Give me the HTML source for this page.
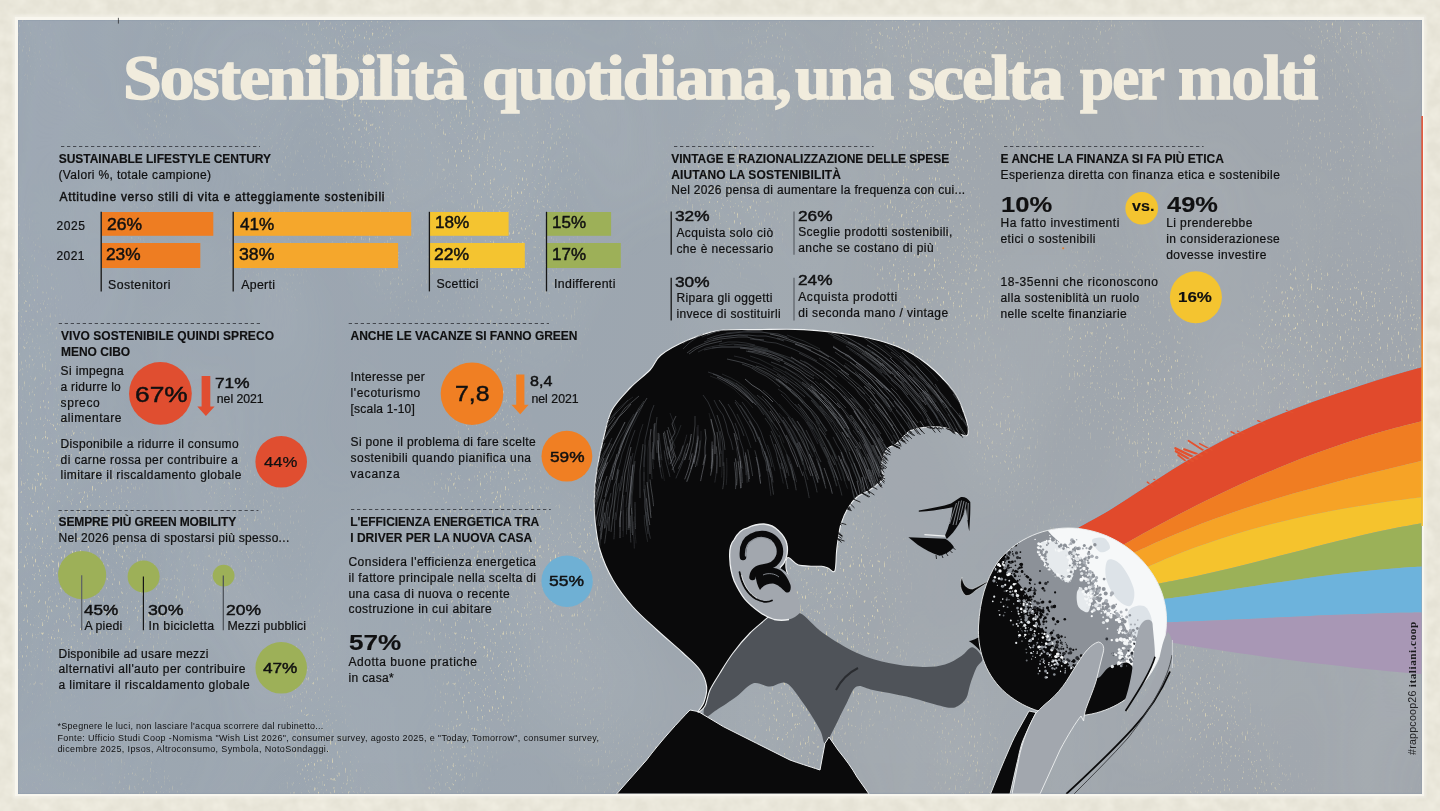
<!DOCTYPE html>
<html lang="it"><head><meta charset="utf-8"><title>Sostenibilità quotidiana, una scelta per molti</title>
<style>
html,body{margin:0;padding:0}
body{width:1440px;height:811px;overflow:hidden;background:#e5e2d5;position:relative;font-family:"Liberation Sans",sans-serif;color:#161616}
#panel{position:absolute;left:14.6px;top:16.8px;width:1409.4px;height:779.4px;background:#f8f6ee;box-shadow:0 0 3px 2px rgba(243,241,232,.8)}
#panel i{position:absolute;left:3.6px;top:3.4px;right:2.4px;bottom:2.5px;background:linear-gradient(100deg,#9aa5b1 0%,#9ca6b0 38%,#a0a7ae 62%,#a0a6ad 100%);display:block;box-shadow:inset 0 0 2px 0 #8595a8}
svg{position:absolute;left:0;top:0}
#txt{position:absolute;left:0;top:0;width:1440px;height:811px;will-change:transform}
.t{position:absolute;white-space:nowrap;line-height:1;transform-origin:0 0;color:#101011;-webkit-text-stroke:0.22px #101011}
.t.ttl{font-family:"Liberation Serif",serif;color:#f1ecdd;-webkit-text-stroke:1.4px #f1ecdd;letter-spacing:-1.8px}
.b{font-weight:700}
.m{-webkit-text-stroke:0.45px #101011}
.b{-webkit-text-stroke:0.15px #101011}
.mb{-webkit-text-stroke:0.75px #101011}
#vt{position:absolute;left:1406.6px;top:755px;transform-origin:0 0;transform:rotate(-90deg);white-space:nowrap;font-size:10.6px;line-height:1;letter-spacing:.25px;color:#1a1a1c}
#vt b{font-family:"Liberation Serif",serif;font-size:11.2px;letter-spacing:.55px}
</style></head><body>
<div id="panel"><i></i></div>
<svg width="1440" height="811" viewBox="0 0 1440 811">
<defs>
<filter id="spk" x="0" y="0" width="100%" height="100%" color-interpolation-filters="sRGB">
 <feTurbulence type="fractalNoise" baseFrequency="0.62 0.22" numOctaves="2" seed="4" result="fine"/>
 <feColorMatrix in="fine" type="matrix" values="0 0 0 0 0.91  0 0 0 0 0.87  0 0 0 0 0.72  6 0 0 0 -3.9" result="dots"/>
 <feTurbulence type="fractalNoise" baseFrequency="0.007 0.004" numOctaves="2" seed="9" result="low"/>
 <feColorMatrix in="low" type="matrix" values="0 0 0 0 1  0 0 0 0 1  0 0 0 0 1  0 5 0 0 -2.25" result="mask"/>
 <feComposite in="dots" in2="mask" operator="in" result="sp"/>
 <feColorMatrix in="low" type="matrix" values="0 0 0 0 0.93  0 0 0 0 0.93  0 0 0 0 0.90  0 0 0.24 0 -0.08" result="haze"/>
 <feMerge><feMergeNode in="haze"/><feMergeNode in="sp"/></feMerge>
</filter>
<filter id="mot" x="0" y="0" width="100%" height="100%" color-interpolation-filters="sRGB">
 <feTurbulence type="fractalNoise" baseFrequency="0.07" numOctaves="3" seed="2"/>
 <feColorMatrix type="matrix" values="0 0 0 0 0.955  0 0 0 0 0.945  0 0 0 0 0.9  0 0 1.2 0 -0.3"/>
</filter>
<clipPath id="outer"><path clip-rule="evenodd" d="M0 0H1440V811H0ZM15 17H1424V796H15Z"/></clipPath>
</defs>
<rect x="0" y="0" width="1440" height="811" filter="url(#mot)" clip-path="url(#outer)"/>
<g clip-path="url(#pclip)"><rect x="18" y="20" width="1404" height="774" filter="url(#spk)" opacity=".75"/></g>
<defs><clipPath id="pclip"><rect x="18.4" y="20.4" width="1403" height="773"/></clipPath></defs>

<defs><clipPath id="iclip"><rect x="18" y="20" width="1403.6" height="773.7"/></clipPath></defs><g clip-path="url(#iclip)">
<g id="rainbow">
<path d="M1075.0 545.0L1078.9 526.9C1084.1 524.0 1099.8 515.7 1110.2 509.4C1120.6 503.1 1131.0 495.9 1141.5 489.2C1151.9 482.5 1162.3 475.5 1172.7 469.0C1183.2 462.5 1193.6 456.2 1204.0 450.3C1214.5 444.5 1224.9 439.0 1235.3 433.8C1245.7 428.7 1256.2 424.0 1266.6 419.5C1277.0 415.1 1287.4 411.0 1297.9 407.0C1308.3 403.0 1318.7 399.3 1329.2 395.7C1339.6 392.1 1350.0 388.6 1360.4 385.2C1370.9 381.8 1381.3 378.4 1391.7 375.3C1402.1 372.2 1417.8 367.9 1423.0 366.5L1423.0 421.0C1418.5 422.2 1404.9 425.4 1395.9 427.8C1386.8 430.2 1377.8 432.8 1368.7 435.5C1359.7 438.2 1350.6 441.1 1341.6 444.2C1332.5 447.2 1323.5 450.4 1314.4 453.8C1305.4 457.1 1296.3 460.6 1287.3 464.3C1278.2 467.9 1269.2 471.7 1260.1 475.6C1251.1 479.6 1242.0 483.6 1233.0 487.8C1223.9 492.0 1214.9 496.4 1205.8 500.8C1196.8 505.3 1187.7 509.9 1178.7 514.6C1169.6 519.3 1160.6 524.1 1151.5 529.1C1142.5 534.0 1128.9 541.7 1124.4 544.3L1090.0 560.0Z" fill="#e14a2c"/>
<path d="M1090.0 560.0L1124.4 544.3C1128.9 541.7 1142.5 534.0 1151.5 529.1C1160.6 524.1 1169.6 519.3 1178.7 514.6C1187.7 509.9 1196.8 505.3 1205.8 500.8C1214.9 496.4 1223.9 492.0 1233.0 487.8C1242.0 483.6 1251.1 479.6 1260.1 475.6C1269.2 471.7 1278.2 467.9 1287.3 464.3C1296.3 460.6 1305.4 457.1 1314.4 453.8C1323.5 450.4 1332.5 447.2 1341.6 444.2C1350.6 441.1 1359.7 438.2 1368.7 435.5C1377.8 432.8 1386.8 430.2 1395.9 427.8C1404.9 425.4 1418.5 422.2 1423.0 421.0L1423.0 460.5C1418.7 461.5 1405.7 464.7 1397.1 466.8C1388.4 468.9 1379.8 471.0 1371.1 473.1C1362.5 475.3 1353.8 477.4 1345.2 479.6C1336.5 481.9 1327.9 484.1 1319.3 486.5C1310.6 488.8 1302.0 491.2 1293.3 493.6C1284.7 496.1 1276.0 498.7 1267.4 501.3C1258.7 504.0 1250.1 506.7 1241.4 509.6C1232.8 512.5 1224.2 515.5 1215.5 518.6C1206.9 521.8 1198.2 525.0 1189.6 528.4C1180.9 531.9 1172.3 535.4 1163.6 539.2C1155.0 542.9 1142.0 549.0 1137.7 550.9L1095.0 568.0Z" fill="#f07d22"/>
<path d="M1095.0 568.0L1137.7 550.9C1142.0 549.0 1155.0 542.9 1163.6 539.2C1172.3 535.4 1180.9 531.9 1189.6 528.4C1198.2 525.0 1206.9 521.8 1215.5 518.6C1224.2 515.5 1232.8 512.5 1241.4 509.6C1250.1 506.7 1258.7 504.0 1267.4 501.3C1276.0 498.7 1284.7 496.1 1293.3 493.6C1302.0 491.2 1310.6 488.8 1319.3 486.5C1327.9 484.1 1336.5 481.9 1345.2 479.6C1353.8 477.4 1362.5 475.3 1371.1 473.1C1379.8 471.0 1388.4 468.9 1397.1 466.8C1405.7 464.7 1418.7 461.5 1423.0 460.5L1423.0 497.1C1418.8 497.6 1406.2 499.1 1397.8 500.3C1389.4 501.4 1381.0 502.6 1372.6 503.9C1364.2 505.2 1355.8 506.5 1347.5 508.0C1339.1 509.4 1330.7 511.0 1322.3 512.7C1313.9 514.3 1305.5 516.1 1297.1 518.0C1288.7 519.9 1280.3 521.9 1271.9 524.0C1263.5 526.2 1255.1 528.4 1246.7 530.8C1238.3 533.3 1229.9 535.8 1221.5 538.5C1213.2 541.2 1204.8 544.1 1196.4 547.1C1188.0 550.2 1179.6 553.4 1171.2 556.7C1162.8 560.1 1150.2 565.7 1146.0 567.4L1100.0 580.0Z" fill="#f6a326"/>
<path d="M1100.0 580.0L1146.0 567.4C1150.2 565.7 1162.8 560.1 1171.2 556.7C1179.6 553.4 1188.0 550.2 1196.4 547.1C1204.8 544.1 1213.2 541.2 1221.5 538.5C1229.9 535.8 1238.3 533.3 1246.7 530.8C1255.1 528.4 1263.5 526.2 1271.9 524.0C1280.3 521.9 1288.7 519.9 1297.1 518.0C1305.5 516.1 1313.9 514.3 1322.3 512.7C1330.7 511.0 1339.1 509.4 1347.5 508.0C1355.8 506.5 1364.2 505.2 1372.6 503.9C1381.0 502.6 1389.4 501.4 1397.8 500.3C1406.2 499.1 1418.8 497.6 1423.0 497.1L1423.0 523.0C1419.0 523.7 1407.0 525.8 1399.0 527.3C1390.9 528.9 1382.9 530.6 1374.9 532.3C1366.9 534.1 1358.9 535.9 1350.9 537.9C1342.8 539.8 1334.8 541.7 1326.8 543.8C1318.8 545.8 1310.8 547.8 1302.8 549.9C1294.8 551.9 1286.7 554.0 1278.7 556.1C1270.7 558.2 1262.7 560.2 1254.7 562.3C1246.7 564.3 1238.7 566.3 1230.6 568.2C1222.6 570.1 1214.6 572.0 1206.6 573.8C1198.6 575.6 1190.6 577.3 1182.5 578.9C1174.5 580.5 1162.5 582.6 1158.5 583.4L1105.0 598.0Z" fill="#f5c32d"/>
<path d="M1105.0 598.0L1158.5 583.4C1162.5 582.6 1174.5 580.5 1182.5 578.9C1190.6 577.3 1198.6 575.6 1206.6 573.8C1214.6 572.0 1222.6 570.1 1230.6 568.2C1238.7 566.3 1246.7 564.3 1254.7 562.3C1262.7 560.2 1270.7 558.2 1278.7 556.1C1286.7 554.0 1294.8 551.9 1302.8 549.9C1310.8 547.8 1318.8 545.8 1326.8 543.8C1334.8 541.7 1342.8 539.8 1350.9 537.9C1358.9 535.9 1366.9 534.1 1374.9 532.3C1382.9 530.6 1390.9 528.9 1399.0 527.3C1407.0 525.8 1419.0 523.7 1423.0 523.0L1423.0 566.5C1419.1 566.8 1407.3 567.4 1399.4 568.0C1391.5 568.5 1383.7 569.2 1375.8 570.0C1367.9 570.7 1360.1 571.6 1352.2 572.5C1344.3 573.4 1336.5 574.3 1328.6 575.3C1320.7 576.3 1312.9 577.4 1305.0 578.5C1297.1 579.6 1289.3 580.7 1281.4 581.9C1273.5 583.0 1265.7 584.2 1257.8 585.4C1249.9 586.6 1242.1 587.8 1234.2 589.0C1226.3 590.1 1218.5 591.3 1210.6 592.5C1202.7 593.6 1194.9 594.8 1187.0 595.9C1179.1 596.9 1167.3 598.5 1163.4 599.0L1110.0 608.0Z" fill="#9bb158"/>
<path d="M1110.0 608.0L1163.4 599.0C1167.3 598.5 1179.1 596.9 1187.0 595.9C1194.9 594.8 1202.7 593.6 1210.6 592.5C1218.5 591.3 1226.3 590.1 1234.2 589.0C1242.1 587.8 1249.9 586.6 1257.8 585.4C1265.7 584.2 1273.5 583.0 1281.4 581.9C1289.3 580.7 1297.1 579.6 1305.0 578.5C1312.9 577.4 1320.7 576.3 1328.6 575.3C1336.5 574.3 1344.3 573.4 1352.2 572.5C1360.1 571.6 1367.9 570.7 1375.8 570.0C1383.7 569.2 1391.5 568.5 1399.4 568.0C1407.3 567.4 1419.1 566.8 1423.0 566.5L1423.0 612.5C1419.1 612.5 1407.5 612.7 1399.7 612.8C1392.0 613.0 1384.2 613.2 1376.5 613.4C1368.7 613.7 1361.0 613.9 1353.2 614.2C1345.5 614.5 1337.7 614.8 1329.9 615.1C1322.2 615.5 1314.4 615.8 1306.7 616.2C1298.9 616.5 1291.2 616.9 1283.4 617.3C1275.7 617.6 1267.9 618.0 1260.2 618.4C1252.4 618.7 1244.6 619.1 1236.9 619.5C1229.1 619.8 1221.4 620.2 1213.6 620.5C1205.9 620.8 1198.1 621.2 1190.4 621.4C1182.6 621.7 1171.0 622.1 1167.1 622.2L1115.0 618.0Z" fill="#6db3dc"/>
<path d="M1115.0 618.0L1167.1 622.2C1171.0 622.1 1182.6 621.7 1190.4 621.4C1198.1 621.2 1205.9 620.8 1213.6 620.5C1221.4 620.2 1229.1 619.8 1236.9 619.5C1244.6 619.1 1252.4 618.7 1260.2 618.4C1267.9 618.0 1275.7 617.6 1283.4 617.3C1291.2 616.9 1298.9 616.5 1306.7 616.2C1314.4 615.8 1322.2 615.5 1329.9 615.1C1337.7 614.8 1345.5 614.5 1353.2 614.2C1361.0 613.9 1368.7 613.7 1376.5 613.4C1384.2 613.2 1392.0 613.0 1399.7 612.8C1407.5 612.7 1419.1 612.5 1423.0 612.5L1423.0 674.2C1419.2 673.9 1407.7 672.9 1400.1 672.2C1392.4 671.5 1384.8 670.8 1377.1 670.0C1369.5 669.3 1361.9 668.5 1354.2 667.7C1346.6 666.8 1338.9 666.0 1331.3 665.1C1323.6 664.2 1316.0 663.3 1308.4 662.4C1300.7 661.4 1293.1 660.5 1285.4 659.5C1277.8 658.5 1270.2 657.4 1262.5 656.4C1254.9 655.3 1247.2 654.3 1239.6 653.2C1231.9 652.1 1224.3 650.9 1216.7 649.8C1209.0 648.7 1201.4 647.5 1193.7 646.3C1186.1 645.1 1174.6 643.2 1170.8 642.6L1120.0 632.0Z" fill="#a897b5"/>
<path d="M1189.0 463.6l-11.0 -8.6" stroke="#e4512f" stroke-width="1.6" stroke-linecap="round"/><path d="M1193.0 461.2l-17.3 -10.0" stroke="#e4512f" stroke-width="2.2" stroke-linecap="round"/><path d="M1197.0 458.8l-21.6 -10.5" stroke="#e4512f" stroke-width="2.4" stroke-linecap="round"/><path d="M1202.0 455.8l-17.9 -6.5" stroke="#e4512f" stroke-width="2.0" stroke-linecap="round"/><path d="M1207.0 452.8l-18.5 -12.0" stroke="#e4512f" stroke-width="1.8" stroke-linecap="round"/><path d="M1212.0 450.2l-12.4 -6.6" stroke="#e4512f" stroke-width="1.5" stroke-linecap="round"/><path d="M1153.0 486.2l-5.7 -4.1" stroke="#e4512f" stroke-width="1.4" stroke-linecap="round"/><path d="M1159.0 482.3l-5.2 -3.0" stroke="#e4512f" stroke-width="1.2" stroke-linecap="round"/><path d="M1239.0 436.0l-7.9 -4.2" stroke="#e4512f" stroke-width="1.6" stroke-linecap="round"/><path d="M1244.0 433.7l-6.5 -2.6" stroke="#e4512f" stroke-width="1.3" stroke-linecap="round"/><path d="M1265.0 424.1l-7.3 -3.4" stroke="#e4512f" stroke-width="1.4" stroke-linecap="round"/><path d="M1293.0 412.7l-6.6 -2.4" stroke="#e4512f" stroke-width="1.2" stroke-linecap="round"/>
<path d="M1078.9 526.9C1084.1 524.0 1099.8 515.7 1110.2 509.4C1120.6 503.1 1131.0 495.9 1141.5 489.2C1151.9 482.5 1162.3 475.5 1172.7 469.0C1183.2 462.5 1193.6 456.2 1204.0 450.3C1214.5 444.5 1224.9 439.0 1235.3 433.8C1245.7 428.7 1256.2 424.0 1266.6 419.5C1277.0 415.1 1287.4 411.0 1297.9 407.0C1308.3 403.0 1318.7 399.3 1329.2 395.7C1339.6 392.1 1350.0 388.6 1360.4 385.2C1370.9 381.8 1381.3 378.4 1391.7 375.3C1402.1 372.2 1417.8 367.9 1423.0 366.5" stroke="#7fc0e0" stroke-width="0.8" fill="none" opacity=".8"/>
</g>
<path d="M783.0 616.6C789.1 615.5 793.3 610.6 800.0 613.3C806.7 616.0 813.5 626.4 823.0 633.0C832.5 639.6 845.8 648.0 857.0 653.0C868.2 658.0 879.0 661.0 890.0 663.3C901.0 665.6 913.8 666.8 923.0 667.0C932.2 667.2 938.6 666.3 945.0 664.5C951.4 662.7 956.8 658.9 961.4 656.0C966.0 653.1 969.0 646.9 972.5 647.3C976.0 647.7 981.8 654.9 982.4 658.4C983.0 661.9 978.3 663.9 976.2 668.3C974.1 672.7 971.6 680.0 970.0 685.0C968.4 690.0 968.3 694.5 966.3 698.0C964.3 701.5 960.9 704.4 958.0 706.0C955.1 707.6 953.7 708.2 949.0 707.7C944.3 707.2 937.1 704.9 930.0 703.0C922.9 701.1 916.1 698.8 906.6 696.6C897.1 694.4 881.3 691.7 873.0 690.0C864.7 688.3 861.0 684.4 856.6 686.6C852.2 688.8 850.5 696.1 846.6 703.3C842.7 710.5 836.9 723.3 833.3 730.0C829.7 736.7 827.2 743.3 825.0 743.3C822.8 743.3 823.6 736.7 820.0 730.0C816.4 723.3 808.9 711.1 803.3 703.3C797.7 695.5 792.1 686.1 786.6 683.3C781.1 680.5 775.5 686.6 770.0 686.6C764.5 686.6 758.9 681.6 753.3 683.3C747.7 685.0 742.7 692.1 736.6 696.6C730.5 701.1 722.0 706.7 716.6 710.0C711.2 713.3 705.4 719.9 704.0 716.6C702.6 713.3 705.0 698.9 708.0 690.0C711.0 681.1 716.1 671.6 722.0 663.3C727.9 655.0 736.4 647.2 743.3 640.0C750.2 632.8 756.7 623.9 763.3 620.0C769.9 616.1 776.9 617.7 783.0 616.6Z" fill="#4f5359"/>
<path d="M836 690C842 678 850 672 858 668" stroke="#2a2c30" stroke-width="2" fill="none"/>
<path d="M698.3 711.6L690 710C680 720 660 742 646.6 760L616.6 794H869L857 777C852 768 846 760 838 750L829 737L825 743.3L820 770C808 766 798 763 790 760L756.6 743.3L723.3 726.6Z" fill="#0a0a0b" stroke="#eef0f1" stroke-width="1" stroke-linejoin="round"/>
<path d="M698.0 712.0C697.8 711.3 702.6 706.2 704.0 702.0C705.4 697.8 707.3 691.9 706.6 686.6C705.9 681.3 703.9 675.6 700.0 670.0C696.1 664.4 690.2 659.7 683.0 653.0C675.8 646.3 665.3 637.7 657.0 630.0C648.7 622.3 640.3 615.3 633.0 607.0C625.7 598.7 618.5 589.5 613.0 580.0C607.5 570.5 603.0 560.0 600.0 550.0C597.0 540.0 595.9 529.2 595.0 520.0C594.1 510.8 594.2 503.5 594.5 495.0C594.8 486.5 595.4 478.8 597.0 469.0C598.6 459.2 601.5 445.8 604.0 436.0C606.5 426.2 607.7 418.0 612.0 410.0C616.3 402.0 623.7 394.7 630.0 388.0C636.3 381.3 644.8 375.5 650.0 370.0C655.2 364.5 654.7 360.0 661.0 355.0C667.3 350.0 678.3 344.1 688.0 340.0C697.7 335.9 707.0 332.3 719.0 330.6C731.0 328.9 745.8 329.8 760.0 329.6C774.2 329.4 788.5 328.7 804.0 329.6C819.5 330.5 837.7 332.3 853.0 335.0C868.3 337.7 883.7 341.2 896.0 346.0C908.3 350.8 917.3 356.3 927.0 364.0C936.7 371.7 947.8 383.8 954.0 392.0C960.2 400.2 961.7 407.2 964.0 413.0C966.3 418.8 967.5 423.2 968.0 427.0C968.5 430.8 968.8 434.5 967.0 435.5C965.2 436.5 960.5 434.2 957.0 433.0C953.5 431.8 950.7 429.0 946.0 428.0C941.3 427.0 934.7 426.7 929.0 427.0C923.3 427.3 916.2 428.5 912.0 430.0C907.8 431.5 906.7 433.7 904.0 436.0C901.3 438.3 898.8 441.8 896.0 444.0C893.2 446.2 889.3 446.2 887.0 449.0C884.7 451.8 882.8 457.2 882.0 461.0C881.2 464.8 881.7 469.3 882.0 472.0C882.3 474.7 884.5 475.2 884.0 477.0C883.5 478.8 881.7 480.7 879.0 483.0C876.3 485.3 871.7 488.7 868.0 491.0C864.3 493.3 860.3 494.2 857.0 497.0C853.7 499.8 850.7 503.5 848.0 508.0C845.3 512.5 842.7 518.7 841.0 524.0C839.3 529.3 838.8 535.3 838.0 540.0C837.2 544.7 837.0 546.8 836.5 552.0C836.0 557.2 836.2 568.3 834.8 571.0C833.4 573.7 830.2 568.8 828.0 568.0C825.8 567.2 824.4 566.6 821.6 566.3C818.8 566.0 814.9 566.5 811.0 566.2C807.1 566.0 801.8 566.2 798.0 564.8C794.2 563.3 790.0 557.0 788.0 557.5C786.0 558.0 785.7 563.4 786.0 568.0C786.3 572.6 791.0 579.7 790.0 585.0C789.0 590.3 783.3 595.0 780.0 600.0C776.7 605.0 775.0 609.5 770.0 615.0C765.0 620.5 756.2 626.7 750.0 633.0C743.8 639.3 738.0 646.3 733.0 653.0C728.0 659.7 723.8 666.8 720.0 673.0C716.2 679.2 712.5 684.5 710.0 690.0C707.5 695.5 707.0 702.3 705.0 706.0C703.0 709.7 698.2 712.7 698.0 712.0Z" fill="#0a0a0b" stroke="#eef0f1" stroke-width="1.1" stroke-linejoin="round"/>
<defs><clipPath id="hclip"><path d="M698.0 712.0C697.8 711.3 702.6 706.2 704.0 702.0C705.4 697.8 707.3 691.9 706.6 686.6C705.9 681.3 703.9 675.6 700.0 670.0C696.1 664.4 690.2 659.7 683.0 653.0C675.8 646.3 665.3 637.7 657.0 630.0C648.7 622.3 640.3 615.3 633.0 607.0C625.7 598.7 618.5 589.5 613.0 580.0C607.5 570.5 603.0 560.0 600.0 550.0C597.0 540.0 595.9 529.2 595.0 520.0C594.1 510.8 594.2 503.5 594.5 495.0C594.8 486.5 595.4 478.8 597.0 469.0C598.6 459.2 601.5 445.8 604.0 436.0C606.5 426.2 607.7 418.0 612.0 410.0C616.3 402.0 623.7 394.7 630.0 388.0C636.3 381.3 644.8 375.5 650.0 370.0C655.2 364.5 654.7 360.0 661.0 355.0C667.3 350.0 678.3 344.1 688.0 340.0C697.7 335.9 707.0 332.3 719.0 330.6C731.0 328.9 745.8 329.8 760.0 329.6C774.2 329.4 788.5 328.7 804.0 329.6C819.5 330.5 837.7 332.3 853.0 335.0C868.3 337.7 883.7 341.2 896.0 346.0C908.3 350.8 917.3 356.3 927.0 364.0C936.7 371.7 947.8 383.8 954.0 392.0C960.2 400.2 961.7 407.2 964.0 413.0C966.3 418.8 967.5 423.2 968.0 427.0C968.5 430.8 968.8 434.5 967.0 435.5C965.2 436.5 960.5 434.2 957.0 433.0C953.5 431.8 950.7 429.0 946.0 428.0C941.3 427.0 934.7 426.7 929.0 427.0C923.3 427.3 916.2 428.5 912.0 430.0C907.8 431.5 906.7 433.7 904.0 436.0C901.3 438.3 898.8 441.8 896.0 444.0C893.2 446.2 889.3 446.2 887.0 449.0C884.7 451.8 882.8 457.2 882.0 461.0C881.2 464.8 881.7 469.3 882.0 472.0C882.3 474.7 884.5 475.2 884.0 477.0C883.5 478.8 881.7 480.7 879.0 483.0C876.3 485.3 871.7 488.7 868.0 491.0C864.3 493.3 860.3 494.2 857.0 497.0C853.7 499.8 850.7 503.5 848.0 508.0C845.3 512.5 842.7 518.7 841.0 524.0C839.3 529.3 838.8 535.3 838.0 540.0C837.2 544.7 837.0 546.8 836.5 552.0C836.0 557.2 836.2 568.3 834.8 571.0C833.4 573.7 830.2 568.8 828.0 568.0C825.8 567.2 824.4 566.6 821.6 566.3C818.8 566.0 814.9 566.5 811.0 566.2C807.1 566.0 801.8 566.2 798.0 564.8C794.2 563.3 790.0 557.0 788.0 557.5C786.0 558.0 785.7 563.4 786.0 568.0C786.3 572.6 791.0 579.7 790.0 585.0C789.0 590.3 783.3 595.0 780.0 600.0C776.7 605.0 775.0 609.5 770.0 615.0C765.0 620.5 756.2 626.7 750.0 633.0C743.8 639.3 738.0 646.3 733.0 653.0C728.0 659.7 723.8 666.8 720.0 673.0C716.2 679.2 712.5 684.5 710.0 690.0C707.5 695.5 707.0 702.3 705.0 706.0C703.0 709.7 698.2 712.7 698.0 712.0Z"/></clipPath></defs>
<g clip-path="url(#hclip)" fill="none" stroke-linejoin="round"><path d="M764.5 451.2C764.9 452.7 766.3 456.9 767.1 459.9C767.8 462.8 768.2 465.7 768.9 468.7C769.5 471.6 770.5 476.0 770.9 477.4" stroke="#80838a" stroke-width="0.55"/><path d="M633 397L626 402L619 408L613 415L607 421" stroke="#35373b" stroke-width="0.55"/><path d="M838.6 463.1C839.2 464.5 840.8 468.7 841.8 471.5C842.8 474.4 843.5 477.3 844.5 480.1C845.5 483.0 847.0 487.2 847.5 488.6" stroke="#44474b" stroke-width="0.45"/><path d="M922 460L925 468L929 476L932 485L935 493L938 502L940 510L943 519" stroke="#4c4f54" stroke-width="0.55"/><path d="M747.7 449.4C748.0 450.9 748.9 455.3 749.5 458.2C750.1 461.2 750.7 464.1 751.2 467.1C751.7 470.0 752.4 474.5 752.6 476.0" stroke="#6e7176" stroke-width="0.45"/><path d="M624 495L623 504L623 513L623 522L623 531" stroke="#4c4f54" stroke-width="0.45"/><path d="M617 412L611 419L606 426L600 433L595 440L590 448L585 455L581 463L576 471L571 478" stroke="#44474b" stroke-width="0.45"/><path d="M689 354L696 349L705 345L713 343L722 341" stroke="#80838a" stroke-width="0.45"/><path d="M961 496L963 505L966 513L969 522L971 530L973 539L975 548L976 557" stroke="#6e7176" stroke-width="0.45"/><path d="M676 416L672 424L675 433L670 441L673 449L676 458L672 466" stroke="#6e7176" stroke-width="0.55"/><path d="M740 348L749 349L758 351L766 353L775 356L783 360" stroke="#80838a" stroke-width="0.55"/><path d="M904 361L911 367L918 373L924 380L929 387L935 394L941 401L946 408" stroke="#80838a" stroke-width="0.45"/><path d="M851 415L856 422L861 429L866 437L871 445L875 453L879 461L882 469" stroke="#6e7176" stroke-width="0.55"/><path d="M901 459L905 467L908 476L910 484L913 493L916 501L918 510" stroke="#80838a" stroke-width="0.65"/><path d="M625 377L618 372L610 367L603 362L596 356L590 350" stroke="#6e7176" stroke-width="0.55"/><path d="M632 361L627 354L622 346L618 338L614 330L610 322L607 314L604 305" stroke="#6e7176" stroke-width="0.65"/><path d="M713 339L721 337L730 336L739 335L748 335L757 336L766 336L775 338L784 341" stroke="#4c4f54" stroke-width="0.65"/><path d="M857 501L859 510L861 519L862 527L863 536L864 545L864 554" stroke="#35373b" stroke-width="0.65"/><path d="M603 473L600 482L598 490L595 499L593 507L590 516L588 525L586 534" stroke="#35373b" stroke-width="0.65"/><path d="M853 430L858 437L863 445L866 453L871 461L874 469L877 478L880 486" stroke="#4c4f54" stroke-width="0.45"/><path d="M781.0 462.9C781.4 464.3 782.7 468.6 783.6 471.5C784.4 474.4 785.3 477.3 786.0 480.2C786.8 483.1 787.6 487.5 787.9 489.0" stroke="#4c4f54" stroke-width="0.65"/><path d="M931 473L934 481L938 489L940 498L943 507L945 515L947 524L949 533" stroke="#5a5d62" stroke-width="0.45"/><path d="M739.5 456.2C739.7 457.7 740.5 462.1 740.9 465.1C741.3 468.1 741.7 471.0 742.0 474.0C742.2 477.0 742.4 481.5 742.5 483.0" stroke="#44474b" stroke-width="0.65"/><path d="M900 356L907 362L914 368L920 374L926 381L932 388L938 395L943 402" stroke="#80838a" stroke-width="0.55"/><path d="M848 392L854 398L860 405L866 412L871 419L876 427L881 434" stroke="#6e7176" stroke-width="0.45"/><path d="M885 502L887 510L890 519L891 528L893 537L894 546L895 555L896 564L897 573L897 582" stroke="#4c4f54" stroke-width="0.45"/><path d="M876 446L880 454L884 462L888 470L891 479" stroke="#80838a" stroke-width="0.65"/><path d="M931 351L938 357L945 363L951 369L957 376L963 383L969 390L974 397L979 404L984 412" stroke="#6e7176" stroke-width="0.55"/><path d="M634.4 516.5C634.4 518.0 634.3 522.5 634.4 525.5C634.5 528.5 634.9 531.5 635.2 534.5C635.5 537.4 636.0 541.9 636.1 543.4" stroke="#35373b" stroke-width="0.45"/><path d="M958 446L962 454L966 463L970 471L973 479L977 487L980 495" stroke="#35373b" stroke-width="0.55"/><path d="M777 338L786 340L795 343L803 346L811 350" stroke="#5a5d62" stroke-width="0.55"/><path d="M652.7 442.0C652.7 443.5 652.7 448.0 652.7 451.0C652.7 454.0 652.7 457.0 652.8 460.0C653.0 463.0 653.4 467.5 653.5 469.0" stroke="#35373b" stroke-width="0.65"/><path d="M947 350L954 357L960 363L966 370L972 376L978 383" stroke="#80838a" stroke-width="0.65"/><path d="M949 517L952 526L953 535L955 544L956 553L957 562L959 570L960 579L961 588" stroke="#80838a" stroke-width="0.55"/><path d="M788 417L793 425L798 432L803 440L806 448L810 456L813 465L816 473L818 482" stroke="#5a5d62" stroke-width="0.55"/><path d="M779 404L785 411L791 418L796 426L801 433L806 441L809 449L813 457" stroke="#44474b" stroke-width="0.45"/><path d="M655 335L656 326L658 317L660 308L662 299L666 291L669 283" stroke="#80838a" stroke-width="0.65"/><path d="M793 425L798 433L802 441L806 449L809 457L812 466L815 474L818 483" stroke="#5a5d62" stroke-width="0.65"/><path d="M896 524L898 533L899 542L900 551L901 560L902 569L903 578" stroke="#5a5d62" stroke-width="0.45"/><path d="M865 387L872 394L877 401L883 408L888 415" stroke="#5a5d62" stroke-width="0.55"/><path d="M633 453L631 462L630 471L629 480L628 489L627 498L626 507" stroke="#4c4f54" stroke-width="0.45"/><path d="M893 435L898 442L902 450L906 458L910 467" stroke="#5a5d62" stroke-width="0.45"/><path d="M907 543L909 552L910 561L910 570L911 579L911 588L911 597L911 606L911 615L911 624" stroke="#80838a" stroke-width="0.55"/><path d="M603 481L601 490L598 499L596 507L594 516L592 525" stroke="#5a5d62" stroke-width="0.45"/><path d="M787 335L795 338L804 341L812 345L820 349" stroke="#35373b" stroke-width="0.65"/><path d="M819 439L823 448L827 456L830 464L833 473L835 481" stroke="#35373b" stroke-width="0.45"/><path d="M928 519L930 528L932 537L933 546L935 555L936 564L936 573L937 582L938 591L938 600" stroke="#4c4f54" stroke-width="0.65"/><path d="M616 390L608 395L601 399L593 404L586 410L579 415L572 421L565 427L559 433L552 439" stroke="#35373b" stroke-width="0.65"/><path d="M606 463L603 472L601 480L598 489L595 497L592 506L591 515L589 523L587 532" stroke="#6e7176" stroke-width="0.65"/><path d="M797 421L802 428L806 436L810 444L814 452L818 460L821 469L823 478" stroke="#44474b" stroke-width="0.55"/><path d="M940 366L946 373L952 380L958 387L963 394L969 401L974 408L979 416" stroke="#35373b" stroke-width="0.65"/><path d="M713.0 445.0C712.9 446.5 713.0 451.0 712.9 454.0C712.7 457.0 712.5 460.0 712.3 463.0C712.1 466.0 711.7 470.4 711.6 471.9" stroke="#4c4f54" stroke-width="0.65"/><path d="M707 335L715 332L724 329L733 327L742 326L751 325" stroke="#6e7176" stroke-width="0.65"/><path d="M744.4 455.9C744.6 457.4 745.0 461.9 745.4 464.9C745.8 467.8 746.5 470.8 746.8 473.7C747.1 476.7 747.0 481.2 747.1 482.7" stroke="#35373b" stroke-width="0.65"/><path d="M687.7 443.5C687.2 444.9 685.8 449.2 684.8 452.0C683.9 454.9 683.2 457.8 682.1 460.6C681.0 463.4 678.9 467.4 678.3 468.7" stroke="#5a5d62" stroke-width="0.65"/><path d="M858 343L866 348L873 352L881 358L887 363L894 369L901 375L907 382" stroke="#35373b" stroke-width="0.65"/><path d="M694.5 456.0C694.1 457.5 693.2 461.9 692.4 464.8C691.6 467.7 690.6 470.5 689.6 473.3C688.6 476.2 686.9 480.3 686.4 481.7" stroke="#5a5d62" stroke-width="0.55"/><path d="M868 383L875 389L881 396L887 403L892 410" stroke="#6e7176" stroke-width="0.55"/><path d="M855 372L862 379L869 385L875 391L881 398L886 405L891 412" stroke="#44474b" stroke-width="0.65"/><path d="M620 390L613 394L605 399L598 405L591 410L584 415L576 421L570 427" stroke="#5a5d62" stroke-width="0.65"/><path d="M959 435L964 443L968 451L972 459L975 467L979 475L983 483" stroke="#80838a" stroke-width="0.45"/><path d="M742 364L750 367L758 372L766 376L773 381L780 387" stroke="#5a5d62" stroke-width="0.55"/><path d="M838.6 455.7C839.1 457.1 840.7 461.3 841.9 464.1C843.0 466.8 844.3 469.5 845.5 472.3C846.6 475.1 848.2 479.3 848.8 480.7" stroke="#80838a" stroke-width="0.65"/><path d="M626 377L618 373L611 367L604 362L598 355L591 349L586 342L580 335L575 328L570 320" stroke="#44474b" stroke-width="0.55"/><path d="M859 453L862 462L866 470L869 478L872 487L875 495L877 504L879 513L880 522L882 531" stroke="#6e7176" stroke-width="0.55"/><path d="M607 476L604 485L602 494L600 502L598 511L596 520L594 529" stroke="#80838a" stroke-width="0.45"/><path d="M922 392L928 399L934 406L939 413L944 421" stroke="#44474b" stroke-width="0.65"/><path d="M908 422L912 430L917 438L921 445L926 453L929 462L932 470L936 478L939 487" stroke="#5a5d62" stroke-width="0.45"/><path d="M872 470L875 479L878 487L881 496L883 505L885 513" stroke="#6e7176" stroke-width="0.55"/><path d="M895 403L901 410L906 417L910 425L915 433L919 441" stroke="#35373b" stroke-width="0.65"/><path d="M726 333L735 332L744 331L753 332L762 332L771 334L780 336L789 338" stroke="#35373b" stroke-width="0.55"/><path d="M935 384L940 392L946 399L951 406L957 413L962 420" stroke="#6e7176" stroke-width="0.55"/><path d="M955 345L961 351L968 357L974 363L980 370L986 377L992 384" stroke="#44474b" stroke-width="0.65"/><path d="M713 374L721 377L729 382L737 387L744 393L750 399L756 405" stroke="#6e7176" stroke-width="0.55"/><path d="M712.7 448.8C712.7 450.3 712.6 454.8 712.5 457.8C712.4 460.8 712.4 463.8 712.0 466.8C711.7 469.7 710.8 474.2 710.6 475.6" stroke="#6e7176" stroke-width="0.65"/><path d="M776 379L783 384L790 390L797 396L803 403" stroke="#80838a" stroke-width="0.55"/><path d="M888 344L895 350L902 356L908 362L915 368L921 375" stroke="#35373b" stroke-width="0.65"/><path d="M920 421L925 428L929 436L933 444L937 452L941 460L944 469" stroke="#80838a" stroke-width="0.65"/><path d="M617 454L615 462L612 471L609 480L607 488L605 497" stroke="#6e7176" stroke-width="0.65"/><path d="M862 353L869 358L876 363L883 369L889 376L896 382L902 388L908 395" stroke="#5a5d62" stroke-width="0.65"/><path d="M631.5 508.0C631.5 509.5 631.8 514.0 631.9 517.0C632.0 520.0 632.1 523.0 632.2 526.0C632.3 529.0 632.5 533.5 632.5 535.0" stroke="#6e7176" stroke-width="0.55"/><path d="M712 348L721 347L730 347L739 347L748 348L757 350L766 352" stroke="#4c4f54" stroke-width="0.55"/><path d="M873 499L875 508L877 517L879 525L880 534" stroke="#5a5d62" stroke-width="0.55"/><path d="M806 430L810 438L814 446L817 454L821 462" stroke="#5a5d62" stroke-width="0.55"/><path d="M874 535L875 544L876 553L877 562L878 571L878 580L879 589L879 598" stroke="#35373b" stroke-width="0.65"/><path d="M834 427L839 435L843 442L848 450L852 458L855 467L859 475L862 483" stroke="#35373b" stroke-width="0.65"/><path d="M857 353L865 358L872 364L879 369L886 375" stroke="#35373b" stroke-width="0.65"/><path d="M824 400L830 406L835 414L841 420L846 428L851 435" stroke="#4c4f54" stroke-width="0.55"/><path d="M637 412L633 420L629 428L625 437L622 445L619 454L616 462L614 471L612 480" stroke="#80838a" stroke-width="0.65"/><path d="M786.9 454.3C787.4 455.7 788.6 460.1 789.5 462.9C790.4 465.8 791.3 468.7 792.1 471.6C792.8 474.4 793.8 478.9 794.1 480.3" stroke="#5a5d62" stroke-width="0.65"/><path d="M946 466L949 474L953 482L956 491L959 499L961 508" stroke="#44474b" stroke-width="0.55"/><path d="M685.8 453.3C685.3 454.7 683.9 458.9 682.8 461.7C681.7 464.6 680.5 467.3 679.4 470.1C678.2 472.8 676.4 477.0 675.9 478.4" stroke="#4c4f54" stroke-width="0.55"/><path d="M819 358L827 363L834 368L842 373L848 379" stroke="#5a5d62" stroke-width="0.45"/><path d="M765 418L770 425L774 433L778 442L781 450L784 459L787 467L789 476" stroke="#5a5d62" stroke-width="0.45"/><path d="M750 339L759 340L767 342L776 343L785 346L793 349L802 353L810 357L817 361" stroke="#44474b" stroke-width="0.65"/><path d="M845 363L852 368L859 374L866 380L872 386L878 393L884 400L889 407" stroke="#35373b" stroke-width="0.55"/><path d="M906 514L908 523L910 532L912 541L913 550L914 558L915 567L915 576" stroke="#44474b" stroke-width="0.55"/><path d="M932 395L937 402L942 410L947 417L951 425L956 433L961 441L965 449L970 456" stroke="#35373b" stroke-width="0.45"/><path d="M783 417L788 424L793 431L797 439L801 448" stroke="#4c4f54" stroke-width="0.55"/><path d="M944 519L946 528L947 537L948 546L950 555L951 564L952 573L953 582L953 591L954 600" stroke="#44474b" stroke-width="0.65"/><path d="M890 358L896 364L903 370L909 377L915 383L922 390L927 397L933 404L938 411" stroke="#80838a" stroke-width="0.55"/><path d="M650.0 479.5C650.2 480.9 650.7 485.4 651.2 488.4C651.6 491.3 652.2 494.3 652.6 497.3C653.0 500.2 653.4 504.7 653.6 506.2" stroke="#6e7176" stroke-width="0.55"/><path d="M958 433L962 440L966 448L970 457L974 464L978 473" stroke="#6e7176" stroke-width="0.55"/><path d="M604 467L600 476L598 484L595 493L592 501L590 510L588 519L586 528" stroke="#4c4f54" stroke-width="0.55"/><path d="M952 390L957 398L963 405L968 412L972 420L977 427L982 435L987 442" stroke="#6e7176" stroke-width="0.45"/><path d="M859 374L866 380L872 386L879 393L885 399L890 407" stroke="#80838a" stroke-width="0.45"/><path d="M815 381L822 387L828 393L835 399L841 406L847 413L852 420" stroke="#44474b" stroke-width="0.55"/><path d="M936 348L942 354L949 360L955 366L961 373" stroke="#80838a" stroke-width="0.45"/><path d="M868 338L876 343L883 348L890 354L897 359L904 365" stroke="#35373b" stroke-width="0.45"/><path d="M664.2 450.4C664.4 451.9 665.0 456.4 665.5 459.3C666.1 462.3 666.9 465.2 667.7 468.1C668.4 471.0 669.6 475.3 669.9 476.8" stroke="#44474b" stroke-width="0.65"/><path d="M872 445L876 453L880 461L883 470L887 478L890 487L892 495L894 504L896 513" stroke="#5a5d62" stroke-width="0.55"/><path d="M778 379L785 385L792 390L799 396L805 403L811 409L817 416L822 424L827 431" stroke="#80838a" stroke-width="0.45"/><path d="M913 339L920 344L927 350L933 357L940 363" stroke="#5a5d62" stroke-width="0.65"/><path d="M614 399L606 404L599 409L592 415L585 421L578 427L572 433L566 440L560 446" stroke="#35373b" stroke-width="0.65"/><path d="M841 459L844 467L848 475L851 484L853 493L855 501L858 510L859 519" stroke="#80838a" stroke-width="0.45"/><path d="M651 429L650 438L650 447L650 456L650 465L650 474" stroke="#80838a" stroke-width="0.55"/><path d="M956 477L959 485L961 494L965 502L967 511L970 519L972 528L975 537L976 546L978 555" stroke="#6e7176" stroke-width="0.65"/><path d="M869 453L873 461L877 469L880 478L882 486L885 495L888 504L890 512L892 521" stroke="#5a5d62" stroke-width="0.45"/><path d="M890 503L892 512L895 521L896 530L898 538L899 547L900 556L900 565" stroke="#35373b" stroke-width="0.45"/><path d="M797 421L802 429L806 437L811 444L815 452" stroke="#5a5d62" stroke-width="0.65"/><path d="M695 416L695 425L694 434L693 443L691 451L689 460" stroke="#6e7176" stroke-width="0.45"/><path d="M880 486L883 495L885 503L888 512L890 521" stroke="#35373b" stroke-width="0.55"/><path d="M844 396L850 403L857 410L862 417L867 424L873 431L877 439L882 447L886 455" stroke="#5a5d62" stroke-width="0.65"/><path d="M858 387L864 394L870 401L876 408L881 415L886 422L891 430L896 438L900 446L904 454" stroke="#44474b" stroke-width="0.55"/><path d="M734.3 462.2C734.5 463.7 735.0 468.2 735.3 471.2C735.6 474.1 735.8 477.1 735.9 480.1C735.9 483.1 735.6 487.6 735.6 489.1" stroke="#80838a" stroke-width="0.45"/><path d="M896 540L897 549L898 558L898 567L899 576L899 585L900 594" stroke="#6e7176" stroke-width="0.45"/><path d="M886 387L893 394L898 401L904 408L909 415L914 423L918 430L923 438" stroke="#35373b" stroke-width="0.45"/><path d="M773 368L781 372L788 377L795 382L802 388L808 395L815 401L821 408L826 415L832 422" stroke="#44474b" stroke-width="0.55"/><path d="M934 390L939 397L945 404L950 412L955 419L960 427L965 434L969 442" stroke="#6e7176" stroke-width="0.65"/><path d="M924 469L928 477L930 486L933 494L936 503L937 512L939 521L941 529" stroke="#80838a" stroke-width="0.65"/><path d="M749 421L754 428L757 436L761 445L763 454L766 462L767 471" stroke="#4c4f54" stroke-width="0.65"/><path d="M698.4 437.4C698.2 438.9 697.4 443.4 697.0 446.3C696.6 449.3 696.2 452.3 695.7 455.2C695.2 458.2 694.3 462.6 694.0 464.1" stroke="#5a5d62" stroke-width="0.55"/><path d="M848 382L855 388L860 395L867 402L872 409" stroke="#4c4f54" stroke-width="0.65"/><path d="M627.1 507.4C627.0 508.9 626.5 513.4 626.4 516.4C626.3 519.4 626.4 522.4 626.4 525.4C626.4 528.4 626.5 532.9 626.6 534.4" stroke="#44474b" stroke-width="0.55"/><path d="M894 376L901 383L906 390L912 397L918 404L923 411L928 419L932 426" stroke="#6e7176" stroke-width="0.55"/><path d="M795 382L802 388L808 394L814 401L820 408L825 415" stroke="#44474b" stroke-width="0.45"/><path d="M924 398L929 405L934 413L939 420L944 428L949 436L953 443L957 451" stroke="#35373b" stroke-width="0.65"/><path d="M870 480L873 488L876 497L878 506L880 514L882 523L883 532" stroke="#80838a" stroke-width="0.45"/><path d="M807 422L812 429L816 437L821 445L825 453L829 461L832 469L835 478" stroke="#4c4f54" stroke-width="0.45"/><path d="M956 433L960 441L964 449L969 457L972 465L976 473L980 481L983 490L986 498L988 507" stroke="#44474b" stroke-width="0.45"/><path d="M860 357L868 362L875 368L882 374L888 380" stroke="#35373b" stroke-width="0.55"/><path d="M931 509L933 518L936 527L937 536L938 545L940 553L941 562L942 571" stroke="#35373b" stroke-width="0.45"/><path d="M959 415L964 422L969 430L973 438L978 446L982 454L986 462L989 470L993 478L996 487" stroke="#5a5d62" stroke-width="0.55"/><path d="M923 390L929 396L935 404L940 411L945 418L950 426L955 434L959 441L964 449" stroke="#44474b" stroke-width="0.45"/><path d="M926 398L932 405L937 412L943 420L947 427" stroke="#35373b" stroke-width="0.55"/><path d="M610 407L603 413L597 419L590 426L584 432L578 439L572 446L567 453L561 459" stroke="#35373b" stroke-width="0.65"/><path d="M905 486L907 495L909 504L912 513L913 521L915 530" stroke="#44474b" stroke-width="0.65"/><path d="M712.1 441.5C712.1 443.0 711.9 447.5 711.9 450.5C711.9 453.5 712.0 456.5 711.9 459.5C711.8 462.5 711.3 467.0 711.2 468.5" stroke="#80838a" stroke-width="0.55"/><path d="M896 501L898 509L901 518L902 527L904 536L905 545L906 554L906 563L907 572L907 581" stroke="#35373b" stroke-width="0.55"/><path d="M929 465L932 473L935 482L938 490L941 499" stroke="#4c4f54" stroke-width="0.55"/><path d="M896 410L902 417L907 424L912 432L916 440L920 448L924 456L928 464L932 472L935 480" stroke="#5a5d62" stroke-width="0.65"/><path d="M710 376L718 379L726 384L734 389L740 395L747 401L753 408" stroke="#35373b" stroke-width="0.45"/><path d="M716.3 446.4C716.4 447.9 716.8 452.4 717.0 455.4C717.1 458.4 717.1 461.4 717.0 464.4C717.0 467.4 716.8 471.9 716.8 473.4" stroke="#80838a" stroke-width="0.45"/><path d="M811 400L817 407L823 414L828 421L833 429L838 437L842 444L846 452" stroke="#6e7176" stroke-width="0.45"/><path d="M884 444L889 452L892 460L896 468L899 477" stroke="#5a5d62" stroke-width="0.65"/><path d="M913 466L916 474L919 483L922 491L924 500L927 509L929 518L931 526L932 535" stroke="#80838a" stroke-width="0.45"/><path d="M736.2 447.3C736.4 448.7 737.2 453.2 737.7 456.1C738.2 459.1 738.8 462.0 739.2 465.0C739.5 468.0 739.7 472.5 739.8 474.0" stroke="#35373b" stroke-width="0.55"/><path d="M816.4 458.6C816.9 460.0 818.8 464.1 819.9 466.9C821.0 469.7 822.0 472.6 822.8 475.4C823.7 478.3 824.7 482.7 825.0 484.2" stroke="#4c4f54" stroke-width="0.65"/><path d="M962 418L967 425L971 433L976 441L980 449L984 457" stroke="#5a5d62" stroke-width="0.45"/><path d="M892 441L896 449L900 457L903 465L907 474L910 482L913 491" stroke="#80838a" stroke-width="0.45"/><path d="M917 374L922 381L928 387L934 394L940 401L945 409L950 416" stroke="#44474b" stroke-width="0.55"/><path d="M913 496L915 505L917 514L919 522L920 531L922 540L924 549L924 558L925 567" stroke="#5a5d62" stroke-width="0.55"/><path d="M641 371L634 365L629 358L624 350L619 343L614 335L611 327L608 318" stroke="#6e7176" stroke-width="0.65"/><path d="M955 451L959 459L963 468L966 476L969 484L972 493L975 502L978 510" stroke="#5a5d62" stroke-width="0.45"/><path d="M880 369L887 375L893 381L900 387L905 394L911 401L916 408L922 415L926 423" stroke="#4c4f54" stroke-width="0.45"/><path d="M869 409L874 416L880 423L885 431L889 438L894 446L898 454" stroke="#6e7176" stroke-width="0.55"/><path d="M647 358L644 350L641 341L639 333L638 324" stroke="#6e7176" stroke-width="0.45"/><path d="M919 393L925 400L930 407L935 415L940 423" stroke="#4c4f54" stroke-width="0.55"/><path d="M819 428L824 435L829 443L833 451L836 459" stroke="#6e7176" stroke-width="0.55"/><path d="M842 335L850 339L857 343L865 348L872 353L880 358L887 364L894 370L900 376" stroke="#80838a" stroke-width="0.45"/><path d="M799 353L807 357L815 361L823 366L830 371L837 377" stroke="#6e7176" stroke-width="0.45"/><path d="M844 365L851 371L858 376L865 382L871 389" stroke="#80838a" stroke-width="0.45"/><path d="M955 540L957 549L958 558L960 567L961 575L962 584L963 593L963 602" stroke="#4c4f54" stroke-width="0.45"/><path d="M788.6 456.5C789.1 457.9 790.6 462.1 791.6 464.9C792.5 467.8 793.6 470.6 794.4 473.5C795.3 476.4 796.3 480.7 796.7 482.2" stroke="#4c4f54" stroke-width="0.45"/><path d="M854 499L856 508L857 517L859 526L860 535L861 544L862 553" stroke="#6e7176" stroke-width="0.55"/><path d="M946 523L948 532L950 540L951 549L952 558" stroke="#44474b" stroke-width="0.55"/><path d="M966 452L970 460L974 468L978 476L981 485" stroke="#6e7176" stroke-width="0.55"/><path d="M884 385L890 391L896 398L901 405L907 412L912 420L917 427L922 435" stroke="#80838a" stroke-width="0.45"/><path d="M651.0 452.2C651.0 453.7 651.1 458.2 651.2 461.2C651.3 464.2 651.5 467.2 651.6 470.2C651.7 473.2 651.9 477.7 652.0 479.2" stroke="#44474b" stroke-width="0.55"/><path d="M901 381L907 388L912 394L918 401L923 409" stroke="#44474b" stroke-width="0.55"/><path d="M639 396L632 402L625 408L620 415L614 423L609 430L605 438L600 445L595 453" stroke="#6e7176" stroke-width="0.55"/><path d="M804 361L812 366L819 371L826 377L833 382L840 388L847 394L853 401L859 408" stroke="#35373b" stroke-width="0.55"/><path d="M837 403L843 410L848 417L854 424L858 432" stroke="#80838a" stroke-width="0.55"/><path d="M745 379L752 385L760 390L767 396L773 402" stroke="#80838a" stroke-width="0.65"/><path d="M735.4 458.4C735.6 459.9 736.4 464.3 736.7 467.3C737.0 470.3 737.0 473.3 737.0 476.3C737.0 479.3 736.7 483.8 736.6 485.3" stroke="#6e7176" stroke-width="0.65"/><path d="M853 511L855 520L856 529L858 538L858 547L859 556" stroke="#6e7176" stroke-width="0.45"/><path d="M913 377L919 384L925 391L930 398L935 405L941 413L946 420L950 428L955 436" stroke="#5a5d62" stroke-width="0.55"/><path d="M719 400L724 407L728 415L732 423L735 431L738 440" stroke="#80838a" stroke-width="0.45"/><path d="M833 337L841 341L849 345L857 350L864 355L871 360L878 366L885 372L891 379L897 385" stroke="#44474b" stroke-width="0.55"/><path d="M850 362L857 367L864 373L871 379L877 386L883 393L889 400L894 407" stroke="#6e7176" stroke-width="0.65"/><path d="M904 484L907 492L910 501L912 509L914 518L915 527L917 536L919 545L920 554L920 563" stroke="#44474b" stroke-width="0.45"/><path d="M920 433L924 441L927 449L931 457L935 465" stroke="#35373b" stroke-width="0.55"/><path d="M786 435L790 443L794 451L797 459L800 468L803 476" stroke="#5a5d62" stroke-width="0.65"/><path d="M726.7 458.0C726.7 459.5 726.8 464.0 726.9 467.0C726.9 470.0 726.9 473.0 726.8 476.0C726.7 479.0 726.3 483.5 726.2 484.9" stroke="#35373b" stroke-width="0.55"/><path d="M882 363L888 370L895 376L901 382L907 389L913 396L918 403L924 410L929 418L934 425" stroke="#6e7176" stroke-width="0.55"/><path d="M932 346L939 352L945 359L951 365L957 372L963 378" stroke="#80838a" stroke-width="0.45"/><path d="M848 439L853 446L857 454L860 463L864 471L867 479" stroke="#5a5d62" stroke-width="0.55"/><path d="M948 495L951 503L953 512L956 521L958 529L960 538L962 547" stroke="#44474b" stroke-width="0.45"/><path d="M879 456L883 464L887 473L889 481L892 490L895 498L897 507" stroke="#4c4f54" stroke-width="0.55"/><path d="M639 408L634 416L630 424L626 432L622 440L619 449" stroke="#35373b" stroke-width="0.45"/><path d="M700.2 440.5C700.0 442.0 699.9 446.5 699.5 449.4C699.1 452.4 698.4 455.3 697.7 458.3C697.0 461.2 695.8 465.5 695.4 467.0" stroke="#80838a" stroke-width="0.45"/><path d="M936 497L939 506L941 514L943 523L945 532L947 541L948 550" stroke="#4c4f54" stroke-width="0.55"/><path d="M725 378L733 383L740 388L747 394L754 400L759 407L765 414L770 421L774 429L779 437" stroke="#44474b" stroke-width="0.45"/><path d="M942 537L943 546L944 555L945 563L946 572L947 581" stroke="#44474b" stroke-width="0.45"/><path d="M609 454L605 462L601 470L598 478L595 487L592 495L589 504L587 513L585 521L582 530" stroke="#5a5d62" stroke-width="0.65"/><path d="M635 362L630 355L625 347L621 339L618 331L615 322" stroke="#5a5d62" stroke-width="0.55"/><path d="M655 423L654 432L654 441L653 450L653 459" stroke="#80838a" stroke-width="0.55"/><path d="M941 350L948 356L954 363L961 369L967 376L973 383L978 390L984 397L990 404" stroke="#5a5d62" stroke-width="0.65"/><path d="M880 475L884 483L887 492L889 500L891 509" stroke="#5a5d62" stroke-width="0.55"/><path d="M727 379L735 383L742 388L749 394L755 401L761 407L767 415L772 422" stroke="#35373b" stroke-width="0.65"/><path d="M691.3 434.0C691.0 435.5 690.5 440.0 689.8 442.9C689.2 445.8 688.3 448.7 687.4 451.6C686.6 454.5 685.1 458.7 684.6 460.1" stroke="#80838a" stroke-width="0.65"/><path d="M809.3 454.1C809.9 455.5 811.8 459.6 813.0 462.4C814.1 465.1 815.2 467.9 816.2 470.8C817.2 473.6 818.6 477.9 819.1 479.3" stroke="#6e7176" stroke-width="0.65"/><path d="M865 476L868 484L871 493L874 501L876 510L878 519" stroke="#35373b" stroke-width="0.65"/><path d="M962 411L968 418L973 426L977 433L981 441L986 449L990 457" stroke="#5a5d62" stroke-width="0.55"/><path d="M963 376L969 383L975 390L980 397L985 404L990 412L996 419" stroke="#44474b" stroke-width="0.55"/><path d="M949 422L954 430L959 438L963 446L967 454L970 462" stroke="#6e7176" stroke-width="0.45"/><path d="M941 362L947 369L953 375L959 382L965 389L971 396L976 403L981 410L986 418L991 425" stroke="#4c4f54" stroke-width="0.45"/><path d="M938 363L944 370L950 377L955 384L961 390" stroke="#6e7176" stroke-width="0.45"/><path d="M812 390L819 397L825 403L831 410L836 417L841 425L846 432L851 440L856 448" stroke="#6e7176" stroke-width="0.65"/><path d="M783 366L791 371L799 375L806 381L813 387L819 393L826 399" stroke="#35373b" stroke-width="0.55"/><path d="M612 363L606 357L600 351L594 344L589 336L583 329L578 322L573 314" stroke="#4c4f54" stroke-width="0.45"/><path d="M952 337L958 343L965 349L971 356L978 362L984 368L990 375L996 382" stroke="#44474b" stroke-width="0.55"/><path d="M734 433L736 441L738 450L740 459L741 468" stroke="#80838a" stroke-width="0.55"/><path d="M756.1 457.0C756.4 458.5 757.6 462.8 758.1 465.8C758.7 468.7 758.9 471.7 759.3 474.7C759.7 477.7 760.4 482.1 760.6 483.6" stroke="#80838a" stroke-width="0.65"/><path d="M657.8 440.4C657.9 441.9 658.1 446.4 658.2 449.4C658.4 452.4 658.4 455.4 658.8 458.4C659.1 461.3 659.9 465.8 660.1 467.3" stroke="#80838a" stroke-width="0.65"/><path d="M831 333L839 336L847 341L855 345L863 350L870 355L877 361L884 366" stroke="#6e7176" stroke-width="0.55"/><path d="M809.3 466.6C809.8 468.0 811.5 472.2 812.5 475.0C813.4 477.9 814.3 480.7 815.1 483.6C815.9 486.5 816.8 490.9 817.1 492.4" stroke="#44474b" stroke-width="0.65"/><path d="M651 338L651 329L651 320L652 311L654 302L656 293L659 285L662 276L666 268" stroke="#80838a" stroke-width="0.45"/><path d="M754.8 450.3C755.2 451.7 756.4 456.0 757.1 459.0C757.8 461.9 758.4 464.8 758.9 467.8C759.5 470.7 760.3 475.2 760.5 476.6" stroke="#4c4f54" stroke-width="0.65"/><path d="M762 396L768 402L774 409L779 417L784 424L788 432L792 440L797 448L800 456L803 465" stroke="#5a5d62" stroke-width="0.45"/><path d="M936 337L943 343L950 349L956 355L962 362L969 368L975 375L980 382L986 389" stroke="#5a5d62" stroke-width="0.45"/><path d="M741 386L748 392L755 398L761 405L766 412L771 419L776 427L781 435L784 443" stroke="#35373b" stroke-width="0.45"/><path d="M833 437L837 445L842 453L845 461L849 469L851 478L854 486L857 495" stroke="#44474b" stroke-width="0.65"/><path d="M654 424L654 433L654 442L654 451L654 460" stroke="#44474b" stroke-width="0.55"/><path d="M719 344L728 342L737 342L746 343L755 345" stroke="#44474b" stroke-width="0.55"/><path d="M638 378L630 374L623 369L616 363L609 357L603 350L598 343L592 336" stroke="#80838a" stroke-width="0.55"/><path d="M624 343L620 335L617 327L614 318L612 309L610 301L608 292" stroke="#35373b" stroke-width="0.45"/><path d="M643 424L640 433L638 442L636 450L634 459L633 468L632 477L631 486L630 495L630 504" stroke="#44474b" stroke-width="0.45"/><path d="M824 371L831 377L838 383L845 389L851 395L857 402L863 409" stroke="#44474b" stroke-width="0.55"/><path d="M948 373L954 380L960 387L966 394L972 401L977 408L982 415" stroke="#5a5d62" stroke-width="0.55"/><path d="M748 351L757 352L766 354L774 358L783 361L791 365L799 369L806 374L814 379" stroke="#5a5d62" stroke-width="0.65"/><path d="M777.1 457.2C777.5 458.7 778.6 463.0 779.3 465.9C780.0 468.8 780.7 471.8 781.4 474.7C782.0 477.6 783.0 482.0 783.3 483.5" stroke="#44474b" stroke-width="0.45"/><path d="M905 486L908 494L911 503L913 512L915 520L917 529L918 538L919 547L920 556" stroke="#35373b" stroke-width="0.45"/><path d="M765 399L771 406L777 413L782 420L787 428L791 435L795 444L799 452L802 460" stroke="#4c4f54" stroke-width="0.65"/><path d="M957 499L960 508L962 517L965 525L967 534L969 543L971 552L972 560" stroke="#35373b" stroke-width="0.55"/><path d="M819 350L827 355L834 359L842 365L849 370L856 375L863 382L869 388L875 394" stroke="#5a5d62" stroke-width="0.55"/><path d="M873 424L878 432L882 440L886 448L890 456L894 464L897 473L900 481" stroke="#4c4f54" stroke-width="0.55"/><path d="M811 386L818 392L824 398L830 404L836 411L842 418L847 426L851 434L856 441L861 449" stroke="#80838a" stroke-width="0.55"/><path d="M792 437L796 446L799 454L803 462L805 471L808 480" stroke="#35373b" stroke-width="0.65"/><path d="M767.4 444.9C767.9 446.3 769.5 450.5 770.4 453.4C771.2 456.2 771.8 459.2 772.6 462.1C773.3 465.0 774.5 469.3 774.9 470.8" stroke="#44474b" stroke-width="0.45"/><path d="M601 448L597 456L593 464L589 472L585 480L582 489" stroke="#80838a" stroke-width="0.65"/><path d="M607 412L600 418L594 424L588 431L582 437L576 444L570 451L565 459L560 466L555 473" stroke="#44474b" stroke-width="0.65"/><path d="M668 336L672 328L676 320L680 312L686 305" stroke="#5a5d62" stroke-width="0.65"/><path d="M857 481L859 490L861 498L863 507L865 516L867 525L868 534" stroke="#80838a" stroke-width="0.55"/><path d="M826 364L833 369L840 375L847 381L854 387L860 393L866 400" stroke="#35373b" stroke-width="0.55"/><path d="M820 406L826 413L832 420L837 428L842 435L846 443L850 451" stroke="#4c4f54" stroke-width="0.65"/><path d="M621.1 511.2C620.9 512.6 620.3 517.1 620.1 520.1C619.9 523.1 620.1 526.1 620.1 529.1C620.1 532.1 620.0 536.6 620.0 538.1" stroke="#80838a" stroke-width="0.55"/><path d="M878 437L882 445L887 453L891 461L895 469L898 477L901 486L904 494L907 503" stroke="#4c4f54" stroke-width="0.65"/><path d="M717 432L718 440L719 449L720 458L720 467" stroke="#6e7176" stroke-width="0.55"/><path d="M694 335L701 330L709 325L717 321L725 318L734 315L743 313" stroke="#5a5d62" stroke-width="0.55"/><path d="M919 502L921 511L923 520L925 529L927 537L928 546L929 555L930 564" stroke="#80838a" stroke-width="0.45"/><path d="M703 395L708 402L712 411L715 419L718 428L720 436L720 445L721 454" stroke="#4c4f54" stroke-width="0.55"/><path d="M853 491L855 499L857 508L859 517L861 526L862 534L863 543L864 552" stroke="#44474b" stroke-width="0.45"/><path d="M795 404L801 410L806 417L811 425L816 433L820 441L824 448L828 457" stroke="#44474b" stroke-width="0.45"/><path d="M892 484L895 493L897 502L899 510L901 519" stroke="#80838a" stroke-width="0.65"/><path d="M619 483L617 492L615 501L614 510L613 519" stroke="#35373b" stroke-width="0.65"/><path d="M798 404L804 411L809 418L815 425L819 433L823 441L827 449L831 457L835 465" stroke="#5a5d62" stroke-width="0.65"/><path d="M891 380L898 386L904 392L909 399L915 406L921 414" stroke="#44474b" stroke-width="0.65"/><path d="M658.2 432.9C658.2 434.4 658.2 438.9 658.3 441.9C658.3 444.9 658.4 447.9 658.6 450.9C658.8 453.9 659.3 458.3 659.4 459.8" stroke="#6e7176" stroke-width="0.65"/><path d="M640 333L639 325L638 316L638 307L639 298L640 289L641 280L642 271L644 262L647 253" stroke="#5a5d62" stroke-width="0.65"/><path d="M846 346L854 351L861 356L868 362L875 367L882 373" stroke="#4c4f54" stroke-width="0.65"/><path d="M942 400L948 407L953 415L958 422L962 430" stroke="#44474b" stroke-width="0.45"/><path d="M735 402L740 410L744 417L749 425L753 433L756 442" stroke="#4c4f54" stroke-width="0.65"/><path d="M806 383L813 389L820 395L826 401L831 408L837 415" stroke="#35373b" stroke-width="0.55"/><path d="M681 425L678 433L674 441L670 449L673 458" stroke="#44474b" stroke-width="0.45"/><path d="M928 383L934 390L939 397L945 404L950 412L955 419L959 427L964 435L969 442L973 450" stroke="#5a5d62" stroke-width="0.55"/><path d="M639 375L632 369L625 363L619 357L614 350L609 342L604 335L600 327L596 319L592 311" stroke="#6e7176" stroke-width="0.45"/><path d="M961 338L968 344L975 350L981 357L987 363L993 370L999 377" stroke="#4c4f54" stroke-width="0.45"/><path d="M922 529L924 538L925 547L927 556L928 565" stroke="#44474b" stroke-width="0.65"/><path d="M868 469L871 477L874 486L876 495L879 503L881 512L882 521L884 530L885 539L886 548" stroke="#80838a" stroke-width="0.65"/><path d="M925 391L931 398L936 406L941 413L946 421L950 428" stroke="#80838a" stroke-width="0.45"/><path d="M646.4 498.3C646.6 499.8 647.0 504.3 647.3 507.3C647.6 510.2 647.9 513.2 648.3 516.2C648.7 519.2 649.5 523.6 649.8 525.1" stroke="#80838a" stroke-width="0.55"/><path d="M668 427L671 436L673 445L669 453L671 461" stroke="#6e7176" stroke-width="0.45"/><path d="M738.0 461.4C738.2 462.9 738.9 467.4 739.2 470.4C739.6 473.3 739.8 476.3 740.1 479.3C740.3 482.3 740.5 486.8 740.6 488.3" stroke="#6e7176" stroke-width="0.65"/><path d="M833 346L840 351L848 356L855 361L862 366L869 372L876 378L883 384L889 391L895 397" stroke="#4c4f54" stroke-width="0.65"/><path d="M886 447L890 455L893 463L896 471L900 480L903 488L906 497L909 505L911 514" stroke="#5a5d62" stroke-width="0.65"/><path d="M867 454L871 462L874 470L877 479L880 487L883 496L885 505L887 513L890 522L891 531" stroke="#6e7176" stroke-width="0.45"/><path d="M619 470L617 479L616 488L615 497L614 506L613 515L612 524L611 532" stroke="#6e7176" stroke-width="0.45"/><path d="M735 423L738 431L740 440L743 449L744 457L746 466L746 475" stroke="#4c4f54" stroke-width="0.55"/><path d="M770 334L779 336L788 339L796 342L805 345L813 348L821 352L829 357" stroke="#6e7176" stroke-width="0.65"/><path d="M866 348L874 353L881 359L888 364L894 371L900 377L907 383L913 390L919 397" stroke="#44474b" stroke-width="0.45"/><path d="M856 446L860 454L864 462L867 470L871 479L874 487L877 496L879 504L881 513L883 522" stroke="#5a5d62" stroke-width="0.65"/><path d="M602.2 520.7C602.0 522.2 601.5 526.6 601.1 529.6C600.8 532.6 600.5 535.6 600.2 538.6C600.0 541.6 599.7 546.0 599.6 547.5" stroke="#4c4f54" stroke-width="0.65"/><path d="M622 476L620 485L619 494L618 502L617 511L616 520" stroke="#4c4f54" stroke-width="0.45"/><path d="M754 348L763 350L772 352L780 356L788 360L796 364L804 368L812 373L819 379" stroke="#35373b" stroke-width="0.55"/><path d="M947 464L951 472L954 480L957 489L960 497L962 506L965 515" stroke="#80838a" stroke-width="0.65"/><path d="M948 516L950 525L952 534L953 543L955 551L956 560" stroke="#5a5d62" stroke-width="0.55"/><path d="M943 380L949 386L955 393L960 400L965 408" stroke="#35373b" stroke-width="0.65"/><path d="M777 374L784 379L791 385L798 391L805 397" stroke="#4c4f54" stroke-width="0.65"/><path d="M818.0 462.6C818.5 464.0 820.0 468.3 820.9 471.2C821.8 474.0 822.5 476.9 823.4 479.8C824.2 482.7 825.5 487.0 825.9 488.5" stroke="#5a5d62" stroke-width="0.65"/><path d="M958 526L961 535L963 544L964 552L966 561L967 570L968 579" stroke="#5a5d62" stroke-width="0.55"/><path d="M635.0 502.1C635.0 503.6 635.0 508.1 635.1 511.1C635.1 514.1 635.2 517.1 635.2 520.1C635.3 523.1 635.5 527.6 635.5 529.1" stroke="#4c4f54" stroke-width="0.65"/><path d="M926 350L933 356L939 362L946 369L952 375L958 382L963 389" stroke="#6e7176" stroke-width="0.55"/><path d="M895 397L901 404L906 411L911 419L916 426L921 434L925 441L930 449" stroke="#4c4f54" stroke-width="0.65"/><path d="M802 384L809 389L815 396L822 402L828 409L834 415L838 423L844 430" stroke="#4c4f54" stroke-width="0.65"/><path d="M643 405L639 413L635 421L631 429L628 437L625 446L622 454L620 463L617 472L615 480" stroke="#44474b" stroke-width="0.55"/><path d="M836 433L840 441L845 448L848 457L852 465L855 473L858 482" stroke="#4c4f54" stroke-width="0.65"/><path d="M902 352L908 358L915 364L921 371L927 377L933 384" stroke="#5a5d62" stroke-width="0.55"/><path d="M660.2 454.3C660.3 455.8 660.7 460.3 661.2 463.2C661.7 466.2 662.4 469.1 662.9 472.1C663.4 475.0 664.2 479.5 664.4 480.9" stroke="#35373b" stroke-width="0.45"/><path d="M779 413L785 420L790 427L794 435L798 443L802 451" stroke="#35373b" stroke-width="0.55"/><path d="M790 375L797 380L804 385L811 391L818 398L824 404L829 411L835 419" stroke="#35373b" stroke-width="0.45"/><path d="M952 378L958 384L964 391L969 398L974 406L979 413L984 421L989 428L993 436L998 444" stroke="#44474b" stroke-width="0.55"/><path d="M929 526L931 535L932 544L933 553L934 561L935 570L936 579L936 588" stroke="#35373b" stroke-width="0.45"/><path d="M770 411L775 418L780 426L784 434L788 442L791 450L795 459L798 467" stroke="#80838a" stroke-width="0.55"/><path d="M940 449L943 457L947 465L951 474L955 482L958 490L961 499L964 507" stroke="#44474b" stroke-width="0.65"/><path d="M851 464L854 472L858 480L861 489L863 497L865 506L867 515" stroke="#44474b" stroke-width="0.45"/><path d="M881 489L884 497L886 506L889 515L891 524L892 532L893 541" stroke="#44474b" stroke-width="0.55"/><path d="M943 368L949 375L955 382L961 389L967 396L972 403L977 410" stroke="#4c4f54" stroke-width="0.55"/><path d="M916 441L921 449L924 457L928 465L931 473" stroke="#44474b" stroke-width="0.65"/><path d="M913 421L918 428L922 436L927 444L931 452L935 460L939 468L942 476" stroke="#80838a" stroke-width="0.55"/><path d="M745.2 452.4C745.5 453.8 746.4 458.2 747.0 461.2C747.5 464.1 747.8 467.1 748.3 470.1C748.7 473.0 749.3 477.5 749.5 479.0" stroke="#80838a" stroke-width="0.55"/><path d="M891 352L898 357L905 363L912 369L918 375L925 382L931 388L937 395L942 403" stroke="#6e7176" stroke-width="0.45"/><path d="M761.3 444.0C761.8 445.4 763.3 449.6 764.2 452.5C765.2 455.3 766.1 458.2 766.8 461.1C767.5 464.0 768.2 468.5 768.5 469.9" stroke="#4c4f54" stroke-width="0.55"/><path d="M634 414L629 422L625 430L620 438L616 446L613 454L609 462" stroke="#35373b" stroke-width="0.65"/><path d="M928 510L930 519L932 528L934 537L935 546L936 554L937 563L937 572L938 581" stroke="#35373b" stroke-width="0.45"/><path d="M658.6 451.9C658.7 453.4 659.0 457.9 659.3 460.9C659.6 463.9 659.9 466.9 660.3 469.8C660.8 472.8 661.9 477.2 662.2 478.6" stroke="#4c4f54" stroke-width="0.55"/><path d="M900 424L905 431L909 439L913 447L917 456L920 464L924 472" stroke="#4c4f54" stroke-width="0.55"/><path d="M867 345L875 350L882 355L889 361L896 366L903 372L909 379L915 386L921 393L926 400" stroke="#6e7176" stroke-width="0.65"/><path d="M845 355L853 360L860 366L867 372L874 377L880 383L887 390" stroke="#4c4f54" stroke-width="0.65"/><path d="M767.2 469.0C767.4 470.5 768.2 474.9 768.7 477.9C769.1 480.9 769.4 483.9 769.8 486.8C770.2 489.8 770.8 494.3 770.9 495.8" stroke="#4c4f54" stroke-width="0.45"/><path d="M962 535L964 544L966 552L968 561L970 570" stroke="#6e7176" stroke-width="0.65"/><path d="M955 485L959 493L962 501L964 510L966 519L968 528L970 536L972 545" stroke="#4c4f54" stroke-width="0.65"/><path d="M948 369L954 376L959 383L965 390L970 397L975 405L980 412L985 420L990 427L995 435" stroke="#4c4f54" stroke-width="0.45"/><path d="M614 345L610 337L605 330L601 321L598 313L595 304L592 296L589 287L587 279L585 270" stroke="#44474b" stroke-width="0.55"/><path d="M864 503L866 512L868 521L870 529L871 538L871 547L872 556L873 565" stroke="#5a5d62" stroke-width="0.45"/><path d="M900 458L903 466L907 474L910 483L913 491L915 500" stroke="#80838a" stroke-width="0.45"/><path d="M728 404L733 412L737 420L741 428L744 436" stroke="#44474b" stroke-width="0.65"/><path d="M770 435L773 444L776 452L778 461L781 469" stroke="#44474b" stroke-width="0.65"/><path d="M824.1 468.0C824.6 469.4 826.1 473.6 827.1 476.5C828.1 479.3 829.2 482.1 830.1 485.0C831.0 487.8 831.9 492.2 832.3 493.7" stroke="#6e7176" stroke-width="0.65"/><path d="M779 435L782 444L786 452L788 461L791 469L793 478" stroke="#35373b" stroke-width="0.65"/><path d="M602 401L595 407L588 412L581 418L574 424L567 430L561 436" stroke="#4c4f54" stroke-width="0.55"/><path d="M872 352L879 357L886 363L893 369L899 375L905 381L911 388L917 395L923 402" stroke="#6e7176" stroke-width="0.55"/><path d="M928 394L933 401L938 409L943 416L948 424L952 432L956 440L960 448" stroke="#4c4f54" stroke-width="0.65"/><path d="M647 398L642 406L637 413L633 421L629 429L625 437L621 445L618 454" stroke="#80838a" stroke-width="0.45"/><path d="M827.7 460.8C828.3 462.2 830.0 466.3 831.1 469.1C832.2 471.9 833.3 474.7 834.2 477.6C835.1 480.4 836.1 484.8 836.5 486.3" stroke="#44474b" stroke-width="0.55"/><path d="M740 347L749 348L757 349L766 351L775 354L783 357L791 361L799 366L806 371L814 376" stroke="#4c4f54" stroke-width="0.65"/><path d="M631 456L629 465L628 474L627 483L626 492" stroke="#4c4f54" stroke-width="0.65"/><path d="M646.3 512.0C646.5 513.5 647.0 518.0 647.4 521.0C647.7 523.9 648.1 526.9 648.6 529.9C649.1 532.8 650.1 537.2 650.4 538.7" stroke="#4c4f54" stroke-width="0.55"/><path d="M612 444L608 452L605 460L601 469L598 477L595 486L592 494L589 503" stroke="#35373b" stroke-width="0.65"/><path d="M791 391L798 397L804 403L810 410L816 417L822 424L826 432" stroke="#44474b" stroke-width="0.45"/><path d="M875 541L876 550L876 559L877 568L877 577L877 586L877 595L876 604L876 613" stroke="#44474b" stroke-width="0.45"/><path d="M604.7 512.6C604.4 514.0 603.7 518.5 603.2 521.4C602.8 524.4 602.4 527.4 602.0 530.4C601.6 533.3 601.1 537.8 601.0 539.3" stroke="#6e7176" stroke-width="0.55"/><path d="M902 445L906 453L910 462L914 470L917 478" stroke="#5a5d62" stroke-width="0.65"/><path d="M644 401L639 408L635 416L630 424L626 432L623 440L620 448L617 457L613 465L611 474" stroke="#5a5d62" stroke-width="0.45"/><path d="M917 517L920 525L921 534L923 543L924 552" stroke="#44474b" stroke-width="0.55"/><path d="M795 344L803 347L811 351L819 355L827 359L835 364L842 370L849 375" stroke="#80838a" stroke-width="0.65"/><path d="M736 383L743 389L750 395L756 401L762 408L768 415L773 423L778 430" stroke="#44474b" stroke-width="0.65"/><path d="M853 421L858 428L863 436L868 444L872 452" stroke="#4c4f54" stroke-width="0.55"/><path d="M959 382L965 389L970 397L976 404L981 411" stroke="#5a5d62" stroke-width="0.55"/><path d="M628.7 503.2C628.7 504.7 628.3 509.1 628.2 512.1C628.1 515.1 628.2 518.1 628.1 521.1C628.1 524.1 627.8 528.6 627.8 530.1" stroke="#44474b" stroke-width="0.45"/><path d="M702 337L711 333L719 331L728 329L737 327L746 325L754 325" stroke="#35373b" stroke-width="0.65"/><path d="M608.4 516.8C608.2 518.3 607.4 522.7 606.9 525.7C606.5 528.6 606.2 531.6 605.8 534.6C605.4 537.6 604.8 542.0 604.6 543.5" stroke="#5a5d62" stroke-width="0.55"/><path d="M903 504L905 512L908 521L910 530L911 539L912 548" stroke="#5a5d62" stroke-width="0.55"/><path d="M953 394L959 402L964 409L969 417L974 424L979 432" stroke="#4c4f54" stroke-width="0.65"/><path d="M784 363L792 367L800 372L807 378L814 383L820 389L827 395L834 402L840 408" stroke="#80838a" stroke-width="0.55"/><path d="M891 534L892 543L893 552L894 560L895 569" stroke="#44474b" stroke-width="0.45"/><path d="M642 349L639 340L637 332L635 323L634 314L633 305L634 296L634 287" stroke="#80838a" stroke-width="0.65"/><path d="M946 454L950 462L954 470L957 478L960 487L963 495L965 504L968 512L971 521" stroke="#80838a" stroke-width="0.55"/><path d="M604 338L599 331L594 323L590 315L587 307L583 298L581 290L578 281" stroke="#6e7176" stroke-width="0.65"/><path d="M821 394L828 400L833 407L839 414L844 421L849 429" stroke="#80838a" stroke-width="0.65"/><path d="M607.7 501.7C607.5 503.2 606.7 507.6 606.3 510.6C605.9 513.6 605.5 516.6 605.2 519.5C604.9 522.5 604.5 527.0 604.4 528.5" stroke="#80838a" stroke-width="0.45"/><path d="M687 353L694 348L703 344L711 341L720 339L729 338L738 337L747 337L755 339L764 340" stroke="#5a5d62" stroke-width="0.65"/><path d="M635 461L634 470L633 479L632 487L631 496L631 505L632 514" stroke="#6e7176" stroke-width="0.45"/><path d="M799 442L803 451L807 459L810 467L813 476" stroke="#80838a" stroke-width="0.45"/><path d="M705.8 454.6C705.5 456.1 704.9 460.5 704.3 463.5C703.8 466.4 703.0 469.3 702.4 472.2C701.7 475.2 700.9 479.6 700.6 481.1" stroke="#80838a" stroke-width="0.55"/><path d="M789 429L793 437L797 445L800 453L803 462L806 470" stroke="#44474b" stroke-width="0.45"/><path d="M841 370L848 376L855 382L862 388L868 395L874 401L879 408L885 415L890 423L895 431" stroke="#5a5d62" stroke-width="0.55"/><path d="M868 457L871 465L875 473L878 482L881 490L883 499L886 508" stroke="#4c4f54" stroke-width="0.65"/><path d="M800 408L805 415L811 422L815 430L820 438L824 446" stroke="#44474b" stroke-width="0.45"/><path d="M604 458L601 466L597 474L594 483L591 491L588 500L585 508L582 517L580 525" stroke="#80838a" stroke-width="0.55"/><path d="M631 476L631 485L630 494L630 503L629 512L629 521L629 530" stroke="#6e7176" stroke-width="0.45"/><path d="M608 365L601 359L595 353L588 346L582 340L577 332L572 325L567 318L562 310L558 302" stroke="#44474b" stroke-width="0.65"/><path d="M887 539L888 548L889 557L890 566L890 575L890 584L890 593" stroke="#44474b" stroke-width="0.65"/><path d="M819 401L824 408L830 415L835 422L840 429L845 437L849 445L854 453L857 461" stroke="#35373b" stroke-width="0.45"/><path d="M769.6 467.9C769.8 469.4 770.6 473.8 771.1 476.8C771.5 479.7 771.8 482.7 772.2 485.7C772.7 488.7 773.3 493.1 773.5 494.6" stroke="#4c4f54" stroke-width="0.65"/><path d="M858 409L864 416L869 423L874 431L878 439L882 447L887 455L890 463" stroke="#35373b" stroke-width="0.55"/><path d="M745.6 455.0C745.8 456.5 746.4 461.0 746.8 463.9C747.1 466.9 747.6 469.9 747.9 472.9C748.3 475.9 748.7 480.3 748.9 481.8" stroke="#5a5d62" stroke-width="0.65"/><path d="M643 444L642 453L641 462L640 471L640 480L640 489L640 498" stroke="#6e7176" stroke-width="0.45"/><path d="M850 415L855 423L860 430L864 438L868 446L872 454L876 463L879 471" stroke="#5a5d62" stroke-width="0.55"/><path d="M735 434L738 443L739 452L741 460L743 469" stroke="#35373b" stroke-width="0.55"/><path d="M683 344L690 338L697 332L704 327L712 323L720 319L729 316L737 313L746 312" stroke="#44474b" stroke-width="0.55"/><path d="M686.8 434.7C686.4 436.2 685.3 440.5 684.4 443.4C683.6 446.3 682.7 449.2 681.8 452.0C680.9 454.9 679.3 459.1 678.8 460.5" stroke="#4c4f54" stroke-width="0.45"/><path d="M913 355L919 361L926 368L932 374L938 381" stroke="#35373b" stroke-width="0.55"/><path d="M964 464L968 473L971 481L974 489L977 498L980 506L983 515L986 524" stroke="#5a5d62" stroke-width="0.45"/><path d="M785 371L792 376L800 381L807 387L813 393L820 399L826 406L831 413L837 420" stroke="#35373b" stroke-width="0.55"/><path d="M644 472L644 481L644 490L645 499L645 508L646 517L647 526" stroke="#44474b" stroke-width="0.55"/><path d="M766.6 456.2C767.1 457.6 768.6 461.9 769.4 464.8C770.2 467.7 770.9 470.6 771.5 473.5C772.1 476.5 772.8 480.9 773.0 482.4" stroke="#4c4f54" stroke-width="0.65"/><path d="M797 443L801 451L805 459L808 468L811 476" stroke="#6e7176" stroke-width="0.55"/><path d="M947 434L951 442L955 450L959 458L963 466L966 475L969 483L973 492L976 500L979 509" stroke="#4c4f54" stroke-width="0.45"/><path d="M879 438L884 445L888 453L892 461L896 470L899 478" stroke="#5a5d62" stroke-width="0.55"/><path d="M820 444L824 452L828 460L831 468L834 477L837 486" stroke="#35373b" stroke-width="0.65"/><path d="M832.0 455.3C832.6 456.6 834.6 460.7 835.7 463.5C836.8 466.3 837.6 469.2 838.6 472.0C839.6 474.8 841.0 479.1 841.5 480.5" stroke="#5a5d62" stroke-width="0.45"/><path d="M903 496L905 505L907 514L909 523L911 532L912 540L914 549L915 558L916 567L917 576" stroke="#5a5d62" stroke-width="0.45"/><path d="M924 400L929 407L935 414L939 422L944 430L949 438L953 445" stroke="#4c4f54" stroke-width="0.65"/><path d="M956 428L960 435L965 443L969 451L973 459L977 467L981 475L984 484" stroke="#6e7176" stroke-width="0.45"/><path d="M896 471L899 480L902 488L904 497L907 505L908 514L911 523L913 532L914 541" stroke="#44474b" stroke-width="0.55"/><path d="M790.6 464.0C790.9 465.4 792.1 469.8 792.8 472.7C793.4 475.6 794.0 478.5 794.6 481.5C795.2 484.4 796.0 488.9 796.2 490.3" stroke="#5a5d62" stroke-width="0.55"/><path d="M960 460L964 468L967 477L970 485L973 494L976 502L979 511L981 519L984 528L986 537" stroke="#80838a" stroke-width="0.55"/><path d="M848 342L856 346L863 351L871 357L878 362L884 368L891 374" stroke="#6e7176" stroke-width="0.65"/><path d="M771 431L775 439L779 448L782 456L785 465L787 473" stroke="#4c4f54" stroke-width="0.65"/><path d="M900 362L907 368L913 374L919 381L925 388L930 395L936 402" stroke="#35373b" stroke-width="0.65"/><path d="M746 351L755 353L763 355L772 358L780 362" stroke="#6e7176" stroke-width="0.45"/><path d="M657 417L656 426L656 435L656 444L657 453" stroke="#5a5d62" stroke-width="0.45"/><path d="M858 511L859 520L860 529L862 538L863 547L864 556L864 565L865 574" stroke="#44474b" stroke-width="0.55"/><path d="M625 422L621 430L617 438L613 446L609 454L606 462L602 471L599 479" stroke="#80838a" stroke-width="0.65"/><path d="M763 390L770 396L776 402L782 409L788 416L793 424L798 431" stroke="#44474b" stroke-width="0.55"/><path d="M901 484L903 493L906 501L908 510L910 519" stroke="#35373b" stroke-width="0.55"/><path d="M854 411L859 419L864 426L869 434L874 441L878 449L882 457L886 465L890 473L893 482" stroke="#80838a" stroke-width="0.65"/><path d="M851 398L858 404L863 411L868 419L873 426L878 434L883 441" stroke="#80838a" stroke-width="0.45"/><path d="M860 429L864 437L868 445L872 453L876 461L880 469L883 478" stroke="#4c4f54" stroke-width="0.55"/><path d="M613 395L606 399L598 404L591 410L584 415" stroke="#6e7176" stroke-width="0.65"/><path d="M875 404L880 411L886 418L891 425L896 433L900 441L904 449L908 457" stroke="#80838a" stroke-width="0.65"/><path d="M921 455L925 463L928 472L931 480L934 489L937 497L939 506L941 515L944 523" stroke="#44474b" stroke-width="0.65"/><path d="M659.1 433.5C659.2 435.0 659.5 439.5 659.8 442.5C660.1 445.4 660.4 448.4 660.8 451.4C661.1 454.4 661.8 458.8 662.0 460.3" stroke="#4c4f54" stroke-width="0.55"/><path d="M856 364L863 370L870 376L876 381L883 388" stroke="#80838a" stroke-width="0.55"/><path d="M704 342L712 339L721 337L730 336L739 335L748 336" stroke="#4c4f54" stroke-width="0.55"/><path d="M838 370L845 376L852 382L858 388L865 394" stroke="#6e7176" stroke-width="0.55"/><path d="M613 469L611 478L609 487L606 496L604 504L603 513L602 522L600 531" stroke="#4c4f54" stroke-width="0.65"/><path d="M870 398L876 404L882 411L887 419L893 426" stroke="#5a5d62" stroke-width="0.65"/><path d="M707 339L716 336L725 334L734 333L743 332L752 332L761 332L769 333L778 334L787 337" stroke="#4c4f54" stroke-width="0.65"/><path d="M683 349L689 343L696 338L704 333L712 329L720 325L729 323L738 321" stroke="#44474b" stroke-width="0.65"/><path d="M879 389L885 396L891 402L896 409L902 416" stroke="#44474b" stroke-width="0.65"/><path d="M870 470L874 479L876 487L879 496L881 505L883 513L885 522L886 531" stroke="#5a5d62" stroke-width="0.55"/><path d="M759 437L762 446L765 454L768 463L769 472" stroke="#4c4f54" stroke-width="0.65"/><path d="M945 444L949 452L953 460L957 468L960 477L964 485" stroke="#6e7176" stroke-width="0.65"/><path d="M704 350L713 348L722 347L731 347L740 347" stroke="#44474b" stroke-width="0.65"/><path d="M701 431L701 440L700 448L699 457L697 466" stroke="#35373b" stroke-width="0.45"/><path d="M824 447L828 455L831 463L835 472L838 480" stroke="#80838a" stroke-width="0.45"/><path d="M808 388L815 394L821 401L827 407L832 414L838 421L843 429L848 437" stroke="#80838a" stroke-width="0.65"/><path d="M869 502L871 511L873 520L874 529L876 538L877 546L878 555L879 564L879 573" stroke="#44474b" stroke-width="0.65"/><path d="M838 414L843 422L848 429L852 437L857 445L861 453L866 461L869 469L872 477" stroke="#44474b" stroke-width="0.55"/><path d="M959 413L964 420L968 428L973 436L977 444L982 452" stroke="#44474b" stroke-width="0.55"/><path d="M633 464L632 472L632 481L631 490L630 499L629 508L629 517L630 526" stroke="#44474b" stroke-width="0.65"/><path d="M625 378L617 373L609 368L602 363L595 357L589 351L582 345L577 337" stroke="#44474b" stroke-width="0.55"/><path d="M877 358L884 363L891 369L898 375L904 382" stroke="#5a5d62" stroke-width="0.55"/><path d="M603 434L598 442L593 449L588 457L584 465L579 473L575 481L571 489L568 497L564 505" stroke="#44474b" stroke-width="0.55"/><path d="M649 440L648 449L648 458L648 467L648 476L648 485L649 494L650 503L651 512" stroke="#35373b" stroke-width="0.55"/><path d="M952 340L958 346L965 352L971 358L978 365L984 371L990 378L996 385L1002 392L1007 399" stroke="#4c4f54" stroke-width="0.65"/><path d="M820 383L827 389L834 395L840 402L846 408" stroke="#5a5d62" stroke-width="0.55"/><path d="M849 452L852 460L856 468L859 476L862 485L865 493L868 502L870 511L872 519" stroke="#5a5d62" stroke-width="0.55"/><path d="M828 333L836 337L844 341L852 345L859 350L867 355L874 361L881 366" stroke="#6e7176" stroke-width="0.45"/><path d="M868 432L872 439L876 447L881 455L884 464L887 472" stroke="#6e7176" stroke-width="0.45"/><path d="M870 407L876 414L881 421L886 429L891 436L895 444" stroke="#44474b" stroke-width="0.65"/><path d="M791 357L799 362L806 366L814 372L821 377L828 383L834 389" stroke="#80838a" stroke-width="0.55"/><path d="M708 372L717 375L725 379L733 384L740 389L747 395L753 401L759 408L764 415" stroke="#4c4f54" stroke-width="0.55"/><path d="M742 402L747 409L752 417L757 424L761 432L764 441L767 449L770 458L772 467" stroke="#4c4f54" stroke-width="0.55"/><path d="M894 545L895 554L896 562L897 571L897 580" stroke="#5a5d62" stroke-width="0.65"/><path d="M864 457L867 465L871 474L874 482L876 491L879 499L881 508L883 517L885 526L886 535" stroke="#5a5d62" stroke-width="0.65"/><path d="M633 465L632 474L631 483L630 492L629 501L629 510L629 519L629 528" stroke="#80838a" stroke-width="0.55"/><path d="M734 345L743 345L752 347L761 349L769 351L778 354L786 358L794 362" stroke="#44474b" stroke-width="0.45"/><path d="M873 445L877 454L881 462L885 470L887 478L891 487L894 495L896 504L898 513" stroke="#5a5d62" stroke-width="0.65"/><path d="M667 430L669 439L671 448L674 456L670 464" stroke="#80838a" stroke-width="0.55"/><path d="M865 351L872 356L879 362L886 368L893 374" stroke="#80838a" stroke-width="0.45"/><path d="M601 346L596 339L591 331L586 324L582 316L578 308L574 300L571 291L568 283L565 274" stroke="#4c4f54" stroke-width="0.45"/><path d="M963 536L965 545L967 554L969 563L970 572" stroke="#5a5d62" stroke-width="0.45"/><path d="M696.8 442.8C696.6 444.3 696.2 448.8 695.7 451.7C695.2 454.7 694.4 457.6 693.6 460.5C692.8 463.4 691.3 467.6 690.8 469.0" stroke="#80838a" stroke-width="0.55"/><path d="M645 445L645 454L644 463L644 472L644 481" stroke="#35373b" stroke-width="0.55"/><path d="M878 439L882 447L886 455L890 463L893 471L897 480" stroke="#4c4f54" stroke-width="0.55"/><path d="M825 379L832 385L838 391L845 397L850 404L856 411" stroke="#35373b" stroke-width="0.45"/><path d="M722 374L731 378L738 382L746 388L752 394L759 400L765 407L770 414L775 421" stroke="#44474b" stroke-width="0.45"/><path d="M601 453L596 461L592 469L588 477L585 485L582 494L579 502L576 511" stroke="#44474b" stroke-width="0.55"/><path d="M727 359L736 361L744 363L753 366L761 370L769 374L777 379L784 384L791 390" stroke="#5a5d62" stroke-width="0.65"/><path d="M792 418L797 426L802 433L806 441L809 450" stroke="#5a5d62" stroke-width="0.45"/><path d="M960 462L964 471L967 479L970 488L973 496" stroke="#6e7176" stroke-width="0.65"/><path d="M849 399L855 406L860 413L866 420L870 428L875 436L879 444L883 452L887 460L891 468" stroke="#6e7176" stroke-width="0.65"/><path d="M615 417L610 424L604 431L599 439L594 446" stroke="#6e7176" stroke-width="0.55"/><path d="M927 419L931 426L936 434L940 442L944 450L948 458L951 467L955 475L958 483" stroke="#80838a" stroke-width="0.45"/><path d="M891 388L897 394L902 401L908 408L913 416L918 423" stroke="#6e7176" stroke-width="0.55"/><path d="M889 485L892 494L894 503L896 511L898 520L900 529L901 538L902 547L904 556" stroke="#6e7176" stroke-width="0.45"/><path d="M655 350L654 341L655 333L656 324L658 315L660 306L663 297" stroke="#4c4f54" stroke-width="0.55"/><path d="M858 431L863 438L867 446L871 454L875 462L879 471L882 479" stroke="#80838a" stroke-width="0.65"/><path d="M933 514L935 522L936 531L938 540L940 549L941 558L942 567" stroke="#5a5d62" stroke-width="0.55"/><path d="M633.1 521.5C633.1 523.0 633.2 527.5 633.4 530.5C633.5 533.5 633.9 536.5 634.0 539.5C634.2 542.5 634.3 547.0 634.3 548.5" stroke="#4c4f54" stroke-width="0.45"/><path d="M756 366L765 369L772 373L780 378L787 383" stroke="#5a5d62" stroke-width="0.55"/><path d="M694.6 455.8C694.3 457.3 693.5 461.7 692.7 464.6C691.9 467.5 690.8 470.3 689.9 473.2C689.0 476.0 687.6 480.3 687.1 481.7" stroke="#6e7176" stroke-width="0.45"/><path d="M757 395L764 401L770 408L775 415L780 423" stroke="#5a5d62" stroke-width="0.55"/><path d="M864 444L868 452L872 460L875 468L879 477L882 485" stroke="#80838a" stroke-width="0.55"/><path d="M903 450L907 458L911 466L914 475L917 483L920 492" stroke="#6e7176" stroke-width="0.65"/><path d="M854 463L857 472L860 480L862 489L865 498" stroke="#6e7176" stroke-width="0.45"/><path d="M951 345L958 352L964 358L970 365L976 371L982 378L988 384L994 391L1000 398" stroke="#35373b" stroke-width="0.65"/><path d="M892 371L899 377L905 384L911 390L917 397L922 405L927 412" stroke="#4c4f54" stroke-width="0.55"/><path d="M610 443L606 451L602 459L598 467L595 476L592 484L589 493" stroke="#6e7176" stroke-width="0.55"/><path d="M907 527L909 536L910 545L911 554L912 563L912 572L913 581L913 590L913 599L913 608" stroke="#44474b" stroke-width="0.45"/><path d="M892 504L894 512L896 521L898 530L899 539" stroke="#80838a" stroke-width="0.45"/><path d="M609 334L606 325L603 317L599 309L596 300L594 291" stroke="#44474b" stroke-width="0.65"/><path d="M953 529L955 538L957 547L958 556L960 564L961 573L962 582" stroke="#4c4f54" stroke-width="0.65"/><path d="M611 493L609 501L608 510L607 519L605 528" stroke="#4c4f54" stroke-width="0.55"/><path d="M876 380L882 386L888 393L894 400L900 407L905 414L911 421L916 429L920 437L925 444" stroke="#4c4f54" stroke-width="0.65"/><path d="M644.2 515.1C644.3 516.6 644.4 521.1 644.7 524.1C645.1 527.1 645.7 530.0 646.1 533.0C646.6 535.9 647.4 540.4 647.6 541.8" stroke="#35373b" stroke-width="0.65"/><path d="M890 489L892 498L894 507L896 515L898 524" stroke="#80838a" stroke-width="0.65"/><path d="M904 365L910 372L916 379L923 385L928 392" stroke="#6e7176" stroke-width="0.45"/><path d="M865 544L865 553L866 562L866 571L867 580L866 589L866 598" stroke="#44474b" stroke-width="0.55"/><path d="M856 449L860 457L864 465L867 474L870 482" stroke="#6e7176" stroke-width="0.65"/><path d="M933 339L940 345L947 351L953 358L959 364" stroke="#80838a" stroke-width="0.65"/><path d="M750 346L759 348L768 350L776 353L785 356L793 359L801 364L809 368" stroke="#44474b" stroke-width="0.55"/><path d="M737 414L741 422L745 431L748 439L751 448" stroke="#35373b" stroke-width="0.65"/><path d="M835 352L842 357L850 362L857 368L864 373L871 379L877 386L883 393L889 399" stroke="#5a5d62" stroke-width="0.55"/><path d="M948 414L953 422L957 430L962 438L966 446L970 454L974 462L977 470" stroke="#4c4f54" stroke-width="0.65"/><path d="M913 511L915 520L917 528L918 537L919 546L920 555L921 564L922 573L922 582" stroke="#6e7176" stroke-width="0.55"/><path d="M705 429L706 438L705 447L705 456L703 465" stroke="#6e7176" stroke-width="0.65"/><path d="M631 404L625 411L619 417L614 425L609 432L604 440L599 447L595 455L591 463L587 471" stroke="#6e7176" stroke-width="0.65"/><path d="M644 489L645 498L645 507L646 516L647 525L648 534" stroke="#4c4f54" stroke-width="0.55"/><path d="M670 413L673 421L676 430L672 438L675 447L671 455L674 463" stroke="#35373b" stroke-width="0.55"/><path d="M800 360L808 364L815 369L823 374L830 380L837 386L843 392L849 399L855 406" stroke="#6e7176" stroke-width="0.45"/><path d="M608 462L604 471L601 479L599 488L597 497L594 505L592 514L590 523" stroke="#80838a" stroke-width="0.55"/><path d="M816 421L820 429L825 436L829 444L833 452L837 461" stroke="#35373b" stroke-width="0.65"/><path d="M956 446L960 454L964 462L967 470L971 479L974 487L977 496L980 504" stroke="#80838a" stroke-width="0.65"/><path d="M833.9 469.7C834.4 471.1 836.0 475.3 837.0 478.2C837.9 481.0 838.9 483.9 839.7 486.7C840.5 489.6 841.6 494.0 841.9 495.5" stroke="#5a5d62" stroke-width="0.45"/><path d="M875 528L877 537L878 546L879 555L880 564L880 573L881 582L881 591L881 600L880 609" stroke="#80838a" stroke-width="0.65"/><path d="M663.4 432.8C663.6 434.2 664.2 438.7 664.7 441.7C665.2 444.6 665.7 447.6 666.3 450.5C666.8 453.5 667.9 457.8 668.2 459.3" stroke="#6e7176" stroke-width="0.65"/><path d="M698.1 435.7C697.9 437.2 697.6 441.7 697.2 444.7C696.8 447.7 696.1 450.6 695.6 453.5C695.0 456.5 694.1 460.9 693.8 462.4" stroke="#80838a" stroke-width="0.55"/><path d="M783 376L790 381L797 386L804 392L811 398L817 405L823 412" stroke="#35373b" stroke-width="0.55"/><path d="M811 384L818 390L824 396L831 403L836 409L842 416L847 424" stroke="#35373b" stroke-width="0.65"/><path d="M907 338L914 344L921 349L928 355L934 361L941 368" stroke="#4c4f54" stroke-width="0.65"/><path d="M909 375L915 382L921 389L927 395L932 403" stroke="#80838a" stroke-width="0.65"/><path d="M651 359L648 350L647 341L645 332L645 323" stroke="#35373b" stroke-width="0.55"/><path d="M623 376L616 371L608 366L602 360L595 353L590 346L584 340L578 333L573 325" stroke="#35373b" stroke-width="0.55"/><path d="M709 413L711 422L713 430L714 439L714 448L714 457L713 466" stroke="#35373b" stroke-width="0.45"/><path d="M859 442L863 450L867 458L871 466L874 475" stroke="#5a5d62" stroke-width="0.65"/><path d="M612 438L608 446L603 454L599 462L596 471L592 479L589 487" stroke="#4c4f54" stroke-width="0.55"/><path d="M720 431L722 439L723 448L723 457L723 466" stroke="#4c4f54" stroke-width="0.55"/><path d="M717 415L720 424L722 432L724 441L725 450" stroke="#5a5d62" stroke-width="0.55"/><path d="M771 362L779 365L787 369L795 374L802 379L809 385L816 391" stroke="#6e7176" stroke-width="0.45"/><path d="M630.3 515.6C630.3 517.1 630.4 521.6 630.4 524.6C630.4 527.6 630.3 530.6 630.4 533.6C630.5 536.6 630.8 541.0 630.9 542.5" stroke="#4c4f54" stroke-width="0.65"/><path d="M848 433L852 441L857 449L861 457L865 465L868 473L871 482" stroke="#4c4f54" stroke-width="0.45"/><path d="M647 482L648 491L649 500L650 509L651 518" stroke="#6e7176" stroke-width="0.65"/><path d="M864 386L871 392L876 399L882 406L887 414L892 421L897 429L902 436" stroke="#6e7176" stroke-width="0.65"/><path d="M833 347L841 352L849 356L856 362L863 367L870 373L877 379L883 385L890 392" stroke="#80838a" stroke-width="0.65"/><path d="M721.7 450.5C721.8 452.0 722.0 456.5 722.1 459.5C722.1 462.5 722.1 465.5 722.0 468.5C721.9 471.5 721.7 476.0 721.6 477.5" stroke="#35373b" stroke-width="0.45"/><path d="M697 427L697 436L696 445L694 454L692 462" stroke="#35373b" stroke-width="0.45"/><path d="M816 395L822 402L828 409L834 416L839 423L844 430L849 438" stroke="#5a5d62" stroke-width="0.45"/><path d="M897 371L903 377L909 384L915 391L921 398L926 405" stroke="#80838a" stroke-width="0.55"/><path d="M692.3 453.4C691.9 454.9 690.9 459.2 690.2 462.2C689.4 465.1 688.8 468.0 687.8 470.8C686.9 473.7 685.2 477.9 684.7 479.3" stroke="#80838a" stroke-width="0.55"/><path d="M634 470L633 479L633 488L632 497L632 506L632 515L632 524L632 533" stroke="#35373b" stroke-width="0.65"/><path d="M601 486L599 494L596 503L594 511L591 520L590 529" stroke="#44474b" stroke-width="0.55"/><path d="M921 502L923 510L925 519L927 528L928 537L930 546" stroke="#5a5d62" stroke-width="0.45"/><path d="M894 401L900 408L906 415L911 422L915 430L920 438L924 446L928 454" stroke="#80838a" stroke-width="0.55"/><path d="M862 477L864 486L866 495L869 503L871 512" stroke="#80838a" stroke-width="0.65"/><path d="M828 440L832 448L836 456L839 464L843 472L845 481" stroke="#35373b" stroke-width="0.65"/><path d="M723.8 462.3C723.9 463.8 724.0 468.3 724.0 471.3C724.0 474.3 724.0 477.3 723.8 480.3C723.6 483.3 722.9 487.7 722.7 489.2" stroke="#5a5d62" stroke-width="0.55"/><path d="M842 432L847 440L851 447L855 455L859 464L862 472L865 480L868 489" stroke="#80838a" stroke-width="0.65"/><path d="M877 502L879 511L881 519L883 528L884 537L886 546L887 555L888 564L889 573" stroke="#35373b" stroke-width="0.55"/><path d="M618 469L617 478L614 486L613 495L612 504L610 513L609 522L609 531" stroke="#5a5d62" stroke-width="0.65"/><path d="M635 430L632 438L629 447L627 455L625 464L623 473L622 482L620 491" stroke="#4c4f54" stroke-width="0.55"/><path d="M783 420L788 428L792 436L796 444L800 452L803 461" stroke="#4c4f54" stroke-width="0.65"/><path d="M711 419L713 428L715 436L715 445L715 454" stroke="#80838a" stroke-width="0.65"/><path d="M675 339L680 331L685 324L691 317L697 311L704 304L711 299" stroke="#4c4f54" stroke-width="0.45"/><path d="M717.1 455.6C717.1 457.1 717.0 461.6 716.8 464.6C716.6 467.6 716.4 470.6 716.1 473.6C715.7 476.6 715.0 481.0 714.8 482.5" stroke="#4c4f54" stroke-width="0.45"/><path d="M927 497L930 506L932 515L934 523L935 532" stroke="#5a5d62" stroke-width="0.45"/><path d="M605 443L601 451L596 459L592 467L588 475L585 483L581 492L578 500" stroke="#5a5d62" stroke-width="0.65"/><path d="M696 337L704 333L712 328L720 325L729 322L738 320L747 319L756 318" stroke="#6e7176" stroke-width="0.55"/><path d="M604.6 499.4C604.3 500.9 603.2 505.3 602.6 508.2C602.1 511.2 601.8 514.2 601.3 517.1C600.7 520.1 599.7 524.4 599.4 525.9" stroke="#5a5d62" stroke-width="0.65"/><path d="M876 464L879 473L883 481L886 489L888 498L890 507L893 515L894 524L896 533L898 542" stroke="#6e7176" stroke-width="0.45"/><path d="M735 400L741 407L746 415L751 423L755 431L758 439" stroke="#4c4f54" stroke-width="0.55"/><path d="M885 357L892 363L898 369L904 375L911 382L917 388L923 395L928 403L933 410L938 418" stroke="#4c4f54" stroke-width="0.55"/><path d="M876 504L878 513L880 521L881 530L882 539L883 548L884 557L885 566L885 575L885 584" stroke="#5a5d62" stroke-width="0.65"/><path d="M668.0 446.4C668.3 447.9 669.2 452.3 669.8 455.2C670.5 458.1 671.2 461.0 672.0 463.9C672.8 466.8 674.0 471.2 674.4 472.6" stroke="#80838a" stroke-width="0.45"/><path d="M628 400L622 407L616 413L610 420L604 427L599 434L594 442" stroke="#44474b" stroke-width="0.65"/><path d="M802 382L809 387L816 393L822 400L828 406L834 413L840 420L845 428" stroke="#5a5d62" stroke-width="0.65"/><path d="M615.5 512.4C615.4 513.9 614.9 518.3 614.7 521.3C614.6 524.3 614.6 527.3 614.4 530.3C614.3 533.3 614.0 537.8 613.9 539.3" stroke="#44474b" stroke-width="0.65"/><path d="M855 422L860 430L865 437L870 445L874 453L877 461L880 470L884 478" stroke="#44474b" stroke-width="0.45"/><path d="M623 362L616 356L611 349L605 342L601 334" stroke="#6e7176" stroke-width="0.55"/><path d="M664.4 438.7C664.7 440.2 665.3 444.7 665.8 447.6C666.2 450.6 666.7 453.6 667.3 456.5C667.8 459.5 668.8 463.9 669.1 465.3" stroke="#35373b" stroke-width="0.55"/><path d="M786 387L792 393L799 399L805 406L811 412L816 420L821 427L826 435" stroke="#5a5d62" stroke-width="0.45"/><path d="M631 447L629 456L627 465L625 473L624 482L623 491L622 500L621 509L620 518L620 527" stroke="#6e7176" stroke-width="0.65"/><path d="M775 444L778 452L781 460L784 469L786 478" stroke="#5a5d62" stroke-width="0.65"/><path d="M750 356L759 359L767 363L775 367L783 371L791 376L798 381L805 387L812 393" stroke="#35373b" stroke-width="0.65"/><path d="M863 337L870 342L878 347L885 352L892 358" stroke="#6e7176" stroke-width="0.55"/><path d="M740.2 460.9C740.3 462.4 740.6 466.9 740.7 469.9C740.9 472.9 740.9 475.9 741.0 478.9C741.1 481.9 741.2 486.4 741.2 487.9" stroke="#6e7176" stroke-width="0.65"/><path d="M942 514L944 522L946 531L947 540L949 549L951 558L952 567" stroke="#5a5d62" stroke-width="0.45"/><path d="M904 333L911 339L919 344L925 350L932 356L938 363L944 369L951 375L956 382" stroke="#35373b" stroke-width="0.65"/><path d="M885 345L892 350L899 356L906 362L912 368L918 375L924 381L930 388" stroke="#44474b" stroke-width="0.65"/><path d="M717 377L725 381L733 386L740 391L747 397L753 403" stroke="#80838a" stroke-width="0.55"/><path d="M868 353L875 358L882 364L889 370L896 376" stroke="#5a5d62" stroke-width="0.55"/><path d="M892 466L896 474L899 483L902 491L904 500L906 509L908 517L909 526" stroke="#35373b" stroke-width="0.65"/><path d="M962 469L966 478L969 486L972 495L974 503L977 512L980 520L983 529L985 538L987 546" stroke="#80838a" stroke-width="0.45"/><path d="M752 367L760 371L768 375L776 380L783 385L790 391L797 397" stroke="#5a5d62" stroke-width="0.45"/><path d="M841 452L844 461L848 469L851 477L854 486L857 494L859 503L861 512L863 521L864 530" stroke="#6e7176" stroke-width="0.65"/><path d="M862 440L867 448L871 456L874 465L877 473" stroke="#5a5d62" stroke-width="0.45"/><path d="M698 352L706 348L715 346L724 345L733 344L742 345L751 345L760 347L768 349" stroke="#44474b" stroke-width="0.55"/><path d="M954 388L960 394L965 401L971 409L976 416L981 424" stroke="#5a5d62" stroke-width="0.45"/><path d="M683.1 445.5C682.6 446.9 681.3 451.3 680.2 454.0C679.0 456.8 677.7 459.5 676.3 462.2C675.0 464.9 672.8 468.8 672.0 470.1" stroke="#80838a" stroke-width="0.45"/><path d="M623.5 510.1C623.5 511.6 623.5 516.1 623.5 519.1C623.5 522.1 623.5 525.1 623.4 528.1C623.4 531.1 623.1 535.6 623.1 537.1" stroke="#35373b" stroke-width="0.45"/><path d="M846 415L851 423L856 430L861 438L866 446L870 454L874 462" stroke="#44474b" stroke-width="0.65"/><path d="M840 393L846 400L852 406L857 414L862 421L867 428L872 436L877 444L881 452L885 460" stroke="#35373b" stroke-width="0.65"/><path d="M645 485L646 494L646 503L647 512L649 521" stroke="#44474b" stroke-width="0.45"/><path d="M866 515L867 524L868 533L870 542L871 551L872 560L873 569" stroke="#6e7176" stroke-width="0.45"/><path d="M966 540L967 549L969 558L971 567L973 576L974 585" stroke="#44474b" stroke-width="0.55"/><path d="M880 466L883 474L886 483L889 491L892 500" stroke="#6e7176" stroke-width="0.65"/><path d="M654 405L651 413L649 422L647 431L645 440L645 449L644 458L644 467" stroke="#4c4f54" stroke-width="0.55"/><path d="M698 425L698 434L697 443L696 452L694 461" stroke="#4c4f54" stroke-width="0.45"/><path d="M825 380L832 386L839 392L845 399L851 406L856 413L861 421L866 428" stroke="#80838a" stroke-width="0.55"/><path d="M613 378L605 373L598 368L591 362L584 357L577 351L571 344" stroke="#35373b" stroke-width="0.55"/><path d="M803.3 471.7C803.7 473.2 804.8 477.6 805.5 480.5C806.2 483.4 806.9 486.3 807.5 489.2C808.2 492.2 808.9 496.6 809.2 498.1" stroke="#44474b" stroke-width="0.65"/><path d="M664.4 431.4C664.7 432.9 665.6 437.3 666.2 440.2C666.7 443.2 667.1 446.2 667.7 449.1C668.4 452.0 669.7 456.3 670.1 457.8" stroke="#6e7176" stroke-width="0.55"/><path d="M635 377L627 372L620 367L613 361L607 354L601 347" stroke="#80838a" stroke-width="0.55"/><path d="M916 366L922 372L928 379L934 386L940 393L945 400L951 407" stroke="#6e7176" stroke-width="0.45"/><path d="M798 387L805 393L812 399L817 406L823 413L829 420L835 427" stroke="#35373b" stroke-width="0.65"/><path d="M602.7 499.1C602.4 500.5 601.5 505.0 600.9 507.9C600.3 510.8 599.7 513.8 599.2 516.7C598.7 519.7 598.0 524.1 597.7 525.6" stroke="#44474b" stroke-width="0.65"/><path d="M797 396L803 403L809 409L814 416L820 424" stroke="#44474b" stroke-width="0.55"/><path d="M645 345L644 336L643 327L643 318L643 309" stroke="#4c4f54" stroke-width="0.65"/><path d="M781 394L787 400L793 407L799 413L805 420L810 428L814 436L818 444" stroke="#4c4f54" stroke-width="0.45"/><path d="M778 389L785 394L791 401L797 407L803 415L808 422L813 429" stroke="#44474b" stroke-width="0.55"/><path d="M734 356L743 358L751 361L760 364L768 368L776 372L783 377L791 382L798 387" stroke="#4c4f54" stroke-width="0.45"/><path d="M939 372L945 378L951 385L956 392L961 400L967 407" stroke="#80838a" stroke-width="0.55"/><path d="M849 349L856 354L864 359L871 365L877 371L884 377L890 383L897 390" stroke="#35373b" stroke-width="0.65"/><path d="M740 405L745 412L750 420L754 428L758 436L761 445" stroke="#5a5d62" stroke-width="0.45"/><path d="M714 400L718 408L723 415L726 424L728 433L731 441L733 450" stroke="#4c4f54" stroke-width="0.55"/><path d="M877 393L883 400L889 407L894 414L899 422L904 429L908 437L913 445" stroke="#4c4f54" stroke-width="0.65"/><path d="M627 348L623 341L619 332L616 324L613 315L611 307L609 298" stroke="#80838a" stroke-width="0.45"/></g>
<path d="M892.1 444.7l5.1 2.8M883.8 451.8l6.7 3.2M879.8 473.4l4.8 2.6M945.7 428.3l3.1 1.2M957.0 431.2l3.7 4.6M877.2 481.7l4.9 6.0M894.4 443.6l7.0 2.6M949.6 428.7l4.1 4.8M892.8 444.4l7.1 3.4M845.6 508.4l5.1 2.1M934.1 427.3l5.5 1.8M907.5 431.5l6.0 4.0M899.9 437.8l5.2 4.6M899.7 437.9l3.8 4.5M878.3 480.8l3.6 5.2M862.3 492.4l2.2 2.2M908.8 430.6l3.3 2.0M880.6 459.5l5.4 4.5M867.5 489.4l2.2 3.7M885.2 448.7l4.5 3.1M902.4 435.3l2.9 1.9M880.2 465.8l5.6 2.9M867.0 489.9l7.4 5.1M836.9 537.2l4.6 5.4M915.1 428.2l5.4 6.8M839.1 523.8l2.7 1.4M861.7 493.0l7.0 4.1M882.9 454.3l4.2 4.7M839.5 522.6l6.8 2.0M901.9 435.8l6.5 5.5M930.1 426.1l5.2 6.5M846.9 506.3l4.8 4.5M880.1 468.2l2.9 1.2M904.1 434.0l4.3 3.6M879.9 474.0l2.2 2.2M878.8 478.2l2.7 1.3M929.6 426.9l4.2 1.8M880.2 464.8l3.4 1.6M883.6 452.4l3.7 2.7M918.7 427.6l5.9 6.3M900.3 437.3l6.0 6.6M908.4 430.8l6.5 4.9M846.2 507.1l4.3 2.8M847.0 506.2l1.7 2.5M837.2 533.5l5.3 2.5M897.5 440.2l3.0 4.1M880.8 458.7l3.5 2.0M849.6 503.1l4.9 4.8M959.0 431.6l3.8 6.1M956.7 431.4l5.3 4.6M904.0 434.4l4.5 1.9M919.0 427.4l3.2 4.4M897.6 440.1l3.2 5.2M880.4 462.6l6.5 5.1M941.6 426.7l1.9 2.5M905.5 432.9l6.3 5.9M846.4 507.0l2.4 2.4M901.0 436.7l1.9 2.4M879.0 477.0l6.1 1.8M892.0 444.9l6.5 3.0M929.3 427.0l5.7 1.8M880.1 467.3l4.0 1.6M926.6 427.1l4.5 1.3M882.3 455.7l4.5 4.5M879.3 476.8l5.4 4.8M837.9 531.5l4.4 4.6M935.3 426.4l5.0 6.0M948.5 428.7l6.9 5.3M882.4 455.4l5.9 5.3M837.1 535.2l4.6 3.2M848.1 504.9l2.2 3.8M951.5 429.6l3.3 2.7M898.5 439.5l6.8 1.9M853.2 499.0l7.2 3.2M862.2 492.8l7.8 4.1M879.1 478.1l5.3 5.1M871.6 486.3l5.7 3.1M892.8 444.3l7.5 4.7M887.4 447.0l2.4 3.1M947.0 428.7l7.7 3.4M836.3 538.4l8.2 2.7M913.7 428.4l4.6 5.8M880.8 468.1l3.3 4.3M881.9 456.9l5.1 6.5M938.3 427.3l3.7 1.8M877.4 481.5l3.4 5.4M867.0 489.8l2.6 4.1M885.4 448.4l5.4 4.4M836.6 538.2l2.8 2.8M837.7 532.6l4.7 4.3" stroke="#0a0a0b" stroke-width="0.8" fill="none"/>
<path d="M729.8 558.8C729 548 731 543 734.2 539.6C738 532 742 529 747.6 527.8C753 525 758 524 763.8 524C770 524.5 775 527 778.6 530.7C783 535 786 539 786.8 544C788 549 787.5 554 786 558.8C785 562 783 565 780 567.7L786 572C790 576 793 581 795 587C797 592 799 600 800.8 612C797 616 793 618.5 789 619.5C784 620.5 779 620.5 774.2 619.5C769 618 764 615.5 759.4 612C754 608 749 604 744.6 598.8C740 593 737 587 734.2 581C731.5 574 730 566 729.8 558.8Z" fill="#a2a7ae"/>
<path d="M780 567.7C783 565 785 562 786 558.8C787.5 554 788 549 786.8 544C786 539 783 535 778.6 530.7C775 527 770 524.5 763.8 524C758 524 753 525 747.6 527.8C742 529 738 532 734.2 539.6C731 543 729 548 729.8 558.8C730 566 731.5 574 734.2 581C737 587 740 593 744.6 598.8C749 604 754 608 759.4 612C764 615.5 769 618 774.2 619.5C779 620.5 784 620.5 789 619.5" fill="none" stroke="#eef0f1" stroke-width="1.3"/>
<path d="M743 557C742 546 746 539.5 752 536.5C758 533 767 533 773 537.5C779 542 781.5 550 779 557C776.5 563.5 770 567 763 567.5C757 568 753 571.5 752.5 577" fill="none" stroke="#0a0a0b" stroke-width="6.5" stroke-linecap="round"/>
<path d="M745.5 556C745 548 748.5 542 753.5 539.5C759 536.5 766 536.8 771 540.5" fill="none" stroke="#8d9299" stroke-width="1.2" stroke-linecap="round"/>
<path d="M756 571C762 567 772 566.5 779 569.5C784 572 788 578 790.5 585C791.5 590 789.5 594 785.5 592C781.5 588 778 584.5 773 583.5C767 583.5 762.5 586 760 590C757 585 755 578 756 571Z" fill="#0a0a0b"/>
<path d="M763 575C768 572.5 775 573.5 779 577" fill="none" stroke="#8d9299" stroke-width="0.9"/>
<path d="M739.5 572C741.5 584 748 594 756 599C762 602 768 602.5 772 600.5" fill="none" stroke="#0a0a0b" stroke-width="1.7" stroke-linecap="round"/>
<path d="M741.5 575C744 586 750 594.5 757 598" fill="none" stroke="#eef0f1" stroke-width="0.7"/>
<path d="M918.8 510.6C930 508.6 942 506.6 951 503.5L960.5 497.3C964 496.4 968 498.5 970.3 502C970.6 512 969.8 522 969.3 531.3C967.6 524 967 514 966 508C962 520 956 531 946.8 539L945 535.4C949 527 951.6 516 952.6 507.2C941 509.6 930 511.2 918.8 511.8Z" fill="#0a0a0b"/>
<path d="M956.5 503L949.5 524M959 501L953 525M961.5 500.5L956 525M964 501L959.5 520M966.3 502L964 514M968.3 503L967.6 520" stroke="#a2a7ae" stroke-width="0.75"/>
<path d="M908.4 537.2L945.3 538.8C949 541 952 544 954 547.3C950 551.5 945 554.6 939.7 555.8C932 553.6 925 549.6 918 545Z" fill="#0a0a0b"/>
<path d="M924.4 534.6L945.3 536.1" stroke="#eef0f1" stroke-width="1.2"/>
<path d="M941 553L943 558M945 551L948 556M948.5 549L952.5 553M951 546.5L955.5 549.5M936 555L936.5 559" stroke="#0a0a0b" stroke-width="0.8"/>
<path d="M962 577C959.5 583 960 590 965.3 595.3C969 596.6 972 593.6 975.5 590.5L992.5 579.3C986 581.5 979 586.5 972.5 589C966 589 963 584 962 577Z" fill="#0a0a0b" stroke="#eef0f1" stroke-width="0.5"/>
<path d="M968.8 641C974 640.5 980 637 984 633L981 652C978 648 974 644 968.8 641Z" fill="#0a0a0b"/>
<defs><clipPath id="mclip"><path id="moonshape" d="M1068 528C1120 528 1166.5 570 1166.5 620C1166.5 672 1126 716 1072 716C1046 716 1022 708 1003 690.5C984 672 977.5 648 978.5 626C980 600 986 580 997 563C1012 542 1040 528 1068 528Z"/></clipPath></defs>
<g clip-path="url(#mclip)">
<rect x="970" y="520" width="205" height="205" fill="#8c9198"/>
<path d="M1054.0 520.0C1033.5 524.2 1057.7 539.0 1062.0 545.0C1066.3 551.0 1075.3 551.0 1080.0 556.0C1084.7 561.0 1087.8 568.3 1090.0 575.0C1092.2 581.7 1090.8 590.2 1093.0 596.0C1095.2 601.8 1098.5 606.3 1103.0 610.0C1107.5 613.7 1115.7 613.0 1120.0 618.0C1124.3 623.0 1128.7 632.7 1129.0 640.0C1129.3 647.3 1125.2 656.0 1122.0 662.0C1118.8 668.0 1113.7 669.7 1110.0 676.0C1106.3 682.3 1088.3 691.0 1100.0 700.0C1111.7 709.0 1165.8 760.0 1180.0 730.0C1194.2 700.0 1206.0 555.0 1185.0 520.0C1164.0 485.0 1074.5 515.8 1054.0 520.0Z" fill="#f6f8f9"/>
<path d="M1108.0 560.0C1110.7 558.0 1117.7 561.0 1122.0 566.0C1126.3 571.0 1132.7 583.3 1134.0 590.0C1135.3 596.7 1133.0 604.7 1130.0 606.0C1127.0 607.3 1120.0 602.7 1116.0 598.0C1112.0 593.3 1107.3 584.3 1106.0 578.0C1104.7 571.7 1105.3 562.0 1108.0 560.0Z" fill="#dde3e8"/>
<path d="M1128.0 612.0C1129.7 606.3 1140.0 604.3 1144.0 606.0C1148.0 607.7 1151.7 616.0 1152.0 622.0C1152.3 628.0 1149.0 639.0 1146.0 642.0C1143.0 645.0 1137.0 645.0 1134.0 640.0C1131.0 635.0 1126.3 617.7 1128.0 612.0Z" fill="#dde3e8"/>
<path d="M1092.0 540.0C1092.7 537.7 1101.0 536.7 1104.0 538.0C1107.0 539.3 1110.7 545.7 1110.0 548.0C1109.3 550.3 1103.0 553.3 1100.0 552.0C1097.0 550.7 1091.3 542.3 1092.0 540.0Z" fill="#dde3e8"/>
<path d="M1038.0 546.0C1039.0 541.7 1047.3 539.7 1052.0 540.0C1056.7 540.3 1062.3 543.7 1066.0 548.0C1069.7 552.3 1073.3 560.3 1074.0 566.0C1074.7 571.7 1072.7 580.0 1070.0 582.0C1067.3 584.0 1062.0 580.7 1058.0 578.0C1054.0 575.3 1049.3 571.3 1046.0 566.0C1042.7 560.7 1037.0 550.3 1038.0 546.0Z" fill="#e6eaed"/>
<path d="M1078.0 590.0C1080.0 588.7 1088.3 594.3 1090.0 598.0C1091.7 601.7 1090.0 610.7 1088.0 612.0C1086.0 613.3 1079.7 609.7 1078.0 606.0C1076.3 602.3 1076.0 591.3 1078.0 590.0Z" fill="#e6eaed"/>
<path d="M1000.0 552.0C1005.3 550.2 1003.7 563.5 1007.0 569.0C1010.3 574.5 1015.9 579.6 1020.0 585.0C1024.1 590.4 1028.6 596.5 1031.6 601.3C1034.6 606.1 1036.3 609.9 1038.0 614.0C1039.7 618.1 1039.5 621.7 1041.5 626.0C1043.5 630.3 1047.1 635.5 1050.0 640.0C1052.9 644.5 1056.0 649.6 1058.7 653.1C1061.4 656.6 1063.5 658.5 1066.0 661.0C1068.5 663.5 1070.3 665.5 1073.5 668.0C1076.7 670.5 1080.9 674.3 1085.0 676.0C1089.1 677.7 1094.2 679.3 1098.0 678.0C1101.8 676.7 1104.7 670.3 1108.0 668.0C1111.3 665.7 1114.7 664.8 1118.0 664.0C1121.3 663.2 1125.3 661.7 1128.0 663.0C1130.7 664.3 1134.0 666.7 1134.0 672.0C1134.0 677.3 1133.7 686.2 1128.0 695.0C1122.3 703.8 1114.7 719.2 1100.0 725.0C1085.3 730.8 1059.2 733.3 1040.0 730.0C1020.8 726.7 998.3 720.0 985.0 705.0C971.7 690.0 961.7 660.8 960.0 640.0C958.3 619.2 968.3 594.7 975.0 580.0C981.7 565.3 994.7 553.8 1000.0 552.0Z" fill="#0a0a0b"/>
<circle cx="992.3" cy="559.8" r="1.6" fill="#f6f8f9"/><circle cx="1030.0" cy="611.6" r="0.6" fill="#8c9198"/><circle cx="1021.2" cy="608.9" r="1.3" fill="#f6f8f9"/><circle cx="1036.6" cy="627.8" r="0.5" fill="#dfe3e6"/><circle cx="1019.6" cy="567.7" r="1.3" fill="#0a0a0b"/><circle cx="1012.5" cy="551.7" r="0.6" fill="#0a0a0b"/><circle cx="1039.9" cy="582.9" r="1.4" fill="#0a0a0b"/><circle cx="1065.4" cy="662.2" r="1.6" fill="#f6f8f9"/><circle cx="1057.3" cy="642.1" r="1.7" fill="#0a0a0b"/><circle cx="1005.2" cy="566.0" r="1.6" fill="#8c9198"/><circle cx="1055.1" cy="647.0" r="0.5" fill="#0a0a0b"/><circle cx="1026.7" cy="603.9" r="1.5" fill="#8c9198"/><circle cx="1027.1" cy="617.4" r="1.3" fill="#8c9198"/><circle cx="1058.6" cy="635.5" r="1.1" fill="#0a0a0b"/><circle cx="1020.0" cy="558.0" r="1.0" fill="#0a0a0b"/><circle cx="1034.8" cy="601.3" r="1.3" fill="#2a2c30"/><circle cx="1025.8" cy="611.7" r="1.2" fill="#8c9198"/><circle cx="1052.4" cy="639.4" r="1.5" fill="#2a2c30"/><circle cx="1058.0" cy="664.4" r="1.3" fill="#8c9198"/><circle cx="1002.6" cy="563.9" r="0.9" fill="#f6f8f9"/><circle cx="1004.8" cy="554.7" r="1.5" fill="#0a0a0b"/><circle cx="1070.6" cy="665.5" r="1.0" fill="#dfe3e6"/><circle cx="1052.3" cy="659.4" r="0.5" fill="#8c9198"/><circle cx="1074.9" cy="666.7" r="0.9" fill="#0a0a0b"/><circle cx="1049.3" cy="611.3" r="0.9" fill="#0a0a0b"/><circle cx="1014.3" cy="574.0" r="1.0" fill="#0a0a0b"/><circle cx="1033.6" cy="625.6" r="0.8" fill="#f6f8f9"/><circle cx="1015.1" cy="575.9" r="1.4" fill="#0a0a0b"/><circle cx="1056.6" cy="647.1" r="1.7" fill="#0a0a0b"/><circle cx="1043.6" cy="621.7" r="1.4" fill="#0a0a0b"/><circle cx="1053.5" cy="619.5" r="1.2" fill="#0a0a0b"/><circle cx="993.6" cy="560.7" r="1.5" fill="#f6f8f9"/><circle cx="1078.9" cy="660.0" r="0.5" fill="#0a0a0b"/><circle cx="1008.8" cy="546.8" r="1.0" fill="#0a0a0b"/><circle cx="1063.1" cy="655.5" r="1.0" fill="#0a0a0b"/><circle cx="1060.5" cy="671.2" r="0.6" fill="#f6f8f9"/><circle cx="1038.5" cy="626.1" r="0.9" fill="#8c9198"/><circle cx="1074.0" cy="660.4" r="1.5" fill="#2a2c30"/><circle cx="1035.8" cy="606.8" r="0.7" fill="#2a2c30"/><circle cx="1041.8" cy="642.2" r="0.5" fill="#dfe3e6"/><circle cx="1023.7" cy="605.0" r="1.2" fill="#dfe3e6"/><circle cx="1003.1" cy="555.9" r="1.3" fill="#0a0a0b"/><circle cx="1018.1" cy="610.7" r="0.7" fill="#8c9198"/><circle cx="1076.1" cy="665.6" r="1.7" fill="#2a2c30"/><circle cx="1052.0" cy="606.8" r="1.6" fill="#2a2c30"/><circle cx="1065.3" cy="670.9" r="0.7" fill="#dfe3e6"/><circle cx="1033.1" cy="614.1" r="0.6" fill="#dfe3e6"/><circle cx="1026.1" cy="609.1" r="1.5" fill="#8c9198"/><circle cx="1073.7" cy="661.2" r="1.7" fill="#0a0a0b"/><circle cx="1010.8" cy="548.2" r="1.1" fill="#0a0a0b"/><circle cx="1017.6" cy="557.6" r="1.6" fill="#2a2c30"/><circle cx="1026.0" cy="634.7" r="0.6" fill="#dfe3e6"/><circle cx="1006.7" cy="551.1" r="1.1" fill="#0a0a0b"/><circle cx="1057.1" cy="663.1" r="1.1" fill="#dfe3e6"/><circle cx="1025.7" cy="615.8" r="1.3" fill="#8c9198"/><circle cx="1008.4" cy="565.3" r="1.1" fill="#0a0a0b"/><circle cx="1064.7" cy="662.7" r="1.1" fill="#dfe3e6"/><circle cx="1055.5" cy="624.3" r="1.0" fill="#2a2c30"/><circle cx="1019.6" cy="635.3" r="1.4" fill="#f6f8f9"/><circle cx="1087.4" cy="652.9" r="0.5" fill="#0a0a0b"/><circle cx="1045.8" cy="632.3" r="0.9" fill="#0a0a0b"/><circle cx="1037.5" cy="608.4" r="1.4" fill="#0a0a0b"/><circle cx="996.4" cy="582.3" r="0.5" fill="#8c9198"/><circle cx="1048.2" cy="644.3" r="1.3" fill="#8c9198"/><circle cx="1024.1" cy="626.2" r="0.7" fill="#dfe3e6"/><circle cx="1030.3" cy="597.0" r="1.6" fill="#0a0a0b"/><circle cx="1028.6" cy="611.6" r="1.1" fill="#8c9198"/><circle cx="1033.3" cy="596.4" r="1.1" fill="#0a0a0b"/><circle cx="1011.6" cy="611.6" r="0.5" fill="#8c9198"/><circle cx="1068.4" cy="665.7" r="0.8" fill="#8c9198"/><circle cx="1040.5" cy="599.2" r="0.6" fill="#2a2c30"/><circle cx="1053.9" cy="660.5" r="1.0" fill="#dfe3e6"/><circle cx="1035.8" cy="615.4" r="0.6" fill="#8c9198"/><circle cx="1067.2" cy="647.6" r="0.8" fill="#0a0a0b"/><circle cx="1017.6" cy="580.9" r="1.1" fill="#0a0a0b"/><circle cx="1039.6" cy="603.2" r="0.8" fill="#2a2c30"/><circle cx="1035.4" cy="625.8" r="1.5" fill="#f6f8f9"/><circle cx="1005.0" cy="554.9" r="1.1" fill="#0a0a0b"/><circle cx="1041.1" cy="626.7" r="1.6" fill="#8c9198"/><circle cx="1037.6" cy="610.5" r="1.4" fill="#0a0a0b"/><circle cx="1068.2" cy="653.0" r="0.7" fill="#0a0a0b"/><circle cx="1003.3" cy="562.0" r="1.1" fill="#f6f8f9"/><circle cx="1051.7" cy="665.4" r="0.8" fill="#dfe3e6"/><circle cx="1039.9" cy="606.7" r="0.8" fill="#0a0a0b"/><circle cx="1085.1" cy="654.8" r="1.6" fill="#0a0a0b"/><circle cx="1037.3" cy="642.8" r="1.0" fill="#8c9198"/><circle cx="1035.6" cy="625.7" r="0.9" fill="#dfe3e6"/><circle cx="1040.7" cy="610.7" r="1.6" fill="#0a0a0b"/><circle cx="995.6" cy="563.1" r="1.4" fill="#dfe3e6"/><circle cx="987.9" cy="561.8" r="1.3" fill="#8c9198"/><circle cx="1026.4" cy="599.9" r="0.7" fill="#8c9198"/><circle cx="1067.9" cy="660.5" r="0.5" fill="#0a0a0b"/><circle cx="992.7" cy="559.3" r="0.8" fill="#dfe3e6"/><circle cx="1065.1" cy="637.2" r="0.8" fill="#0a0a0b"/><circle cx="999.0" cy="578.5" r="1.2" fill="#f6f8f9"/><circle cx="1029.6" cy="610.6" r="1.2" fill="#8c9198"/><circle cx="1007.8" cy="575.0" r="1.3" fill="#dfe3e6"/><circle cx="1052.3" cy="638.0" r="1.4" fill="#0a0a0b"/><circle cx="1051.8" cy="632.7" r="1.4" fill="#0a0a0b"/><circle cx="1064.8" cy="619.3" r="1.3" fill="#0a0a0b"/><circle cx="1022.1" cy="570.8" r="0.8" fill="#0a0a0b"/><circle cx="1032.8" cy="605.5" r="1.6" fill="#8c9198"/><circle cx="1032.5" cy="611.5" r="1.5" fill="#dfe3e6"/><circle cx="1015.5" cy="565.4" r="0.8" fill="#0a0a0b"/><circle cx="1061.6" cy="657.3" r="1.5" fill="#f6f8f9"/><circle cx="1008.1" cy="558.0" r="1.7" fill="#0a0a0b"/><circle cx="1034.9" cy="607.6" r="1.5" fill="#2a2c30"/><circle cx="1026.4" cy="604.7" r="0.6" fill="#dfe3e6"/><circle cx="994.7" cy="567.5" r="0.6" fill="#8c9198"/><circle cx="1045.3" cy="617.8" r="1.5" fill="#0a0a0b"/><circle cx="1070.3" cy="649.1" r="1.7" fill="#2a2c30"/><circle cx="1021.4" cy="564.4" r="1.7" fill="#0a0a0b"/><circle cx="1035.4" cy="614.6" r="0.7" fill="#f6f8f9"/><circle cx="1054.5" cy="660.7" r="0.7" fill="#8c9198"/><circle cx="1055.1" cy="592.4" r="1.1" fill="#0a0a0b"/><circle cx="1063.3" cy="648.7" r="1.0" fill="#0a0a0b"/><circle cx="1045.6" cy="670.9" r="1.5" fill="#8c9198"/><circle cx="1060.6" cy="671.6" r="0.6" fill="#f6f8f9"/><circle cx="1044.5" cy="633.9" r="1.2" fill="#f6f8f9"/><circle cx="1065.3" cy="668.6" r="0.8" fill="#8c9198"/><circle cx="1036.3" cy="622.8" r="1.0" fill="#dfe3e6"/><circle cx="1058.6" cy="637.5" r="1.4" fill="#0a0a0b"/><circle cx="1019.6" cy="579.7" r="0.7" fill="#0a0a0b"/><circle cx="1024.2" cy="601.0" r="1.4" fill="#dfe3e6"/><circle cx="1033.2" cy="618.9" r="0.9" fill="#8c9198"/><circle cx="994.2" cy="596.7" r="1.1" fill="#dfe3e6"/><circle cx="1039.6" cy="609.6" r="1.4" fill="#0a0a0b"/><circle cx="1043.1" cy="610.2" r="1.2" fill="#0a0a0b"/><circle cx="1034.7" cy="631.3" r="1.0" fill="#f6f8f9"/><circle cx="1029.4" cy="605.6" r="1.2" fill="#8c9198"/><circle cx="1032.7" cy="612.2" r="1.6" fill="#8c9198"/><circle cx="1025.7" cy="638.4" r="0.6" fill="#8c9198"/><circle cx="1004.4" cy="558.5" r="1.3" fill="#0a0a0b"/><circle cx="1020.3" cy="576.0" r="0.6" fill="#0a0a0b"/><circle cx="993.7" cy="557.4" r="1.4" fill="#8c9198"/><circle cx="1058.1" cy="634.5" r="0.7" fill="#0a0a0b"/><circle cx="1001.7" cy="554.5" r="1.6" fill="#0a0a0b"/><circle cx="1030.4" cy="640.5" r="1.7" fill="#8c9198"/><circle cx="1073.3" cy="649.9" r="1.1" fill="#0a0a0b"/><circle cx="1018.0" cy="598.3" r="0.6" fill="#dfe3e6"/><circle cx="1029.7" cy="589.7" r="1.7" fill="#0a0a0b"/><circle cx="1061.5" cy="636.5" r="1.2" fill="#0a0a0b"/><circle cx="1028.5" cy="622.2" r="1.7" fill="#dfe3e6"/><circle cx="1046.1" cy="644.2" r="0.8" fill="#dfe3e6"/><circle cx="1086.3" cy="654.8" r="1.4" fill="#0a0a0b"/><circle cx="1023.5" cy="595.8" r="0.5" fill="#8c9198"/><circle cx="1057.9" cy="641.5" r="0.9" fill="#2a2c30"/><circle cx="1034.5" cy="592.9" r="1.2" fill="#0a0a0b"/><circle cx="1011.7" cy="573.4" r="0.7" fill="#0a0a0b"/><circle cx="1036.5" cy="602.0" r="0.6" fill="#0a0a0b"/><circle cx="1008.1" cy="571.8" r="1.1" fill="#8c9198"/><circle cx="1012.6" cy="571.6" r="1.0" fill="#2a2c30"/><circle cx="1073.5" cy="660.1" r="0.5" fill="#0a0a0b"/><circle cx="1006.4" cy="559.1" r="1.4" fill="#2a2c30"/><circle cx="1011.2" cy="587.8" r="1.4" fill="#f6f8f9"/><circle cx="1061.3" cy="648.7" r="1.2" fill="#2a2c30"/><circle cx="1043.8" cy="615.8" r="0.6" fill="#0a0a0b"/><circle cx="1049.0" cy="656.7" r="0.6" fill="#8c9198"/><circle cx="1017.5" cy="595.6" r="1.7" fill="#dfe3e6"/><circle cx="994.9" cy="577.3" r="1.2" fill="#f6f8f9"/><circle cx="1057.6" cy="660.8" r="0.7" fill="#8c9198"/><circle cx="1064.1" cy="653.6" r="1.7" fill="#2a2c30"/><circle cx="1063.5" cy="653.6" r="1.4" fill="#2a2c30"/><circle cx="1033.1" cy="647.3" r="1.0" fill="#8c9198"/><circle cx="997.6" cy="555.0" r="0.8" fill="#8c9198"/><circle cx="1005.2" cy="584.9" r="1.1" fill="#dfe3e6"/><circle cx="1051.8" cy="649.8" r="1.6" fill="#dfe3e6"/><circle cx="999.1" cy="553.9" r="1.4" fill="#8c9198"/><circle cx="1057.7" cy="621.6" r="1.6" fill="#0a0a0b"/><circle cx="1055.7" cy="660.5" r="1.2" fill="#dfe3e6"/><circle cx="1011.8" cy="545.8" r="0.8" fill="#2a2c30"/><circle cx="1059.7" cy="653.1" r="1.4" fill="#0a0a0b"/><circle cx="1007.9" cy="566.3" r="1.0" fill="#0a0a0b"/><circle cx="1000.1" cy="565.9" r="1.2" fill="#f6f8f9"/><circle cx="1037.9" cy="603.1" r="1.7" fill="#2a2c30"/><circle cx="1003.8" cy="555.6" r="1.0" fill="#0a0a0b"/><circle cx="1052.6" cy="644.2" r="0.8" fill="#8c9198"/><circle cx="1034.9" cy="635.6" r="1.3" fill="#8c9198"/><circle cx="1049.0" cy="639.9" r="1.4" fill="#dfe3e6"/><circle cx="1033.5" cy="619.5" r="1.2" fill="#8c9198"/><circle cx="1069.1" cy="660.8" r="1.4" fill="#2a2c30"/><circle cx="1073.6" cy="665.3" r="1.2" fill="#0a0a0b"/><circle cx="1055.9" cy="664.0" r="1.2" fill="#8c9198"/><circle cx="1028.8" cy="602.6" r="1.0" fill="#8c9198"/><circle cx="1054.3" cy="606.9" r="1.4" fill="#0a0a0b"/><circle cx="1065.1" cy="672.7" r="0.9" fill="#8c9198"/><circle cx="994.5" cy="560.0" r="0.7" fill="#dfe3e6"/><circle cx="1001.4" cy="555.5" r="1.5" fill="#2a2c30"/><circle cx="1024.9" cy="611.2" r="1.6" fill="#dfe3e6"/><circle cx="1008.9" cy="553.6" r="1.4" fill="#2a2c30"/><circle cx="1051.9" cy="643.3" r="1.5" fill="#dfe3e6"/><circle cx="1058.7" cy="648.8" r="1.1" fill="#2a2c30"/><circle cx="1064.4" cy="658.8" r="0.5" fill="#0a0a0b"/><circle cx="1045.9" cy="677.4" r="1.4" fill="#8c9198"/><circle cx="985.0" cy="565.6" r="1.5" fill="#f6f8f9"/><circle cx="1024.7" cy="574.3" r="0.9" fill="#2a2c30"/><circle cx="1063.9" cy="661.0" r="1.3" fill="#8c9198"/><circle cx="1009.8" cy="562.9" r="0.7" fill="#0a0a0b"/><circle cx="1056.6" cy="661.3" r="0.7" fill="#dfe3e6"/><circle cx="1024.8" cy="625.3" r="1.5" fill="#dfe3e6"/><circle cx="1083.8" cy="657.7" r="0.7" fill="#2a2c30"/><circle cx="1060.4" cy="640.3" r="0.7" fill="#0a0a0b"/><circle cx="1029.5" cy="582.9" r="0.8" fill="#0a0a0b"/><circle cx="1013.8" cy="574.3" r="0.8" fill="#2a2c30"/><circle cx="1022.1" cy="571.7" r="1.4" fill="#0a0a0b"/><circle cx="990.2" cy="560.2" r="0.9" fill="#8c9198"/><circle cx="1041.3" cy="614.9" r="1.7" fill="#0a0a0b"/><circle cx="1068.9" cy="653.5" r="1.1" fill="#2a2c30"/><circle cx="1063.4" cy="661.5" r="1.3" fill="#8c9198"/><circle cx="1040.0" cy="664.0" r="1.1" fill="#8c9198"/><circle cx="1045.9" cy="647.4" r="0.9" fill="#dfe3e6"/><circle cx="1062.6" cy="658.9" r="0.8" fill="#dfe3e6"/><circle cx="1013.2" cy="570.1" r="0.9" fill="#0a0a0b"/><circle cx="1009.8" cy="555.1" r="0.6" fill="#0a0a0b"/><circle cx="998.6" cy="563.7" r="0.6" fill="#f6f8f9"/><circle cx="1049.0" cy="662.7" r="0.8" fill="#f6f8f9"/><circle cx="1054.4" cy="606.2" r="1.5" fill="#0a0a0b"/><circle cx="1043.4" cy="608.1" r="1.0" fill="#2a2c30"/><circle cx="1048.4" cy="610.1" r="1.1" fill="#0a0a0b"/><circle cx="1079.8" cy="659.5" r="0.9" fill="#0a0a0b"/><circle cx="1054.7" cy="638.8" r="1.0" fill="#0a0a0b"/><circle cx="1006.7" cy="599.7" r="1.0" fill="#8c9198"/><circle cx="996.9" cy="558.8" r="1.4" fill="#dfe3e6"/><circle cx="1049.6" cy="644.0" r="1.7" fill="#8c9198"/><circle cx="1042.6" cy="646.5" r="0.8" fill="#dfe3e6"/><circle cx="1013.6" cy="555.7" r="0.8" fill="#2a2c30"/><circle cx="1032.9" cy="638.9" r="1.1" fill="#f6f8f9"/><circle cx="1007.0" cy="556.1" r="0.8" fill="#0a0a0b"/><circle cx="1038.8" cy="633.7" r="0.6" fill="#f6f8f9"/><circle cx="1056.4" cy="667.9" r="0.9" fill="#8c9198"/><circle cx="1049.9" cy="601.8" r="1.5" fill="#0a0a0b"/><circle cx="1032.4" cy="608.0" r="1.0" fill="#8c9198"/><circle cx="1047.3" cy="636.2" r="1.7" fill="#f6f8f9"/><circle cx="1052.5" cy="668.2" r="1.2" fill="#8c9198"/><circle cx="1007.0" cy="598.1" r="0.7" fill="#8c9198"/><circle cx="1077.7" cy="658.6" r="1.4" fill="#0a0a0b"/><circle cx="995.6" cy="569.8" r="1.0" fill="#8c9198"/><circle cx="1057.3" cy="656.6" r="1.1" fill="#8c9198"/><circle cx="1058.6" cy="654.2" r="1.6" fill="#8c9198"/><circle cx="1003.3" cy="559.7" r="1.0" fill="#0a0a0b"/><circle cx="1004.3" cy="551.1" r="1.0" fill="#0a0a0b"/><circle cx="1033.5" cy="618.5" r="1.0" fill="#f6f8f9"/><circle cx="1025.2" cy="594.0" r="0.9" fill="#8c9198"/><circle cx="1066.1" cy="651.6" r="1.0" fill="#0a0a0b"/><circle cx="1043.1" cy="612.0" r="1.4" fill="#0a0a0b"/><circle cx="1061.9" cy="646.5" r="0.6" fill="#0a0a0b"/><circle cx="1047.3" cy="614.3" r="1.3" fill="#2a2c30"/><circle cx="1026.1" cy="619.7" r="1.7" fill="#8c9198"/><circle cx="1054.4" cy="664.5" r="1.0" fill="#f6f8f9"/><circle cx="1043.9" cy="618.9" r="1.0" fill="#0a0a0b"/><circle cx="1037.1" cy="616.9" r="1.4" fill="#dfe3e6"/><circle cx="1042.9" cy="637.5" r="1.3" fill="#f6f8f9"/><circle cx="1035.6" cy="618.3" r="0.8" fill="#dfe3e6"/><circle cx="1020.6" cy="564.3" r="1.2" fill="#0a0a0b"/><circle cx="1030.8" cy="628.4" r="0.6" fill="#dfe3e6"/><circle cx="1057.0" cy="645.2" r="1.7" fill="#2a2c30"/><circle cx="1030.1" cy="583.6" r="0.9" fill="#0a0a0b"/><circle cx="1028.2" cy="591.2" r="0.9" fill="#0a0a0b"/><circle cx="1053.3" cy="618.6" r="1.5" fill="#0a0a0b"/><circle cx="1086.6" cy="655.8" r="1.0" fill="#2a2c30"/><circle cx="1059.0" cy="650.4" r="1.1" fill="#0a0a0b"/><circle cx="1027.9" cy="577.3" r="1.3" fill="#0a0a0b"/><circle cx="1008.2" cy="574.2" r="1.7" fill="#f6f8f9"/><circle cx="1023.2" cy="610.1" r="0.7" fill="#dfe3e6"/><circle cx="1030.3" cy="579.7" r="1.5" fill="#0a0a0b"/><circle cx="1035.6" cy="619.0" r="1.2" fill="#f6f8f9"/><circle cx="1004.4" cy="556.7" r="0.6" fill="#2a2c30"/><circle cx="1046.3" cy="621.6" r="1.1" fill="#0a0a0b"/><circle cx="1052.1" cy="639.0" r="0.8" fill="#0a0a0b"/><circle cx="1018.7" cy="576.2" r="0.6" fill="#0a0a0b"/><circle cx="1037.2" cy="612.7" r="1.2" fill="#0a0a0b"/><circle cx="1044.5" cy="590.7" r="1.1" fill="#2a2c30"/><circle cx="1049.8" cy="654.9" r="1.0" fill="#f6f8f9"/><circle cx="1053.6" cy="638.7" r="0.7" fill="#0a0a0b"/><circle cx="1004.6" cy="568.2" r="1.2" fill="#8c9198"/><circle cx="1018.1" cy="542.8" r="0.9" fill="#0a0a0b"/><circle cx="1040.3" cy="617.1" r="1.6" fill="#0a0a0b"/><circle cx="1007.9" cy="547.2" r="0.9" fill="#0a0a0b"/><circle cx="1067.5" cy="659.5" r="1.3" fill="#2a2c30"/><circle cx="1045.8" cy="583.4" r="1.6" fill="#2a2c30"/><circle cx="1058.8" cy="656.2" r="0.8" fill="#f6f8f9"/><circle cx="1017.3" cy="571.7" r="1.2" fill="#0a0a0b"/><circle cx="1032.4" cy="611.0" r="0.9" fill="#dfe3e6"/><circle cx="1041.6" cy="647.0" r="1.6" fill="#8c9198"/><circle cx="1015.6" cy="571.3" r="1.5" fill="#0a0a0b"/><circle cx="1043.5" cy="624.2" r="1.0" fill="#2a2c30"/><circle cx="1043.4" cy="659.1" r="0.8" fill="#8c9198"/><circle cx="1015.8" cy="583.7" r="0.8" fill="#f6f8f9"/><circle cx="1071.7" cy="661.6" r="0.7" fill="#0a0a0b"/><circle cx="1036.4" cy="611.2" r="1.0" fill="#2a2c30"/><circle cx="1076.1" cy="649.4" r="0.8" fill="#0a0a0b"/><circle cx="1005.5" cy="579.8" r="1.0" fill="#8c9198"/><circle cx="1008.0" cy="572.6" r="1.7" fill="#8c9198"/><circle cx="1041.7" cy="602.4" r="1.2" fill="#2a2c30"/><circle cx="1081.2" cy="655.7" r="1.4" fill="#0a0a0b"/><circle cx="1021.5" cy="567.3" r="1.2" fill="#0a0a0b"/><circle cx="1034.2" cy="633.6" r="0.7" fill="#f6f8f9"/><circle cx="1051.4" cy="657.0" r="0.6" fill="#8c9198"/><circle cx="1040.7" cy="646.7" r="0.6" fill="#f6f8f9"/><circle cx="1032.0" cy="590.4" r="0.5" fill="#0a0a0b"/><circle cx="998.8" cy="555.3" r="1.4" fill="#dfe3e6"/><circle cx="1034.4" cy="588.2" r="0.7" fill="#0a0a0b"/><circle cx="1070.6" cy="665.1" r="1.7" fill="#8c9198"/><circle cx="1076.3" cy="658.3" r="0.7" fill="#0a0a0b"/><circle cx="1009.3" cy="580.7" r="0.9" fill="#dfe3e6"/><circle cx="1008.2" cy="567.8" r="1.5" fill="#2a2c30"/><circle cx="1004.4" cy="552.3" r="1.4" fill="#0a0a0b"/><circle cx="1046.2" cy="643.6" r="1.3" fill="#f6f8f9"/><circle cx="1023.7" cy="603.6" r="1.1" fill="#f6f8f9"/><circle cx="1054.3" cy="674.5" r="1.3" fill="#8c9198"/><circle cx="1009.7" cy="552.3" r="1.4" fill="#2a2c30"/><circle cx="1002.3" cy="586.2" r="1.3" fill="#dfe3e6"/><circle cx="1025.1" cy="634.9" r="1.1" fill="#f6f8f9"/><circle cx="1003.7" cy="565.1" r="1.3" fill="#dfe3e6"/><circle cx="1040.6" cy="613.2" r="1.2" fill="#0a0a0b"/><circle cx="1030.7" cy="602.4" r="0.8" fill="#f6f8f9"/><circle cx="1085.0" cy="657.5" r="1.5" fill="#2a2c30"/><circle cx="1009.3" cy="574.0" r="1.6" fill="#f6f8f9"/><circle cx="1015.1" cy="561.3" r="1.1" fill="#2a2c30"/><circle cx="1061.2" cy="642.8" r="1.5" fill="#2a2c30"/><circle cx="1029.0" cy="601.4" r="0.5" fill="#dfe3e6"/><circle cx="1025.2" cy="588.8" r="1.5" fill="#0a0a0b"/><circle cx="1059.2" cy="659.7" r="1.3" fill="#8c9198"/><circle cx="1047.3" cy="639.5" r="1.4" fill="#8c9198"/><circle cx="1034.7" cy="593.9" r="1.2" fill="#0a0a0b"/><circle cx="1026.0" cy="606.6" r="1.4" fill="#8c9198"/><circle cx="998.7" cy="558.7" r="0.7" fill="#8c9198"/><circle cx="1023.7" cy="600.6" r="1.2" fill="#8c9198"/><circle cx="1047.9" cy="582.1" r="1.0" fill="#2a2c30"/><circle cx="1011.1" cy="567.4" r="0.7" fill="#0a0a0b"/><circle cx="1070.6" cy="652.7" r="1.7" fill="#2a2c30"/><circle cx="1007.8" cy="571.4" r="0.8" fill="#8c9198"/><circle cx="1030.4" cy="630.1" r="0.8" fill="#dfe3e6"/><circle cx="1057.4" cy="635.4" r="1.5" fill="#2a2c30"/><circle cx="1054.7" cy="606.1" r="1.4" fill="#0a0a0b"/><circle cx="1011.0" cy="561.8" r="0.8" fill="#0a0a0b"/><circle cx="997.6" cy="560.0" r="1.0" fill="#8c9198"/><circle cx="1050.9" cy="633.2" r="1.3" fill="#0a0a0b"/><circle cx="1017.5" cy="608.1" r="1.3" fill="#8c9198"/><circle cx="1016.5" cy="552.9" r="1.6" fill="#2a2c30"/><circle cx="1077.1" cy="657.7" r="1.7" fill="#2a2c30"/><circle cx="1042.8" cy="602.0" r="1.6" fill="#0a0a0b"/><circle cx="1055.9" cy="656.6" r="1.7" fill="#f6f8f9"/><circle cx="1067.1" cy="645.8" r="0.9" fill="#2a2c30"/><circle cx="1002.9" cy="586.2" r="1.3" fill="#8c9198"/><circle cx="1057.5" cy="654.1" r="1.6" fill="#f6f8f9"/><circle cx="1019.2" cy="600.7" r="1.5" fill="#8c9198"/><circle cx="1009.0" cy="561.9" r="1.2" fill="#0a0a0b"/><circle cx="1009.8" cy="567.5" r="0.7" fill="#0a0a0b"/><circle cx="1026.7" cy="576.2" r="1.2" fill="#0a0a0b"/><circle cx="998.6" cy="564.7" r="1.6" fill="#f6f8f9"/><circle cx="997.1" cy="556.5" r="1.7" fill="#8c9198"/><circle cx="1034.9" cy="590.3" r="1.6" fill="#2a2c30"/><circle cx="1036.7" cy="624.0" r="1.5" fill="#8c9198"/><circle cx="1042.9" cy="588.3" r="1.4" fill="#0a0a0b"/><circle cx="1010.4" cy="591.9" r="1.1" fill="#8c9198"/><circle cx="1065.4" cy="642.5" r="0.6" fill="#2a2c30"/><circle cx="1002.4" cy="562.2" r="0.7" fill="#8c9198"/><circle cx="997.7" cy="572.2" r="0.7" fill="#8c9198"/><circle cx="1039.5" cy="613.4" r="0.6" fill="#2a2c30"/><circle cx="1031.2" cy="587.6" r="0.9" fill="#0a0a0b"/><circle cx="1030.4" cy="609.5" r="1.5" fill="#8c9198"/><circle cx="1044.3" cy="652.0" r="1.1" fill="#8c9198"/><circle cx="1020.4" cy="552.1" r="0.9" fill="#0a0a0b"/><circle cx="1066.4" cy="644.3" r="0.8" fill="#2a2c30"/><circle cx="1012.4" cy="561.9" r="1.4" fill="#0a0a0b"/><circle cx="1015.7" cy="545.1" r="1.5" fill="#0a0a0b"/><circle cx="997.4" cy="585.3" r="0.6" fill="#dfe3e6"/><circle cx="1031.5" cy="606.0" r="0.9" fill="#dfe3e6"/><circle cx="1031.5" cy="599.5" r="1.1" fill="#0a0a0b"/><circle cx="1070.8" cy="668.7" r="0.7" fill="#8c9198"/><circle cx="1003.6" cy="557.0" r="1.3" fill="#0a0a0b"/><circle cx="1001.5" cy="579.0" r="1.6" fill="#8c9198"/><circle cx="1005.0" cy="560.9" r="1.1" fill="#2a2c30"/><circle cx="1011.1" cy="586.5" r="1.1" fill="#dfe3e6"/><circle cx="1018.1" cy="568.8" r="0.9" fill="#0a0a0b"/><circle cx="1012.8" cy="553.9" r="1.0" fill="#2a2c30"/><circle cx="1026.2" cy="617.5" r="1.6" fill="#8c9198"/><circle cx="1047.5" cy="607.8" r="1.6" fill="#0a0a0b"/><circle cx="1062.2" cy="644.5" r="0.6" fill="#0a0a0b"/><circle cx="1000.0" cy="570.9" r="1.7" fill="#f6f8f9"/><circle cx="1032.2" cy="603.1" r="1.6" fill="#8c9198"/><circle cx="1005.2" cy="548.6" r="1.5" fill="#2a2c30"/><circle cx="1025.2" cy="602.2" r="0.6" fill="#8c9198"/><circle cx="1046.1" cy="627.8" r="1.1" fill="#0a0a0b"/><circle cx="1047.6" cy="653.5" r="1.5" fill="#8c9198"/><circle cx="1038.7" cy="647.1" r="1.5" fill="#f6f8f9"/><circle cx="1040.3" cy="617.1" r="1.2" fill="#0a0a0b"/><circle cx="1063.4" cy="661.3" r="0.9" fill="#8c9198"/><circle cx="1021.5" cy="589.5" r="1.3" fill="#dfe3e6"/><circle cx="1036.1" cy="617.2" r="1.6" fill="#8c9198"/><circle cx="995.6" cy="568.8" r="0.8" fill="#dfe3e6"/><circle cx="1052.9" cy="648.1" r="1.6" fill="#8c9198"/><circle cx="999.4" cy="554.8" r="1.4" fill="#f6f8f9"/><circle cx="1020.2" cy="539.3" r="1.5" fill="#0a0a0b"/><circle cx="1046.1" cy="635.7" r="0.8" fill="#8c9198"/><circle cx="1034.9" cy="584.2" r="0.8" fill="#0a0a0b"/><circle cx="1051.1" cy="635.0" r="0.6" fill="#0a0a0b"/><circle cx="1045.3" cy="646.2" r="1.0" fill="#8c9198"/><circle cx="993.9" cy="580.8" r="1.6" fill="#8c9198"/><circle cx="1004.9" cy="612.3" r="0.6" fill="#8c9198"/><circle cx="1053.4" cy="630.4" r="1.0" fill="#2a2c30"/><circle cx="990.7" cy="568.6" r="0.6" fill="#dfe3e6"/><circle cx="1026.9" cy="608.9" r="0.9" fill="#8c9198"/><circle cx="1002.9" cy="555.2" r="1.0" fill="#2a2c30"/><circle cx="1011.0" cy="562.9" r="1.0" fill="#2a2c30"/><circle cx="1031.4" cy="613.1" r="1.0" fill="#8c9198"/><circle cx="1050.9" cy="642.9" r="1.1" fill="#8c9198"/><circle cx="1044.1" cy="590.0" r="0.6" fill="#0a0a0b"/><circle cx="1027.6" cy="601.8" r="0.5" fill="#8c9198"/><circle cx="1069.2" cy="663.7" r="0.7" fill="#8c9198"/><circle cx="1015.6" cy="590.9" r="1.5" fill="#f6f8f9"/><circle cx="1027.5" cy="604.5" r="0.9" fill="#f6f8f9"/><circle cx="1014.0" cy="584.2" r="1.3" fill="#f6f8f9"/><circle cx="1030.9" cy="630.4" r="0.7" fill="#f6f8f9"/><circle cx="998.3" cy="553.9" r="1.1" fill="#dfe3e6"/><circle cx="1071.3" cy="667.9" r="1.1" fill="#dfe3e6"/><circle cx="1025.4" cy="608.9" r="0.7" fill="#8c9198"/><circle cx="1040.0" cy="571.0" r="1.0" fill="#2a2c30"/><circle cx="1032.8" cy="635.0" r="0.6" fill="#dfe3e6"/><circle cx="1027.5" cy="631.8" r="0.4" fill="#dfe3e6"/><circle cx="1006.3" cy="599.8" r="0.5" fill="#6d7177"/><circle cx="1000.9" cy="602.2" r="0.6" fill="#dfe3e6"/><circle cx="1003.6" cy="615.5" r="0.9" fill="#6d7177"/><circle cx="1012.6" cy="594.8" r="1.1" fill="#8c9198"/><circle cx="1037.1" cy="653.4" r="0.6" fill="#dfe3e6"/><circle cx="1033.1" cy="637.4" r="0.8" fill="#8c9198"/><circle cx="1013.2" cy="624.7" r="1.0" fill="#6d7177"/><circle cx="992.8" cy="601.3" r="0.9" fill="#dfe3e6"/><circle cx="1009.6" cy="588.4" r="0.9" fill="#dfe3e6"/><circle cx="1016.7" cy="623.9" r="1.0" fill="#dfe3e6"/><circle cx="1024.7" cy="630.8" r="0.4" fill="#dfe3e6"/><circle cx="1025.5" cy="620.8" r="0.8" fill="#8c9198"/><circle cx="999.7" cy="614.8" r="0.9" fill="#dfe3e6"/><circle cx="1040.4" cy="654.5" r="0.5" fill="#8c9198"/><circle cx="1013.1" cy="595.9" r="0.9" fill="#8c9198"/><circle cx="1040.2" cy="661.1" r="0.8" fill="#6d7177"/><circle cx="1021.1" cy="619.4" r="0.9" fill="#8c9198"/><circle cx="1035.4" cy="657.3" r="0.6" fill="#dfe3e6"/><circle cx="1021.5" cy="612.2" r="0.8" fill="#dfe3e6"/><circle cx="1042.1" cy="633.2" r="0.7" fill="#dfe3e6"/><circle cx="1037.4" cy="646.7" r="0.4" fill="#8c9198"/><circle cx="1038.3" cy="639.1" r="0.5" fill="#8c9198"/><circle cx="1021.3" cy="622.2" r="1.1" fill="#dfe3e6"/><circle cx="1058.9" cy="650.4" r="0.9" fill="#8c9198"/><circle cx="1018.6" cy="637.0" r="0.7" fill="#6d7177"/><circle cx="1018.0" cy="620.6" r="0.8" fill="#6d7177"/><circle cx="1022.2" cy="631.7" r="0.5" fill="#6d7177"/><circle cx="1039.7" cy="671.0" r="0.9" fill="#dfe3e6"/><circle cx="1044.0" cy="660.7" r="0.9" fill="#8c9198"/><circle cx="1024.6" cy="624.6" r="0.8" fill="#dfe3e6"/><circle cx="1024.9" cy="630.4" r="0.5" fill="#dfe3e6"/><circle cx="1043.9" cy="647.1" r="1.1" fill="#8c9198"/><circle cx="1040.1" cy="655.5" r="0.7" fill="#dfe3e6"/><circle cx="1004.2" cy="591.1" r="0.6" fill="#6d7177"/><circle cx="1018.0" cy="626.0" r="0.9" fill="#dfe3e6"/><circle cx="1026.1" cy="649.2" r="0.8" fill="#6d7177"/><circle cx="1029.5" cy="646.7" r="0.7" fill="#dfe3e6"/><circle cx="1029.0" cy="634.0" r="0.6" fill="#8c9198"/><circle cx="1032.3" cy="638.5" r="0.8" fill="#dfe3e6"/><circle cx="1020.7" cy="603.2" r="0.5" fill="#8c9198"/><circle cx="1039.9" cy="649.6" r="0.7" fill="#dfe3e6"/><circle cx="1018.4" cy="631.7" r="0.5" fill="#dfe3e6"/><circle cx="1013.0" cy="594.2" r="0.8" fill="#dfe3e6"/><circle cx="1038.4" cy="668.0" r="0.7" fill="#dfe3e6"/><circle cx="1041.0" cy="649.0" r="0.5" fill="#dfe3e6"/><circle cx="1061.7" cy="665.9" r="0.8" fill="#dfe3e6"/><circle cx="1028.8" cy="644.2" r="0.6" fill="#6d7177"/><circle cx="1025.4" cy="630.8" r="1.1" fill="#8c9198"/><circle cx="1029.0" cy="616.3" r="0.5" fill="#dfe3e6"/><circle cx="1043.5" cy="662.1" r="0.9" fill="#dfe3e6"/><circle cx="1007.6" cy="607.2" r="0.9" fill="#6d7177"/><circle cx="1031.6" cy="659.0" r="0.6" fill="#dfe3e6"/><circle cx="1028.5" cy="627.6" r="0.4" fill="#dfe3e6"/><circle cx="1022.0" cy="641.1" r="0.6" fill="#dfe3e6"/><circle cx="1030.7" cy="647.7" r="0.8" fill="#dfe3e6"/><circle cx="1054.6" cy="669.0" r="1.0" fill="#8c9198"/><circle cx="1021.8" cy="630.5" r="0.6" fill="#6d7177"/><circle cx="1044.4" cy="663.5" r="0.6" fill="#dfe3e6"/><circle cx="1031.1" cy="653.1" r="1.0" fill="#dfe3e6"/><circle cx="1003.6" cy="606.3" r="0.9" fill="#dfe3e6"/><circle cx="1039.6" cy="645.5" r="0.4" fill="#dfe3e6"/><circle cx="1022.6" cy="626.8" r="0.4" fill="#dfe3e6"/><circle cx="1009.0" cy="599.7" r="0.8" fill="#6d7177"/><circle cx="1043.3" cy="650.8" r="1.0" fill="#8c9198"/><circle cx="1007.7" cy="590.5" r="0.5" fill="#dfe3e6"/><circle cx="1010.0" cy="591.7" r="0.6" fill="#dfe3e6"/><circle cx="1002.7" cy="599.1" r="0.8" fill="#dfe3e6"/><circle cx="1010.8" cy="620.5" r="1.0" fill="#dfe3e6"/><circle cx="1041.6" cy="653.5" r="1.0" fill="#dfe3e6"/><circle cx="1060.7" cy="661.1" r="0.6" fill="#8c9198"/><circle cx="1006.4" cy="590.8" r="0.5" fill="#8c9198"/><circle cx="1041.9" cy="659.3" r="0.8" fill="#6d7177"/><circle cx="1052.1" cy="661.5" r="0.9" fill="#dfe3e6"/><circle cx="1019.9" cy="616.6" r="0.6" fill="#dfe3e6"/><circle cx="1013.6" cy="603.6" r="0.7" fill="#8c9198"/><circle cx="1016.4" cy="594.0" r="0.7" fill="#dfe3e6"/><circle cx="1006.4" cy="590.9" r="0.9" fill="#dfe3e6"/><circle cx="1028.6" cy="614.1" r="1.0" fill="#8c9198"/><circle cx="1017.8" cy="601.0" r="1.0" fill="#dfe3e6"/><circle cx="1020.7" cy="628.8" r="0.6" fill="#6d7177"/><circle cx="1036.4" cy="644.7" r="0.5" fill="#8c9198"/><circle cx="1018.2" cy="611.7" r="0.7" fill="#dfe3e6"/><circle cx="1037.3" cy="652.0" r="0.7" fill="#dfe3e6"/><circle cx="1019.4" cy="623.3" r="0.7" fill="#6d7177"/><circle cx="1042.4" cy="648.9" r="0.7" fill="#8c9198"/><circle cx="1038.4" cy="673.6" r="0.9" fill="#6d7177"/><circle cx="1024.3" cy="636.6" r="0.6" fill="#dfe3e6"/><circle cx="1033.5" cy="651.6" r="0.6" fill="#dfe3e6"/><circle cx="1032.0" cy="629.3" r="0.8" fill="#8c9198"/><circle cx="1025.8" cy="602.4" r="0.5" fill="#dfe3e6"/><circle cx="1024.1" cy="613.1" r="0.6" fill="#8c9198"/><circle cx="1026.7" cy="660.5" r="1.0" fill="#6d7177"/><circle cx="1053.1" cy="661.4" r="1.1" fill="#dfe3e6"/><circle cx="1025.7" cy="628.1" r="1.0" fill="#dfe3e6"/><circle cx="1050.0" cy="666.3" r="0.8" fill="#8c9198"/><circle cx="1027.6" cy="630.5" r="0.5" fill="#8c9198"/><circle cx="1032.8" cy="656.3" r="0.8" fill="#6d7177"/><circle cx="1050.9" cy="654.2" r="0.8" fill="#8c9198"/><circle cx="1026.7" cy="622.3" r="0.5" fill="#8c9198"/><circle cx="1005.8" cy="604.9" r="0.4" fill="#6d7177"/><circle cx="1009.8" cy="594.5" r="0.5" fill="#8c9198"/><circle cx="1022.6" cy="622.8" r="0.8" fill="#8c9198"/><circle cx="1011.2" cy="594.8" r="0.6" fill="#dfe3e6"/><circle cx="1033.0" cy="647.4" r="0.7" fill="#6d7177"/><circle cx="1045.1" cy="667.1" r="0.8" fill="#dfe3e6"/><circle cx="999.0" cy="610.6" r="0.6" fill="#dfe3e6"/><circle cx="1030.8" cy="630.0" r="1.0" fill="#8c9198"/><circle cx="1026.8" cy="652.4" r="0.5" fill="#6d7177"/><circle cx="1048.7" cy="664.6" r="0.8" fill="#dfe3e6"/><circle cx="1012.5" cy="591.1" r="0.7" fill="#dfe3e6"/><circle cx="1013.8" cy="604.3" r="0.5" fill="#8c9198"/><circle cx="1026.4" cy="652.7" r="0.8" fill="#6d7177"/><circle cx="1047.4" cy="673.0" r="1.0" fill="#dfe3e6"/><circle cx="1032.7" cy="653.4" r="0.6" fill="#6d7177"/><circle cx="1033.7" cy="645.5" r="1.0" fill="#8c9198"/><circle cx="1018.7" cy="613.7" r="1.0" fill="#dfe3e6"/><circle cx="1016.2" cy="642.9" r="1.1" fill="#dfe3e6"/><circle cx="1029.1" cy="641.1" r="0.9" fill="#dfe3e6"/><circle cx="1047.1" cy="677.3" r="0.9" fill="#dfe3e6"/><circle cx="1088.6" cy="602.8" r="1.0" fill="#f6f8f9"/><circle cx="1118.5" cy="618.2" r="1.7" fill="#f6f8f9"/><circle cx="1086.0" cy="588.8" r="1.8" fill="#f6f8f9"/><circle cx="1092.4" cy="595.8" r="0.9" fill="#dfe3e6"/><circle cx="1086.2" cy="570.8" r="1.0" fill="#f6f8f9"/><circle cx="1069.7" cy="562.9" r="1.3" fill="#f6f8f9"/><circle cx="1131.3" cy="636.1" r="1.6" fill="#a9aeb5"/><circle cx="1093.4" cy="576.0" r="1.3" fill="#a9aeb5"/><circle cx="1095.9" cy="606.3" r="1.3" fill="#f6f8f9"/><circle cx="1111.3" cy="615.0" r="1.3" fill="#f6f8f9"/><circle cx="1078.8" cy="554.5" r="0.8" fill="#8c9198"/><circle cx="1116.0" cy="610.5" r="0.8" fill="#a9aeb5"/><circle cx="1073.3" cy="549.6" r="1.3" fill="#8c9198"/><circle cx="1123.2" cy="659.9" r="0.6" fill="#8c9198"/><circle cx="1117.0" cy="640.1" r="1.9" fill="#f6f8f9"/><circle cx="1107.8" cy="619.5" r="0.7" fill="#f6f8f9"/><circle cx="1120.5" cy="661.5" r="1.5" fill="#f6f8f9"/><circle cx="1116.9" cy="613.7" r="1.8" fill="#a9aeb5"/><circle cx="1128.1" cy="635.4" r="1.7" fill="#a9aeb5"/><circle cx="1112.3" cy="666.5" r="1.7" fill="#dfe3e6"/><circle cx="1067.8" cy="569.7" r="0.7" fill="#f6f8f9"/><circle cx="1075.3" cy="548.2" r="1.7" fill="#8c9198"/><circle cx="1078.7" cy="556.3" r="0.9" fill="#f6f8f9"/><circle cx="1137.8" cy="620.1" r="0.8" fill="#a9aeb5"/><circle cx="1121.1" cy="612.1" r="1.5" fill="#a9aeb5"/><circle cx="1085.9" cy="565.2" r="1.0" fill="#a9aeb5"/><circle cx="1092.5" cy="572.6" r="1.0" fill="#8c9198"/><circle cx="1108.5" cy="606.5" r="1.4" fill="#8c9198"/><circle cx="1085.5" cy="578.7" r="1.5" fill="#f6f8f9"/><circle cx="1128.0" cy="655.5" r="0.7" fill="#8c9198"/><circle cx="1097.6" cy="585.6" r="0.6" fill="#8c9198"/><circle cx="1125.8" cy="659.3" r="0.7" fill="#8c9198"/><circle cx="1106.9" cy="612.1" r="0.9" fill="#dfe3e6"/><circle cx="1116.1" cy="620.0" r="1.2" fill="#f6f8f9"/><circle cx="1093.2" cy="585.6" r="1.6" fill="#a9aeb5"/><circle cx="1103.2" cy="617.3" r="1.0" fill="#dfe3e6"/><circle cx="1085.1" cy="559.4" r="1.7" fill="#a9aeb5"/><circle cx="1092.0" cy="556.2" r="1.8" fill="#a9aeb5"/><circle cx="1120.2" cy="617.6" r="0.9" fill="#a9aeb5"/><circle cx="1096.7" cy="557.4" r="1.7" fill="#a9aeb5"/><circle cx="1099.4" cy="595.4" r="1.2" fill="#a9aeb5"/><circle cx="1087.2" cy="603.0" r="1.0" fill="#f6f8f9"/><circle cx="1095.6" cy="580.2" r="1.6" fill="#a9aeb5"/><circle cx="1122.7" cy="654.5" r="0.8" fill="#f6f8f9"/><circle cx="1096.5" cy="592.3" r="1.7" fill="#a9aeb5"/><circle cx="1128.7" cy="649.9" r="1.9" fill="#8c9198"/><circle cx="1106.0" cy="610.5" r="1.7" fill="#a9aeb5"/><circle cx="1084.3" cy="545.6" r="1.5" fill="#8c9198"/><circle cx="1080.5" cy="570.0" r="1.0" fill="#dfe3e6"/><circle cx="1096.6" cy="588.9" r="1.1" fill="#8c9198"/><circle cx="1117.2" cy="616.7" r="1.5" fill="#8c9198"/><circle cx="1118.0" cy="653.0" r="0.7" fill="#f6f8f9"/><circle cx="1136.4" cy="639.2" r="2.0" fill="#8c9198"/><circle cx="1130.5" cy="646.8" r="1.3" fill="#8c9198"/><circle cx="1101.4" cy="613.0" r="1.0" fill="#dfe3e6"/><circle cx="1115.4" cy="655.0" r="0.8" fill="#f6f8f9"/><circle cx="1086.1" cy="574.1" r="0.7" fill="#f6f8f9"/><circle cx="1097.9" cy="604.7" r="1.4" fill="#dfe3e6"/><circle cx="1085.9" cy="595.9" r="2.0" fill="#dfe3e6"/><circle cx="1091.8" cy="616.2" r="1.1" fill="#f6f8f9"/><circle cx="1072.0" cy="540.2" r="1.9" fill="#a9aeb5"/><circle cx="1091.4" cy="597.5" r="1.5" fill="#dfe3e6"/><circle cx="1122.0" cy="640.9" r="0.9" fill="#f6f8f9"/><circle cx="1124.6" cy="621.4" r="2.0" fill="#8c9198"/><circle cx="1112.0" cy="593.3" r="2.0" fill="#a9aeb5"/><circle cx="1098.6" cy="608.5" r="1.3" fill="#f6f8f9"/><circle cx="1102.8" cy="607.0" r="1.2" fill="#8c9198"/><circle cx="1099.1" cy="599.5" r="1.9" fill="#a9aeb5"/><circle cx="1090.1" cy="572.0" r="1.9" fill="#a9aeb5"/><circle cx="1124.1" cy="657.3" r="1.1" fill="#8c9198"/><circle cx="1113.1" cy="607.6" r="2.0" fill="#a9aeb5"/><circle cx="1086.5" cy="548.2" r="1.1" fill="#a9aeb5"/><circle cx="1089.8" cy="587.4" r="2.0" fill="#dfe3e6"/><circle cx="1055.8" cy="550.7" r="0.7" fill="#f6f8f9"/><circle cx="1096.8" cy="591.4" r="1.6" fill="#a9aeb5"/><circle cx="1088.4" cy="562.8" r="1.2" fill="#8c9198"/><circle cx="1107.2" cy="605.8" r="0.7" fill="#a9aeb5"/><circle cx="1093.4" cy="591.9" r="0.7" fill="#8c9198"/><circle cx="1066.4" cy="546.4" r="0.9" fill="#8c9198"/><circle cx="1120.9" cy="628.4" r="1.5" fill="#f6f8f9"/><circle cx="1077.4" cy="559.6" r="1.7" fill="#f6f8f9"/><circle cx="1093.5" cy="590.6" r="1.2" fill="#8c9198"/><circle cx="1093.7" cy="588.2" r="1.6" fill="#a9aeb5"/><circle cx="1074.7" cy="551.0" r="1.4" fill="#8c9198"/><circle cx="1073.5" cy="541.8" r="1.9" fill="#8c9198"/><circle cx="1074.7" cy="567.7" r="1.9" fill="#dfe3e6"/><circle cx="1130.2" cy="641.8" r="1.6" fill="#8c9198"/><circle cx="1092.1" cy="583.2" r="1.8" fill="#8c9198"/><circle cx="1105.5" cy="611.3" r="1.3" fill="#f6f8f9"/><circle cx="1083.4" cy="578.3" r="1.4" fill="#f6f8f9"/><circle cx="1075.9" cy="547.6" r="1.1" fill="#a9aeb5"/><circle cx="1094.7" cy="595.4" r="1.2" fill="#8c9198"/><circle cx="1129.2" cy="641.3" r="0.8" fill="#a9aeb5"/><circle cx="1124.1" cy="648.4" r="1.4" fill="#dfe3e6"/><circle cx="1105.4" cy="602.8" r="1.8" fill="#8c9198"/><circle cx="1103.2" cy="603.9" r="1.6" fill="#8c9198"/><circle cx="1099.9" cy="605.4" r="1.6" fill="#a9aeb5"/><circle cx="1120.8" cy="639.3" r="2.0" fill="#f6f8f9"/><circle cx="1090.8" cy="578.1" r="1.9" fill="#a9aeb5"/><circle cx="1087.6" cy="579.5" r="1.2" fill="#f6f8f9"/><circle cx="1118.2" cy="615.5" r="2.0" fill="#a9aeb5"/><circle cx="1133.3" cy="630.3" r="1.6" fill="#8c9198"/><circle cx="1107.1" cy="607.6" r="1.2" fill="#a9aeb5"/><circle cx="1092.8" cy="593.6" r="1.2" fill="#a9aeb5"/><circle cx="1072.9" cy="561.2" r="1.2" fill="#f6f8f9"/><circle cx="1064.9" cy="545.3" r="1.9" fill="#8c9198"/><circle cx="1092.7" cy="589.2" r="1.8" fill="#8c9198"/><circle cx="1126.4" cy="609.9" r="1.3" fill="#a9aeb5"/><circle cx="1119.1" cy="649.6" r="1.3" fill="#f6f8f9"/><circle cx="1089.3" cy="602.9" r="1.6" fill="#dfe3e6"/><circle cx="1119.1" cy="662.9" r="2.0" fill="#f6f8f9"/><circle cx="1077.1" cy="557.1" r="0.6" fill="#f6f8f9"/><circle cx="1087.0" cy="607.9" r="0.7" fill="#dfe3e6"/><circle cx="1101.6" cy="609.5" r="0.9" fill="#dfe3e6"/><circle cx="1061.0" cy="547.8" r="1.4" fill="#dfe3e6"/><circle cx="1071.6" cy="557.6" r="0.7" fill="#f6f8f9"/><circle cx="1090.0" cy="600.4" r="0.8" fill="#f6f8f9"/><circle cx="1122.8" cy="619.5" r="1.7" fill="#8c9198"/><circle cx="1114.6" cy="654.0" r="1.0" fill="#f6f8f9"/><circle cx="1079.5" cy="566.5" r="0.9" fill="#dfe3e6"/><circle cx="1100.5" cy="594.6" r="1.2" fill="#8c9198"/><circle cx="1079.6" cy="587.7" r="0.8" fill="#f6f8f9"/><circle cx="1089.9" cy="548.5" r="1.6" fill="#8c9198"/><circle cx="1088.6" cy="558.5" r="1.0" fill="#8c9198"/><circle cx="1077.4" cy="562.8" r="0.9" fill="#f6f8f9"/><circle cx="1067.0" cy="547.3" r="0.9" fill="#8c9198"/><circle cx="1122.0" cy="616.1" r="0.7" fill="#8c9198"/><circle cx="1059.0" cy="550.6" r="1.7" fill="#f6f8f9"/><circle cx="1127.1" cy="644.0" r="1.4" fill="#f6f8f9"/><circle cx="1120.0" cy="656.2" r="1.4" fill="#dfe3e6"/><circle cx="1103.7" cy="589.1" r="2.0" fill="#8c9198"/><circle cx="1107.1" cy="620.6" r="1.9" fill="#f6f8f9"/><circle cx="1081.3" cy="579.7" r="1.9" fill="#f6f8f9"/><circle cx="1125.3" cy="632.7" r="1.6" fill="#dfe3e6"/><circle cx="1080.5" cy="589.3" r="2.0" fill="#dfe3e6"/><circle cx="1069.9" cy="562.2" r="1.4" fill="#f6f8f9"/><circle cx="1103.1" cy="609.3" r="1.9" fill="#8c9198"/><circle cx="1096.9" cy="593.1" r="1.9" fill="#8c9198"/><circle cx="1098.4" cy="608.6" r="1.9" fill="#f6f8f9"/><circle cx="1104.1" cy="579.1" r="1.4" fill="#8c9198"/><circle cx="1087.9" cy="575.6" r="0.9" fill="#f6f8f9"/><circle cx="1093.7" cy="581.4" r="1.6" fill="#a9aeb5"/><circle cx="1097.6" cy="597.9" r="2.0" fill="#8c9198"/><circle cx="1089.0" cy="574.4" r="1.4" fill="#dfe3e6"/><circle cx="1090.9" cy="595.7" r="1.8" fill="#f6f8f9"/><circle cx="1122.5" cy="660.5" r="1.9" fill="#a9aeb5"/><circle cx="1088.3" cy="592.5" r="0.8" fill="#f6f8f9"/><circle cx="1134.3" cy="636.7" r="1.5" fill="#8c9198"/><circle cx="1124.4" cy="660.0" r="1.4" fill="#8c9198"/><circle cx="1108.6" cy="610.3" r="1.9" fill="#a9aeb5"/><circle cx="1086.7" cy="580.1" r="1.2" fill="#f6f8f9"/><circle cx="1126.1" cy="643.8" r="1.7" fill="#dfe3e6"/><circle cx="1105.7" cy="593.5" r="2.0" fill="#8c9198"/><circle cx="1088.6" cy="582.9" r="1.4" fill="#dfe3e6"/><circle cx="1071.0" cy="543.6" r="1.5" fill="#a9aeb5"/><circle cx="1120.5" cy="662.5" r="1.6" fill="#f6f8f9"/><circle cx="1099.6" cy="599.4" r="1.9" fill="#8c9198"/><circle cx="1079.6" cy="557.0" r="1.4" fill="#f6f8f9"/><circle cx="1084.0" cy="568.6" r="1.8" fill="#f6f8f9"/><circle cx="1073.7" cy="551.3" r="0.9" fill="#a9aeb5"/><circle cx="1100.8" cy="598.2" r="1.5" fill="#8c9198"/><circle cx="1092.9" cy="605.7" r="0.8" fill="#f6f8f9"/><circle cx="1077.7" cy="559.2" r="1.5" fill="#dfe3e6"/><circle cx="1095.7" cy="579.9" r="0.9" fill="#8c9198"/><circle cx="1061.4" cy="550.1" r="1.2" fill="#f6f8f9"/><circle cx="1088.1" cy="595.4" r="1.7" fill="#dfe3e6"/><circle cx="1129.5" cy="646.2" r="1.8" fill="#8c9198"/><circle cx="1097.3" cy="592.0" r="1.9" fill="#8c9198"/><circle cx="1082.9" cy="548.6" r="1.0" fill="#a9aeb5"/><circle cx="1122.9" cy="638.8" r="0.7" fill="#f6f8f9"/><circle cx="1112.5" cy="607.1" r="1.9" fill="#a9aeb5"/><circle cx="1098.7" cy="590.8" r="1.8" fill="#a9aeb5"/><circle cx="1133.8" cy="643.0" r="0.7" fill="#8c9198"/><circle cx="1068.9" cy="548.7" r="1.0" fill="#a9aeb5"/><circle cx="1086.2" cy="598.4" r="2.0" fill="#f6f8f9"/><circle cx="1068.6" cy="547.8" r="0.7" fill="#8c9198"/><circle cx="1111.0" cy="617.1" r="1.5" fill="#f6f8f9"/><circle cx="1127.5" cy="642.8" r="1.0" fill="#f6f8f9"/><circle cx="1073.3" cy="558.5" r="1.0" fill="#f6f8f9"/><circle cx="1097.7" cy="600.4" r="0.9" fill="#a9aeb5"/><circle cx="1096.6" cy="577.7" r="1.6" fill="#a9aeb5"/><circle cx="1122.6" cy="632.6" r="1.2" fill="#f6f8f9"/><circle cx="1111.8" cy="640.1" r="1.2" fill="#f6f8f9"/><circle cx="1068.4" cy="557.3" r="1.8" fill="#f6f8f9"/><circle cx="1109.7" cy="616.4" r="1.1" fill="#dfe3e6"/><circle cx="1096.4" cy="599.2" r="0.8" fill="#8c9198"/><circle cx="1088.6" cy="553.7" r="1.8" fill="#a9aeb5"/><circle cx="1096.4" cy="606.5" r="0.9" fill="#f6f8f9"/><circle cx="1112.5" cy="608.1" r="0.8" fill="#8c9198"/><circle cx="1079.1" cy="548.4" r="1.8" fill="#a9aeb5"/><circle cx="1129.9" cy="615.2" r="1.2" fill="#8c9198"/><circle cx="1064.7" cy="545.7" r="0.7" fill="#8c9198"/><circle cx="1130.3" cy="632.6" r="2.0" fill="#8c9198"/><circle cx="1131.0" cy="624.5" r="1.1" fill="#a9aeb5"/><circle cx="1107.2" cy="604.3" r="1.8" fill="#8c9198"/><circle cx="1084.4" cy="562.6" r="1.8" fill="#a9aeb5"/><circle cx="1120.8" cy="652.5" r="1.1" fill="#f6f8f9"/><circle cx="1076.6" cy="564.7" r="0.8" fill="#dfe3e6"/><circle cx="1111.4" cy="606.5" r="1.0" fill="#a9aeb5"/><circle cx="1133.0" cy="639.8" r="1.3" fill="#a9aeb5"/><circle cx="1091.1" cy="591.5" r="1.9" fill="#dfe3e6"/><circle cx="1129.2" cy="642.0" r="1.4" fill="#a9aeb5"/><circle cx="1121.0" cy="650.7" r="1.1" fill="#dfe3e6"/><circle cx="1090.9" cy="600.8" r="2.0" fill="#f6f8f9"/><circle cx="1108.1" cy="613.4" r="1.5" fill="#f6f8f9"/><circle cx="1087.7" cy="560.4" r="1.0" fill="#8c9198"/><circle cx="1108.6" cy="610.3" r="1.0" fill="#a9aeb5"/><circle cx="1081.5" cy="569.2" r="0.7" fill="#dfe3e6"/><circle cx="1117.7" cy="630.1" r="0.9" fill="#dfe3e6"/><circle cx="1122.9" cy="648.1" r="1.2" fill="#f6f8f9"/><circle cx="1118.0" cy="619.7" r="1.5" fill="#f6f8f9"/><circle cx="1126.7" cy="617.1" r="1.5" fill="#a9aeb5"/><circle cx="1120.5" cy="657.7" r="1.4" fill="#f6f8f9"/><circle cx="1116.2" cy="655.0" r="1.0" fill="#f6f8f9"/><circle cx="1094.0" cy="610.2" r="1.6" fill="#dfe3e6"/><circle cx="1114.8" cy="612.0" r="1.1" fill="#8c9198"/><circle cx="1119.9" cy="657.8" r="1.6" fill="#f6f8f9"/><circle cx="1068.3" cy="551.9" r="1.0" fill="#dfe3e6"/><circle cx="1094.3" cy="598.2" r="0.8" fill="#f6f8f9"/><circle cx="1079.9" cy="562.6" r="1.4" fill="#f6f8f9"/><circle cx="1075.4" cy="568.7" r="1.2" fill="#f6f8f9"/><circle cx="1135.3" cy="632.8" r="1.0" fill="#a9aeb5"/><circle cx="1074.8" cy="566.5" r="1.2" fill="#dfe3e6"/><circle cx="1094.9" cy="544.8" r="1.7" fill="#8c9198"/><circle cx="1091.0" cy="547.0" r="1.5" fill="#8c9198"/><circle cx="1108.5" cy="611.6" r="1.3" fill="#a9aeb5"/><circle cx="1072.7" cy="551.3" r="1.4" fill="#a9aeb5"/><circle cx="1065.3" cy="547.8" r="0.8" fill="#f6f8f9"/><circle cx="1093.2" cy="575.6" r="1.3" fill="#8c9198"/><circle cx="1131.7" cy="635.3" r="1.3" fill="#a9aeb5"/><circle cx="1069.9" cy="553.8" r="1.4" fill="#dfe3e6"/><circle cx="1127.3" cy="640.7" r="1.7" fill="#f6f8f9"/><circle cx="1118.9" cy="632.7" r="1.2" fill="#f6f8f9"/><circle cx="1087.2" cy="568.3" r="1.5" fill="#8c9198"/><circle cx="1088.9" cy="557.2" r="1.5" fill="#8c9198"/><circle cx="1090.6" cy="592.8" r="1.4" fill="#f6f8f9"/><circle cx="1128.7" cy="647.2" r="1.3" fill="#8c9198"/><circle cx="1095.9" cy="605.1" r="1.9" fill="#dfe3e6"/><circle cx="1108.2" cy="614.0" r="2.0" fill="#f6f8f9"/><circle cx="1097.7" cy="589.3" r="1.7" fill="#8c9198"/><circle cx="1126.5" cy="631.4" r="1.4" fill="#8c9198"/><circle cx="1064.4" cy="547.5" r="0.9" fill="#f6f8f9"/><circle cx="1119.5" cy="621.4" r="1.8" fill="#f6f8f9"/><circle cx="1075.7" cy="556.8" r="1.8" fill="#f6f8f9"/><circle cx="1086.5" cy="596.9" r="1.4" fill="#dfe3e6"/><circle cx="1103.5" cy="622.5" r="1.6" fill="#dfe3e6"/><circle cx="1120.1" cy="629.0" r="1.6" fill="#f6f8f9"/><circle cx="1084.9" cy="594.4" r="1.3" fill="#f6f8f9"/><circle cx="1129.8" cy="633.8" r="1.7" fill="#8c9198"/><circle cx="1071.8" cy="555.8" r="0.7" fill="#f6f8f9"/><circle cx="1077.3" cy="565.9" r="1.0" fill="#dfe3e6"/><circle cx="1129.6" cy="646.6" r="1.9" fill="#8c9198"/><circle cx="1077.9" cy="548.6" r="1.7" fill="#8c9198"/><circle cx="1071.4" cy="556.8" r="1.2" fill="#dfe3e6"/><circle cx="1082.5" cy="590.8" r="0.7" fill="#dfe3e6"/><circle cx="1055.4" cy="549.3" r="0.7" fill="#f6f8f9"/><circle cx="1076.6" cy="539.7" r="0.8" fill="#a9aeb5"/><circle cx="1068.6" cy="549.6" r="1.6" fill="#f6f8f9"/><circle cx="1119.7" cy="631.3" r="1.4" fill="#f6f8f9"/><circle cx="1086.2" cy="580.9" r="1.1" fill="#dfe3e6"/><circle cx="1125.0" cy="643.0" r="2.0" fill="#f6f8f9"/><circle cx="1099.4" cy="600.8" r="1.5" fill="#8c9198"/><circle cx="1066.0" cy="555.4" r="0.9" fill="#dfe3e6"/><circle cx="1096.3" cy="589.5" r="0.7" fill="#8c9198"/><circle cx="1088.3" cy="579.9" r="1.2" fill="#dfe3e6"/><circle cx="1137.4" cy="628.5" r="1.4" fill="#8c9198"/><circle cx="1073.1" cy="557.0" r="1.1" fill="#f6f8f9"/><circle cx="1080.4" cy="558.3" r="1.2" fill="#dfe3e6"/><circle cx="1088.9" cy="552.0" r="1.2" fill="#8c9198"/><circle cx="1124.4" cy="639.9" r="1.8" fill="#f6f8f9"/><circle cx="1117.9" cy="664.4" r="1.0" fill="#dfe3e6"/><circle cx="1106.3" cy="600.8" r="1.9" fill="#a9aeb5"/><circle cx="1085.9" cy="557.8" r="1.2" fill="#a9aeb5"/><circle cx="1119.6" cy="652.8" r="1.8" fill="#f6f8f9"/><circle cx="1095.0" cy="598.6" r="1.7" fill="#a9aeb5"/><circle cx="1084.7" cy="559.0" r="1.3" fill="#8c9198"/><circle cx="1076.5" cy="563.0" r="1.3" fill="#dfe3e6"/><circle cx="1125.7" cy="658.2" r="0.8" fill="#a9aeb5"/><circle cx="1104.8" cy="612.4" r="1.1" fill="#f6f8f9"/><circle cx="1096.6" cy="581.3" r="1.0" fill="#a9aeb5"/><circle cx="1093.1" cy="574.7" r="1.5" fill="#8c9198"/><circle cx="1106.3" cy="607.8" r="2.0" fill="#8c9198"/><circle cx="1083.9" cy="590.5" r="0.8" fill="#f6f8f9"/><circle cx="1111.1" cy="595.3" r="1.2" fill="#a9aeb5"/><circle cx="1097.7" cy="586.9" r="0.8" fill="#8c9198"/><circle cx="1129.0" cy="635.2" r="1.9" fill="#8c9198"/><circle cx="1107.3" cy="615.4" r="1.0" fill="#dfe3e6"/><circle cx="1088.7" cy="587.0" r="0.7" fill="#f6f8f9"/><circle cx="1121.3" cy="653.4" r="1.7" fill="#f6f8f9"/><circle cx="1134.6" cy="640.6" r="0.7" fill="#a9aeb5"/><circle cx="1092.2" cy="611.6" r="1.4" fill="#f6f8f9"/><circle cx="1095.4" cy="595.0" r="1.1" fill="#8c9198"/><circle cx="1082.7" cy="577.0" r="0.9" fill="#f6f8f9"/><circle cx="1093.9" cy="591.0" r="1.4" fill="#a9aeb5"/><circle cx="1098.1" cy="591.5" r="1.4" fill="#a9aeb5"/><circle cx="1113.8" cy="606.2" r="1.9" fill="#8c9198"/><circle cx="1116.2" cy="604.4" r="0.8" fill="#8c9198"/><circle cx="1080.7" cy="566.2" r="0.7" fill="#f6f8f9"/><circle cx="1088.9" cy="597.4" r="0.8" fill="#f6f8f9"/><circle cx="1107.4" cy="628.7" r="0.9" fill="#f6f8f9"/><circle cx="1129.8" cy="633.0" r="0.9" fill="#a9aeb5"/><circle cx="1122.0" cy="656.3" r="0.8" fill="#dfe3e6"/><circle cx="1122.1" cy="657.2" r="1.4" fill="#f6f8f9"/><circle cx="1103.3" cy="610.7" r="0.7" fill="#f6f8f9"/><circle cx="1124.9" cy="628.2" r="0.6" fill="#a9aeb5"/><circle cx="1075.8" cy="558.4" r="1.6" fill="#dfe3e6"/><circle cx="1099.5" cy="589.3" r="1.2" fill="#a9aeb5"/><circle cx="1120.8" cy="627.1" r="1.6" fill="#dfe3e6"/><circle cx="1089.5" cy="604.4" r="1.5" fill="#f6f8f9"/><circle cx="1134.9" cy="624.5" r="1.1" fill="#a9aeb5"/><circle cx="1081.7" cy="573.5" r="1.6" fill="#dfe3e6"/><circle cx="1099.6" cy="587.8" r="1.4" fill="#8c9198"/><circle cx="1125.8" cy="650.8" r="1.8" fill="#8c9198"/><circle cx="1088.2" cy="594.6" r="1.9" fill="#f6f8f9"/><circle cx="1072.4" cy="556.6" r="1.1" fill="#dfe3e6"/><circle cx="1093.2" cy="576.3" r="1.8" fill="#8c9198"/><circle cx="1074.2" cy="553.2" r="1.9" fill="#dfe3e6"/><circle cx="1069.2" cy="544.8" r="0.8" fill="#a9aeb5"/><circle cx="1130.3" cy="630.4" r="1.6" fill="#a9aeb5"/><circle cx="1083.2" cy="591.7" r="1.6" fill="#f6f8f9"/><circle cx="1052.9" cy="538.4" r="1.5" fill="#8c9198"/><circle cx="1057.5" cy="577.5" r="0.5" fill="#8c9198"/><circle cx="1037.7" cy="547.2" r="0.9" fill="#f6f8f9"/><circle cx="1056.7" cy="576.1" r="0.6" fill="#f6f8f9"/><circle cx="1047.7" cy="564.2" r="1.2" fill="#8c9198"/><circle cx="1063.5" cy="577.3" r="1.0" fill="#8c9198"/><circle cx="1038.2" cy="552.0" r="1.4" fill="#f6f8f9"/><circle cx="1040.5" cy="544.6" r="1.5" fill="#f6f8f9"/><circle cx="1050.8" cy="538.7" r="1.2" fill="#8c9198"/><circle cx="1038.4" cy="548.1" r="0.5" fill="#8c9198"/><circle cx="1048.3" cy="543.5" r="0.9" fill="#8c9198"/><circle cx="1068.3" cy="570.4" r="1.6" fill="#f6f8f9"/><circle cx="1069.6" cy="576.7" r="1.1" fill="#f6f8f9"/><circle cx="1078.5" cy="574.4" r="0.8" fill="#8c9198"/><circle cx="1056.7" cy="574.7" r="1.3" fill="#f6f8f9"/><circle cx="1041.8" cy="554.5" r="0.8" fill="#8c9198"/><circle cx="1075.1" cy="563.5" r="0.6" fill="#8c9198"/><circle cx="1066.8" cy="579.4" r="0.6" fill="#f6f8f9"/><circle cx="1071.1" cy="580.3" r="0.8" fill="#8c9198"/><circle cx="1045.4" cy="554.0" r="1.2" fill="#8c9198"/><circle cx="1073.5" cy="574.1" r="0.9" fill="#8c9198"/><circle cx="1060.9" cy="579.5" r="0.7" fill="#8c9198"/><circle cx="1045.3" cy="556.4" r="1.4" fill="#8c9198"/><circle cx="1048.4" cy="537.0" r="1.4" fill="#8c9198"/><circle cx="1075.2" cy="563.7" r="1.2" fill="#8c9198"/><circle cx="1050.9" cy="538.8" r="1.3" fill="#8c9198"/><circle cx="1038.0" cy="545.6" r="1.1" fill="#8c9198"/><circle cx="1049.9" cy="537.9" r="0.5" fill="#f6f8f9"/><circle cx="1051.6" cy="570.7" r="0.8" fill="#f6f8f9"/><circle cx="1043.0" cy="555.2" r="1.3" fill="#8c9198"/><circle cx="1050.2" cy="540.7" r="1.2" fill="#f6f8f9"/><circle cx="1057.2" cy="542.0" r="0.9" fill="#f6f8f9"/><circle cx="1051.5" cy="571.5" r="1.4" fill="#8c9198"/><circle cx="1069.7" cy="578.7" r="0.8" fill="#f6f8f9"/><circle cx="1046.9" cy="545.1" r="1.0" fill="#8c9198"/><circle cx="1069.7" cy="565.2" r="1.6" fill="#f6f8f9"/><circle cx="1072.4" cy="560.4" r="0.8" fill="#8c9198"/><circle cx="1040.4" cy="546.5" r="1.3" fill="#8c9198"/><circle cx="1063.7" cy="581.2" r="0.9" fill="#8c9198"/><circle cx="1041.2" cy="558.9" r="0.6" fill="#f6f8f9"/><circle cx="1061.2" cy="581.1" r="0.6" fill="#8c9198"/><circle cx="1073.2" cy="563.4" r="0.9" fill="#8c9198"/><circle cx="1057.3" cy="577.3" r="1.3" fill="#8c9198"/><circle cx="1064.4" cy="584.2" r="1.0" fill="#8c9198"/><circle cx="1063.2" cy="580.7" r="0.8" fill="#8c9198"/><circle cx="1073.6" cy="556.8" r="1.3" fill="#8c9198"/><circle cx="1057.2" cy="574.8" r="1.5" fill="#f6f8f9"/><circle cx="1055.6" cy="542.8" r="0.6" fill="#8c9198"/><circle cx="1055.9" cy="542.5" r="1.2" fill="#8c9198"/><circle cx="1049.0" cy="569.0" r="0.9" fill="#8c9198"/><circle cx="1051.2" cy="571.2" r="0.7" fill="#8c9198"/><circle cx="1040.0" cy="549.9" r="1.0" fill="#8c9198"/><circle cx="1059.4" cy="543.4" r="1.2" fill="#f6f8f9"/><circle cx="1056.9" cy="543.5" r="0.8" fill="#8c9198"/><circle cx="1069.7" cy="574.5" r="1.3" fill="#f6f8f9"/><circle cx="1071.9" cy="559.5" r="1.2" fill="#8c9198"/><circle cx="1047.5" cy="542.1" r="0.5" fill="#8c9198"/><circle cx="1046.5" cy="552.0" r="1.5" fill="#8c9198"/><circle cx="1061.1" cy="545.0" r="1.4" fill="#8c9198"/><circle cx="1039.4" cy="543.7" r="0.6" fill="#8c9198"/><circle cx="1038.2" cy="548.7" r="0.5" fill="#8c9198"/><circle cx="1042.6" cy="559.1" r="1.3" fill="#f6f8f9"/><circle cx="1069.2" cy="585.1" r="1.2" fill="#8c9198"/><circle cx="1047.2" cy="565.7" r="0.8" fill="#8c9198"/><circle cx="1056.6" cy="576.6" r="1.1" fill="#8c9198"/><circle cx="1066.5" cy="582.7" r="0.6" fill="#8c9198"/><circle cx="1072.9" cy="578.5" r="1.1" fill="#8c9198"/><circle cx="1069.5" cy="582.0" r="0.7" fill="#8c9198"/><circle cx="1045.9" cy="541.0" r="1.3" fill="#f6f8f9"/><circle cx="1042.4" cy="558.6" r="0.6" fill="#f6f8f9"/><circle cx="1041.2" cy="553.2" r="1.6" fill="#8c9198"/><circle cx="1074.5" cy="584.4" r="1.3" fill="#8c9198"/><circle cx="1034.1" cy="544.5" r="1.3" fill="#8c9198"/><circle cx="1069.8" cy="565.5" r="1.1" fill="#8c9198"/><circle cx="1049.0" cy="569.0" r="1.5" fill="#f6f8f9"/><circle cx="1045.7" cy="565.7" r="0.6" fill="#8c9198"/><circle cx="1050.7" cy="538.5" r="0.9" fill="#f6f8f9"/><circle cx="1053.1" cy="573.1" r="1.2" fill="#f6f8f9"/><circle cx="1069.2" cy="554.1" r="0.8" fill="#8c9198"/><circle cx="1046.0" cy="564.9" r="1.3" fill="#8c9198"/><circle cx="1053.0" cy="573.0" r="1.3" fill="#8c9198"/><circle cx="1038.1" cy="550.8" r="0.6" fill="#8c9198"/><circle cx="1068.8" cy="576.5" r="1.6" fill="#8c9198"/><circle cx="1058.7" cy="578.7" r="1.4" fill="#8c9198"/><circle cx="1073.9" cy="566.0" r="0.6" fill="#8c9198"/><circle cx="1066.0" cy="579.1" r="1.0" fill="#f6f8f9"/><circle cx="1035.1" cy="539.4" r="0.7" fill="#f6f8f9"/><circle cx="1056.5" cy="576.5" r="1.4" fill="#8c9198"/><circle cx="1070.6" cy="583.9" r="1.5" fill="#8c9198"/><circle cx="1063.5" cy="548.6" r="1.3" fill="#8c9198"/><circle cx="1063.5" cy="578.5" r="1.1" fill="#f6f8f9"/><circle cx="1045.2" cy="565.2" r="1.4" fill="#f6f8f9"/><circle cx="1054.2" cy="540.4" r="1.5" fill="#f6f8f9"/><circle cx="1060.1" cy="577.2" r="0.9" fill="#f6f8f9"/><circle cx="1073.0" cy="563.3" r="0.8" fill="#8c9198"/><circle cx="1038.9" cy="549.6" r="1.2" fill="#8c9198"/><circle cx="1071.9" cy="570.8" r="1.1" fill="#f6f8f9"/><circle cx="1038.7" cy="543.7" r="1.5" fill="#f6f8f9"/><circle cx="1071.1" cy="571.9" r="1.4" fill="#8c9198"/><circle cx="1068.2" cy="579.1" r="1.6" fill="#f6f8f9"/><circle cx="1051.9" cy="538.9" r="0.9" fill="#8c9198"/><circle cx="1070.8" cy="560.7" r="1.4" fill="#f6f8f9"/><circle cx="1073.7" cy="565.0" r="0.8" fill="#8c9198"/><circle cx="1058.2" cy="575.0" r="1.5" fill="#f6f8f9"/><circle cx="1071.8" cy="586.0" r="1.2" fill="#8c9198"/><circle cx="1056.3" cy="541.1" r="0.7" fill="#8c9198"/><circle cx="1041.3" cy="551.2" r="1.5" fill="#8c9198"/><circle cx="1059.4" cy="546.5" r="1.4" fill="#8c9198"/><circle cx="1040.4" cy="555.7" r="0.9" fill="#8c9198"/><circle cx="1043.8" cy="561.3" r="0.6" fill="#f6f8f9"/><circle cx="1046.0" cy="566.0" r="1.0" fill="#8c9198"/><circle cx="1055.8" cy="575.8" r="1.4" fill="#f6f8f9"/><circle cx="1045.1" cy="540.0" r="0.9" fill="#8c9198"/><circle cx="1037.0" cy="545.3" r="0.7" fill="#8c9198"/><circle cx="1071.6" cy="583.0" r="0.7" fill="#8c9198"/><circle cx="1044.7" cy="555.0" r="1.3" fill="#8c9198"/><circle cx="1046.0" cy="559.5" r="1.2" fill="#8c9198"/><circle cx="1073.1" cy="578.5" r="1.0" fill="#8c9198"/><circle cx="1050.3" cy="570.3" r="1.5" fill="#8c9198"/><circle cx="1070.0" cy="561.3" r="1.4" fill="#f6f8f9"/><circle cx="1042.7" cy="562.7" r="1.2" fill="#8c9198"/><circle cx="1064.0" cy="546.7" r="0.8" fill="#8c9198"/><circle cx="1046.6" cy="566.6" r="0.6" fill="#8c9198"/><circle cx="1052.5" cy="540.2" r="1.2" fill="#8c9198"/><circle cx="1053.4" cy="540.0" r="1.6" fill="#8c9198"/><circle cx="1072.3" cy="567.4" r="0.9" fill="#8c9198"/><circle cx="1038.6" cy="547.9" r="1.3" fill="#f6f8f9"/><circle cx="1061.0" cy="545.5" r="1.3" fill="#8c9198"/><circle cx="1049.4" cy="569.4" r="1.1" fill="#8c9198"/><circle cx="1055.7" cy="542.1" r="0.6" fill="#f6f8f9"/><circle cx="1046.0" cy="563.0" r="1.3" fill="#8c9198"/><circle cx="1059.1" cy="578.4" r="0.9" fill="#8c9198"/><circle cx="1061.7" cy="576.0" r="1.1" fill="#8c9198"/><circle cx="1073.9" cy="561.8" r="1.4" fill="#8c9198"/><circle cx="1069.7" cy="552.8" r="1.6" fill="#8c9198"/><circle cx="1062.7" cy="578.7" r="1.0" fill="#8c9198"/><circle cx="1037.8" cy="539.8" r="1.3" fill="#8c9198"/><circle cx="1069.6" cy="577.1" r="0.8" fill="#8c9198"/><circle cx="1069.6" cy="559.2" r="1.0" fill="#f6f8f9"/><circle cx="1043.0" cy="549.6" r="1.2" fill="#8c9198"/><circle cx="1049.9" cy="569.9" r="1.6" fill="#8c9198"/><circle cx="1042.4" cy="557.7" r="0.9" fill="#f6f8f9"/><circle cx="1056.1" cy="576.1" r="0.9" fill="#8c9198"/><circle cx="1057.5" cy="575.5" r="0.9" fill="#f6f8f9"/><circle cx="1039.7" cy="554.7" r="1.3" fill="#f6f8f9"/><circle cx="1047.0" cy="537.2" r="0.8" fill="#8c9198"/><circle cx="1054.7" cy="574.7" r="1.5" fill="#8c9198"/><circle cx="1048.2" cy="568.1" r="1.2" fill="#8c9198"/><circle cx="1073.2" cy="581.5" r="0.9" fill="#8c9198"/><circle cx="1048.9" cy="568.6" r="0.9" fill="#8c9198"/><circle cx="1050.0" cy="570.0" r="0.5" fill="#8c9198"/><circle cx="1044.3" cy="558.5" r="0.8" fill="#8c9198"/><circle cx="1049.8" cy="535.4" r="0.6" fill="#f6f8f9"/><circle cx="1045.0" cy="563.7" r="0.9" fill="#f6f8f9"/><circle cx="1041.3" cy="557.2" r="1.1" fill="#f6f8f9"/><circle cx="1040.6" cy="537.7" r="1.3" fill="#8c9198"/><circle cx="1046.5" cy="566.5" r="0.9" fill="#f6f8f9"/><circle cx="1069.9" cy="575.9" r="1.0" fill="#8c9198"/><circle cx="1049.4" cy="569.4" r="1.2" fill="#f6f8f9"/><circle cx="1072.1" cy="580.0" r="0.5" fill="#8c9198"/><circle cx="1149.1" cy="632.0" r="1.4" fill="#8c9198"/><circle cx="1150.0" cy="632.3" r="1.1" fill="#555a61"/><circle cx="1145.3" cy="646.7" r="0.7" fill="#8c9198"/><circle cx="1143.6" cy="624.7" r="1.4" fill="#8c9198"/><circle cx="1131.7" cy="654.1" r="1.2" fill="#30333a"/><circle cx="1142.4" cy="646.5" r="1.3" fill="#555a61"/><circle cx="1120.5" cy="660.8" r="1.2" fill="#8c9198"/><circle cx="1151.2" cy="634.0" r="0.8" fill="#555a61"/><circle cx="1138.9" cy="640.3" r="1.3" fill="#30333a"/><circle cx="1108.3" cy="643.7" r="1.4" fill="#8c9198"/><circle cx="1113.3" cy="655.3" r="1.0" fill="#555a61"/><circle cx="1144.1" cy="646.4" r="0.7" fill="#555a61"/><circle cx="1133.8" cy="649.9" r="0.6" fill="#30333a"/><circle cx="1139.7" cy="655.8" r="1.0" fill="#8c9198"/><circle cx="1122.4" cy="663.9" r="1.0" fill="#555a61"/><circle cx="1115.8" cy="649.1" r="1.0" fill="#8c9198"/><circle cx="1140.7" cy="656.1" r="0.7" fill="#555a61"/><circle cx="1112.9" cy="653.0" r="1.2" fill="#8c9198"/><circle cx="1141.2" cy="652.1" r="1.1" fill="#555a61"/><circle cx="1125.1" cy="654.8" r="1.0" fill="#8c9198"/><circle cx="1151.4" cy="637.4" r="1.0" fill="#555a61"/><circle cx="1125.7" cy="652.6" r="1.5" fill="#8c9198"/><circle cx="1125.4" cy="661.1" r="0.7" fill="#8c9198"/><circle cx="1138.7" cy="648.7" r="1.1" fill="#30333a"/><circle cx="1147.6" cy="627.9" r="1.1" fill="#30333a"/><circle cx="1130.3" cy="659.8" r="1.0" fill="#8c9198"/><circle cx="1139.5" cy="641.5" r="1.2" fill="#30333a"/><circle cx="1132.2" cy="657.1" r="1.0" fill="#8c9198"/><circle cx="1126.6" cy="665.9" r="0.6" fill="#555a61"/><circle cx="1145.0" cy="652.9" r="1.2" fill="#555a61"/><circle cx="1148.3" cy="634.2" r="1.0" fill="#555a61"/><circle cx="1135.5" cy="645.9" r="0.6" fill="#8c9198"/><circle cx="1113.3" cy="654.0" r="1.0" fill="#8c9198"/><circle cx="1141.6" cy="641.4" r="0.7" fill="#8c9198"/><circle cx="1130.1" cy="659.7" r="1.3" fill="#555a61"/><circle cx="1136.5" cy="657.0" r="1.1" fill="#8c9198"/><circle cx="1145.8" cy="649.8" r="0.6" fill="#8c9198"/><circle cx="1141.1" cy="654.2" r="1.1" fill="#555a61"/><circle cx="1106.8" cy="639.0" r="1.4" fill="#30333a"/><circle cx="1140.5" cy="636.6" r="1.2" fill="#8c9198"/><circle cx="1143.9" cy="659.7" r="0.8" fill="#555a61"/><circle cx="1140.5" cy="638.2" r="0.5" fill="#30333a"/><circle cx="1113.2" cy="653.5" r="1.0" fill="#555a61"/><circle cx="1131.6" cy="655.4" r="1.2" fill="#8c9198"/><circle cx="1109.7" cy="646.2" r="1.4" fill="#8c9198"/><circle cx="1112.0" cy="651.9" r="0.8" fill="#8c9198"/><circle cx="1142.8" cy="642.3" r="0.7" fill="#30333a"/><circle cx="1129.6" cy="655.3" r="0.6" fill="#30333a"/><circle cx="1141.5" cy="646.8" r="0.9" fill="#30333a"/><circle cx="1135.1" cy="648.8" r="1.5" fill="#8c9198"/><circle cx="1121.5" cy="659.5" r="0.7" fill="#555a61"/><circle cx="1134.4" cy="650.8" r="0.7" fill="#8c9198"/><circle cx="1151.3" cy="651.3" r="1.4" fill="#555a61"/><circle cx="1140.0" cy="649.7" r="0.6" fill="#8c9198"/><circle cx="1132.0" cy="653.1" r="1.5" fill="#30333a"/><circle cx="1127.2" cy="659.1" r="0.7" fill="#555a61"/><circle cx="1112.1" cy="653.9" r="1.2" fill="#555a61"/><circle cx="1137.4" cy="657.3" r="0.9" fill="#8c9198"/><circle cx="1112.5" cy="654.3" r="1.3" fill="#8c9198"/><circle cx="1133.1" cy="666.6" r="1.0" fill="#8c9198"/><circle cx="1146.7" cy="639.7" r="0.7" fill="#8c9198"/><circle cx="1135.6" cy="657.7" r="0.9" fill="#8c9198"/><circle cx="1128.4" cy="656.5" r="1.1" fill="#8c9198"/><circle cx="1128.3" cy="650.8" r="0.8" fill="#30333a"/><circle cx="1135.5" cy="658.5" r="1.4" fill="#8c9198"/><circle cx="1123.6" cy="660.2" r="1.2" fill="#8c9198"/><circle cx="1134.3" cy="643.8" r="1.1" fill="#30333a"/><circle cx="1137.2" cy="657.6" r="0.7" fill="#8c9198"/><circle cx="1150.5" cy="637.0" r="0.9" fill="#555a61"/><circle cx="1131.3" cy="661.5" r="1.5" fill="#555a61"/><circle cx="1129.7" cy="656.1" r="0.5" fill="#8c9198"/><circle cx="1138.6" cy="649.1" r="1.0" fill="#30333a"/><circle cx="1146.9" cy="636.1" r="0.7" fill="#8c9198"/><circle cx="1121.2" cy="665.9" r="1.4" fill="#8c9198"/><circle cx="1134.4" cy="654.9" r="1.1" fill="#8c9198"/><circle cx="1135.5" cy="656.9" r="0.6" fill="#8c9198"/><circle cx="1135.6" cy="670.8" r="1.0" fill="#8c9198"/><circle cx="1124.8" cy="657.2" r="0.6" fill="#8c9198"/><circle cx="1122.8" cy="658.6" r="1.2" fill="#555a61"/><circle cx="1133.8" cy="658.7" r="1.3" fill="#555a61"/>
</g>
<use href="#moonshape" fill="none" stroke="#eef0f1" stroke-width="0.9"/>
<path d="M1029 711L1036 712.5C1030 725 1025 735 1022 743C1019 752 1018 760 1017 763L1010 794H990.5C996 780 1003 763 1009.6 748C1013 740 1016 734 1019.5 728Z" fill="#0a0a0b" stroke="#eef0f1" stroke-width="0.9"/>
<path d="M1098.4 642C1103 643 1104.5 647 1103.3 652C1101 662 1098 672 1096 681.4C1093 691 1089 700 1086 708.5C1084.5 713 1084 717 1083.6 721L1081 716C1076 722 1068 735 1060 750L1040 794H1012L1018 763C1020 750 1026 730 1036 713C1041 708 1045 704 1049 701C1056 695 1062 688 1066.3 681.4C1071 674 1075 667 1078.7 661.7C1084 653 1091 644 1098.4 642Z" fill="#a2a7ae" stroke="#eef0f1" stroke-width="0.9"/>
<path d="M1147.7 619.7C1151 619.5 1153 622 1152.7 626C1153.5 636 1155 646 1155 656.7C1153 664 1149 672 1144 681C1139 690 1132 701 1125.5 711L1123 706C1128 692 1132 676 1133 661.7C1134 651 1136 641 1137.9 632C1139.5 625 1143 620 1147.7 619.7Z" fill="#a2a7ae"/>
<path d="M1155 656.7C1153 664 1149 672 1144 681C1139 690 1132 701 1125.5 711" stroke="#0a0a0b" stroke-width="1.6" fill="none"/>
<path d="M1167.5 632C1171 634 1172.6 642 1172.4 649.3C1172 657 1171 664 1170 671.5C1162 690 1148 712 1133 728.3L1128 722C1140 705 1152 688 1158 668C1160 655 1162 642 1167.5 632Z" fill="#a2a7ae"/>
<path d="M1170 671.5C1162 690 1148 712 1133 728.3C1115 748 1090 772 1066.3 794" stroke="#0a0a0b" stroke-width="1.8" fill="none"/>
<path d="M1172 655C1168 680 1150 710 1128 738C1112 756 1092 776 1074 794" stroke="#3a3c40" stroke-width="0.9" fill="none"/>
<path d="M1172.4 640L1172.4 668" stroke="#d9dcdf" stroke-width="0.8" fill="none"/>
</g>
<defs><linearGradient id="strip" x1="0" y1="0" x2="0" y2="1"><stop offset="0" stop-color="#e14a2c"/><stop offset=".45" stop-color="#e14a2c"/><stop offset=".55" stop-color="#f07d22"/><stop offset=".75" stop-color="#f6a326"/><stop offset="1" stop-color="#f5c32d"/></linearGradient></defs><rect x="1421.4" y="116" width="1.5" height="410" fill="url(#strip)"/>
<line x1="61" y1="146.5" x2="260" y2="146.5" stroke="#2d3036" stroke-width="0.8" stroke-dasharray="3.3 2.7"/>
<line x1="674" y1="146.5" x2="873.6" y2="146.5" stroke="#2d3036" stroke-width="0.8" stroke-dasharray="3.3 2.7"/>
<line x1="1004" y1="146.5" x2="1203.6" y2="146.5" stroke="#2d3036" stroke-width="0.8" stroke-dasharray="3.3 2.7"/>
<line x1="58.7" y1="323.5" x2="260" y2="323.5" stroke="#2d3036" stroke-width="0.8" stroke-dasharray="3.3 2.7"/>
<line x1="348.7" y1="323.5" x2="549" y2="323.5" stroke="#2d3036" stroke-width="0.8" stroke-dasharray="3.3 2.7"/>
<line x1="58.5" y1="510.5" x2="258.4" y2="510.5" stroke="#2d3036" stroke-width="0.8" stroke-dasharray="3.3 2.7"/>
<line x1="351" y1="509.5" x2="550.8" y2="509.5" stroke="#2d3036" stroke-width="0.8" stroke-dasharray="3.3 2.7"/>
<line x1="118.4" y1="17.8" x2="118.4" y2="23.6" stroke="#1c1c1e" stroke-width="0.7"/>
<rect x="101.6" y="212" width="111.7" height="23.8" fill="#ee7d22"/>
<rect x="101.6" y="243" width="98.7" height="25" fill="#ee7d22"/>
<rect x="233.6" y="212" width="177.6" height="23.8" fill="#f5a72c"/>
<rect x="233.6" y="243" width="164.5" height="25" fill="#f5a72c"/>
<rect x="429.9" y="212" width="78.7" height="23.8" fill="#f4c430"/>
<rect x="429.9" y="243" width="94.9" height="25" fill="#f4c430"/>
<rect x="547" y="212" width="64.1" height="23.8" fill="#9db058"/>
<rect x="547" y="243" width="73.8" height="25" fill="#9db058"/>
<line x1="101.2" y1="211.8" x2="101.2" y2="291.4" stroke="#161616" stroke-width="1.3"/>
<line x1="233.2" y1="211.8" x2="233.2" y2="291.4" stroke="#161616" stroke-width="1.3"/>
<line x1="429.4" y1="211.8" x2="429.4" y2="291.4" stroke="#161616" stroke-width="1.3"/>
<line x1="546.5" y1="211.8" x2="546.5" y2="291.4" stroke="#161616" stroke-width="1.3"/>
<circle cx="160.4" cy="393.4" r="31.4" fill="#e04e30"/>
<circle cx="281.2" cy="461.8" r="25.8" fill="#e04e30"/>
<path d="M201.6 376H210.3V406.5H214.6L205.9 416L197.3 406.5H201.6Z" fill="#e04e30"/>
<circle cx="472" cy="393.7" r="31.3" fill="#f07f23"/>
<circle cx="566.9" cy="456.2" r="25.4" fill="#f07f23"/>
<path d="M516.2 374.4H524.4V404.8H528.7L520.2 414.3L511.5 404.8H516.2Z" fill="#f07f23"/>
<circle cx="82.1" cy="575.1" r="24.1" fill="#9db058"/>
<circle cx="143.6" cy="576.5" r="16" fill="#9db058"/>
<circle cx="223.6" cy="575.6" r="10.9" fill="#9db058"/>
<circle cx="281.2" cy="667.8" r="25.8" fill="#9db058"/>
<line x1="81.7" y1="575.3" x2="81.7" y2="630.3" stroke="#5a5f66" stroke-width="1.2"/>
<line x1="143.4" y1="576.5" x2="143.4" y2="630.3" stroke="#161616" stroke-width="1.2"/>
<line x1="223.3" y1="575.6" x2="223.3" y2="630.3" stroke="#4a4e55" stroke-width="1.2"/>
<circle cx="567.1" cy="581.2" r="25.7" fill="#6fb0d4"/>
<line x1="671.2" y1="211.4" x2="671.2" y2="254.8" stroke="#161616" stroke-width="1.3"/>
<line x1="794" y1="211.4" x2="794" y2="254.8" stroke="#5a5f66" stroke-width="1.2"/>
<line x1="671.2" y1="277.7" x2="671.2" y2="320.4" stroke="#161616" stroke-width="1.3"/>
<line x1="794" y1="277.7" x2="794" y2="320.4" stroke="#5a5f66" stroke-width="1.2"/>
<circle cx="1063.2" cy="248.3" r="1.0" fill="#e8792b"/>
<circle cx="1141.7" cy="208.2" r="16.3" fill="#f4c430"/>
<circle cx="1195.9" cy="297.2" r="26" fill="#f4c430"/>
</svg>
<div id="txt">
<div class="t b ttl" id="t0" style="left:123.19px;top:47.44px;font-size:63px;transform:scaleX(1.1062)">Sostenibilità</div>
<div class="t b ttl" id="t1" style="left:482.09px;top:47.44px;font-size:63px;transform:scaleX(1.0744)">quotidiana,</div>
<div class="t b ttl" id="t2" style="left:794.89px;top:47.44px;font-size:63px;transform:scaleX(1.0119)">una</div>
<div class="t b ttl" id="t3" style="left:908.20px;top:47.44px;font-size:63px;transform:scaleX(1.1030)">scelta</div>
<div class="t b ttl" id="t4" style="left:1079.51px;top:47.44px;font-size:63px;transform:scaleX(0.9702)">per</div>
<div class="t b ttl" id="t5" style="left:1178.41px;top:47.44px;font-size:63px;transform:scaleX(1.0575)">molti</div>
<div class="t b" id="t6" style="left:58.75px;top:152.84px;font-size:12px;letter-spacing:-0.039px">SUSTAINABLE LIFESTYLE CENTURY</div>
<div class="t" id="t7" style="left:58.50px;top:169.09px;font-size:12px;letter-spacing:0.358px">(Valori %, totale campione)</div>
<div class="t m" id="t8" style="left:59.50px;top:191.09px;font-size:12px;letter-spacing:0.728px">Attitudine verso stili di vita e atteggiamente sostenibili</div>
<div class="t" id="t9" style="left:56.50px;top:220.34px;font-size:12px;letter-spacing:0.599px">2025</div>
<div class="t" id="t10" style="left:56.50px;top:250.34px;font-size:12px;letter-spacing:0.432px">2021</div>
<div class="t m" id="t11" style="left:106.97px;top:216.71px;font-size:16px;transform:scaleX(1.0936)">26%</div>
<div class="t m" id="t12" style="left:106.45px;top:246.96px;font-size:16px;transform:scaleX(1.0788)">23%</div>
<div class="t m" id="t13" style="left:240.00px;top:216.71px;font-size:16px;transform:scaleX(1.0697)">41%</div>
<div class="t m" id="t14" style="left:238.95px;top:246.96px;font-size:16px;transform:scaleX(1.1031)">38%</div>
<div class="t m" id="t15" style="left:435.27px;top:215.36px;font-size:16px;transform:scaleX(1.0721)">18%</div>
<div class="t m" id="t16" style="left:434.43px;top:246.96px;font-size:16px;transform:scaleX(1.0982)">22%</div>
<div class="t m" id="t17" style="left:551.97px;top:215.36px;font-size:16px;transform:scaleX(1.0624)">15%</div>
<div class="t m" id="t18" style="left:551.97px;top:246.96px;font-size:16px;transform:scaleX(1.0624)">17%</div>
<div class="t" id="t19" style="left:108.00px;top:278.84px;font-size:12.3px;letter-spacing:0.439px">Sostenitori</div>
<div class="t" id="t20" style="left:241.25px;top:278.59px;font-size:12.3px;letter-spacing:0.325px">Aperti</div>
<div class="t" id="t21" style="left:436.50px;top:278.09px;font-size:12.3px;letter-spacing:0.323px">Scettici</div>
<div class="t" id="t22" style="left:554.00px;top:278.09px;font-size:12.3px;letter-spacing:0.382px">Indifferenti</div>
<div class="t b" id="t23" style="left:61.00px;top:329.84px;font-size:12px;letter-spacing:0.056px">VIVO SOSTENIBILE QUINDI SPRECO</div>
<div class="t b" id="t24" style="left:61.00px;top:345.54px;font-size:12px;letter-spacing:-0.018px">MENO CIBO</div>
<div class="t" id="t25" style="left:60.60px;top:364.74px;font-size:12px;letter-spacing:0.350px">Si impegna</div>
<div class="t" id="t26" style="left:60.60px;top:380.64px;font-size:12px;letter-spacing:0.258px">a ridurre lo</div>
<div class="t" id="t27" style="left:60.60px;top:396.54px;font-size:12px;letter-spacing:0.614px">spreco</div>
<div class="t" id="t28" style="left:60.60px;top:412.24px;font-size:12px;letter-spacing:0.541px">alimentare</div>
<div class="t m" id="t29" style="left:135.36px;top:383.92px;font-size:22.3px;transform:scaleX(1.1821)">67%</div>
<div class="t m" id="t30" style="left:215.34px;top:374.78px;font-size:15.5px;transform:scaleX(1.1116)">71%</div>
<div class="t" id="t31" style="left:216.80px;top:393.29px;font-size:12.3px;letter-spacing:-0.041px">nel 2021</div>
<div class="t" id="t32" style="left:60.60px;top:438.04px;font-size:12px;letter-spacing:0.341px">Disponibile a ridurre il consumo</div>
<div class="t" id="t33" style="left:60.60px;top:453.74px;font-size:12px;letter-spacing:0.383px">di carne rossa per contribuire a</div>
<div class="t" id="t34" style="left:60.60px;top:469.44px;font-size:12px;letter-spacing:0.418px">limitare il riscaldamento globale</div>
<div class="t" id="t35" style="left:263.79px;top:455.35px;font-size:14px;transform:scaleX(1.1954)">44%</div>
<div class="t b" id="t36" style="left:350.60px;top:329.54px;font-size:12px;letter-spacing:-0.030px">ANCHE LE VACANZE SI FANNO GREEN</div>
<div class="t" id="t37" style="left:350.60px;top:371.24px;font-size:12px;letter-spacing:0.346px">Interesse per</div>
<div class="t" id="t38" style="left:350.60px;top:386.94px;font-size:12px;letter-spacing:0.540px">l'ecoturismo</div>
<div class="t" id="t39" style="left:350.60px;top:402.84px;font-size:12px;letter-spacing:0.196px">[scala 1-10]</div>
<div class="t m" id="t40" style="left:455.42px;top:383.22px;font-size:22.3px;transform:scaleX(1.1127)">7,8</div>
<div class="t m" id="t41" style="left:530.16px;top:372.98px;font-size:15.5px;transform:scaleX(1.0373)">8,4</div>
<div class="t" id="t42" style="left:531.40px;top:392.59px;font-size:12.3px;letter-spacing:0.016px">nel 2021</div>
<div class="t" id="t43" style="left:350.60px;top:436.34px;font-size:12px;letter-spacing:0.330px">Si pone il problema di fare scelte</div>
<div class="t" id="t44" style="left:350.60px;top:452.04px;font-size:12px;letter-spacing:0.439px">sostenibili quando pianifica una</div>
<div class="t" id="t45" style="left:350.60px;top:467.94px;font-size:12px;letter-spacing:0.716px">vacanza</div>
<div class="t m" id="t46" style="left:549.75px;top:449.28px;font-size:15.5px;transform:scaleX(1.1135)">59%</div>
<div class="t b" id="t47" style="left:58.50px;top:516.44px;font-size:12px;letter-spacing:-0.124px">SEMPRE PIÙ GREEN MOBILITY</div>
<div class="t" id="t48" style="left:58.50px;top:532.24px;font-size:12px;letter-spacing:0.298px">Nel 2026 pensa di spostarsi più spesso...</div>
<div class="t m" id="t49" style="left:84.20px;top:601.98px;font-size:15.5px;transform:scaleX(1.1054)">45%</div>
<div class="t" id="t50" style="left:84.40px;top:619.89px;font-size:12.3px;letter-spacing:0.146px">A piedi</div>
<div class="t m" id="t51" style="left:147.73px;top:601.98px;font-size:15.5px;transform:scaleX(1.1437)">30%</div>
<div class="t" id="t52" style="left:148.60px;top:619.89px;font-size:12.3px;letter-spacing:0.324px">In bicicletta</div>
<div class="t m" id="t53" style="left:226.43px;top:601.98px;font-size:15.5px;transform:scaleX(1.1269)">20%</div>
<div class="t" id="t54" style="left:227.50px;top:619.89px;font-size:12.3px;letter-spacing:0.097px">Mezzi pubblici</div>
<div class="t" id="t55" style="left:58.50px;top:647.74px;font-size:12px;letter-spacing:0.256px">Disponibile ad usare mezzi</div>
<div class="t" id="t56" style="left:58.50px;top:663.34px;font-size:12px;letter-spacing:0.412px">alternativi all'auto per contribuire</div>
<div class="t" id="t57" style="left:58.50px;top:679.34px;font-size:12px;letter-spacing:0.405px">a limitare il riscaldamento globale</div>
<div class="t m" id="t58" style="left:262.91px;top:659.88px;font-size:15.5px;transform:scaleX(1.1091)">47%</div>
<div class="t b" id="t59" style="left:350.20px;top:516.44px;font-size:12px;letter-spacing:-0.037px">L'EFFICIENZA ENERGETICA TRA</div>
<div class="t b" id="t60" style="left:350.20px;top:532.24px;font-size:12px;letter-spacing:0.021px">I DRIVER PER LA NUOVA CASA</div>
<div class="t" id="t61" style="left:348.50px;top:555.94px;font-size:12px;letter-spacing:0.458px">Considera l'efficienza energetica</div>
<div class="t" id="t62" style="left:348.50px;top:572.04px;font-size:12px;letter-spacing:0.391px">il fattore principale nella scelta di</div>
<div class="t" id="t63" style="left:348.50px;top:587.84px;font-size:12px;letter-spacing:0.397px">una casa di nuova o recente</div>
<div class="t" id="t64" style="left:348.50px;top:603.34px;font-size:12px;letter-spacing:0.414px">costruzione in cui abitare</div>
<div class="t m" id="t65" style="left:548.74px;top:572.68px;font-size:15.5px;transform:scaleX(1.1269)">55%</div>
<div class="t b" id="t66" style="left:348.57px;top:631.85px;font-size:22.5px;transform:scaleX(1.1600)">57%</div>
<div class="t" id="t67" style="left:348.50px;top:655.64px;font-size:12px;letter-spacing:0.544px">Adotta buone pratiche</div>
<div class="t" id="t68" style="left:348.50px;top:671.64px;font-size:12px;letter-spacing:0.357px">in casa*</div>
<div class="t" id="t69" style="left:57.50px;top:722.38px;font-size:9px;-webkit-text-stroke:0;letter-spacing:0.288px">*Spegnere le luci, non lasciare l'acqua scorrere dal rubinetto...</div>
<div class="t" id="t70" style="left:57.50px;top:734.08px;font-size:9px;-webkit-text-stroke:0;letter-spacing:0.343px">Fonte: Ufficio Studi Coop -Nomisma "Wish List 2026", consumer survey, agosto 2025, e "Today, Tomorrow", consumer survey,</div>
<div class="t" id="t71" style="left:57.50px;top:745.38px;font-size:9px;-webkit-text-stroke:0;letter-spacing:0.369px">dicembre 2025, Ipsos, Altroconsumo, Symbola, NotoSondaggi.</div>
<div class="t b" id="t72" style="left:671.20px;top:152.54px;font-size:12px;letter-spacing:-0.010px">VINTAGE E RAZIONALIZZAZIONE DELLE SPESE</div>
<div class="t b" id="t73" style="left:671.20px;top:168.54px;font-size:12px;letter-spacing:0.107px">AIUTANO LA SOSTENIBILITÀ</div>
<div class="t" id="t74" style="left:671.20px;top:184.44px;font-size:12px;letter-spacing:0.316px">Nel 2026 pensa di aumentare la frequenza con cui...</div>
<div class="t m" id="t75" style="left:675.19px;top:208.28px;font-size:15.5px;transform:scaleX(1.1135)">32%</div>
<div class="t" id="t76" style="left:676.40px;top:227.04px;font-size:12px;letter-spacing:0.416px">Acquista solo ciò</div>
<div class="t" id="t77" style="left:676.40px;top:242.94px;font-size:12px;letter-spacing:0.398px">che è necessario</div>
<div class="t m" id="t78" style="left:798.05px;top:207.78px;font-size:15.5px;transform:scaleX(1.1135)">26%</div>
<div class="t" id="t79" style="left:798.20px;top:226.34px;font-size:12px;letter-spacing:0.429px">Sceglie prodotti sostenibili,</div>
<div class="t" id="t80" style="left:798.20px;top:242.24px;font-size:12px;letter-spacing:0.423px">anche se costano di più</div>
<div class="t m" id="t81" style="left:675.19px;top:274.08px;font-size:15.5px;transform:scaleX(1.1135)">30%</div>
<div class="t" id="t82" style="left:676.40px;top:292.14px;font-size:12px;letter-spacing:0.349px">Ripara gli oggetti</div>
<div class="t" id="t83" style="left:676.40px;top:307.84px;font-size:12px;letter-spacing:0.341px">invece di sostituirli</div>
<div class="t m" id="t84" style="left:798.05px;top:272.48px;font-size:15.5px;transform:scaleX(1.1135)">24%</div>
<div class="t" id="t85" style="left:798.20px;top:291.44px;font-size:12px;letter-spacing:0.607px">Acquista prodotti</div>
<div class="t" id="t86" style="left:798.20px;top:307.14px;font-size:12px;letter-spacing:0.409px">di seconda mano / vintage</div>
<div class="t b" id="t87" style="left:1000.50px;top:152.54px;font-size:12px;letter-spacing:-0.008px">E ANCHE LA FINANZA SI FA PIÙ ETICA</div>
<div class="t" id="t88" style="left:1000.50px;top:168.54px;font-size:12px;letter-spacing:0.391px">Esperienza diretta con finanza etica e sostenibile</div>
<div class="t b" id="t89" style="left:1000.59px;top:193.95px;font-size:22.5px;transform:scaleX(1.1375)">10%</div>
<div class="t" id="t90" style="left:1000.50px;top:216.94px;font-size:12px;letter-spacing:0.504px">Ha fatto investimenti</div>
<div class="t" id="t91" style="left:1000.50px;top:232.94px;font-size:12px;letter-spacing:0.418px">etici o sostenibili</div>
<div class="t b" id="t92" style="left:1132.09px;top:199.15px;font-size:14px;transform:scaleX(1.1488)">vs.</div>
<div class="t b" id="t93" style="left:1166.70px;top:193.95px;font-size:22.5px;transform:scaleX(1.1301)">49%</div>
<div class="t" id="t94" style="left:1166.20px;top:216.94px;font-size:12px;letter-spacing:0.420px">Li prenderebbe</div>
<div class="t" id="t95" style="left:1166.20px;top:232.94px;font-size:12px;letter-spacing:0.418px">in considerazionese</div>
<div class="t" id="t96" style="left:1166.20px;top:248.84px;font-size:12px;letter-spacing:0.468px">dovesse investire</div>
<div class="t" id="t97" style="left:1000.50px;top:276.24px;font-size:12px;letter-spacing:0.558px">18-35enni che riconoscono</div>
<div class="t" id="t98" style="left:1000.50px;top:292.14px;font-size:12px;letter-spacing:0.398px">alla sosteniblità un ruolo</div>
<div class="t" id="t99" style="left:1000.50px;top:307.84px;font-size:12px;letter-spacing:0.349px">nelle scelte finanziarie</div>
<div class="t b" id="t100" style="left:1177.73px;top:289.10px;font-size:15px;transform:scaleX(1.1312)">16%</div>
</div>
<div id="vt">#rappcoop26 <b>italiani.coop</b></div>
</body></html>
